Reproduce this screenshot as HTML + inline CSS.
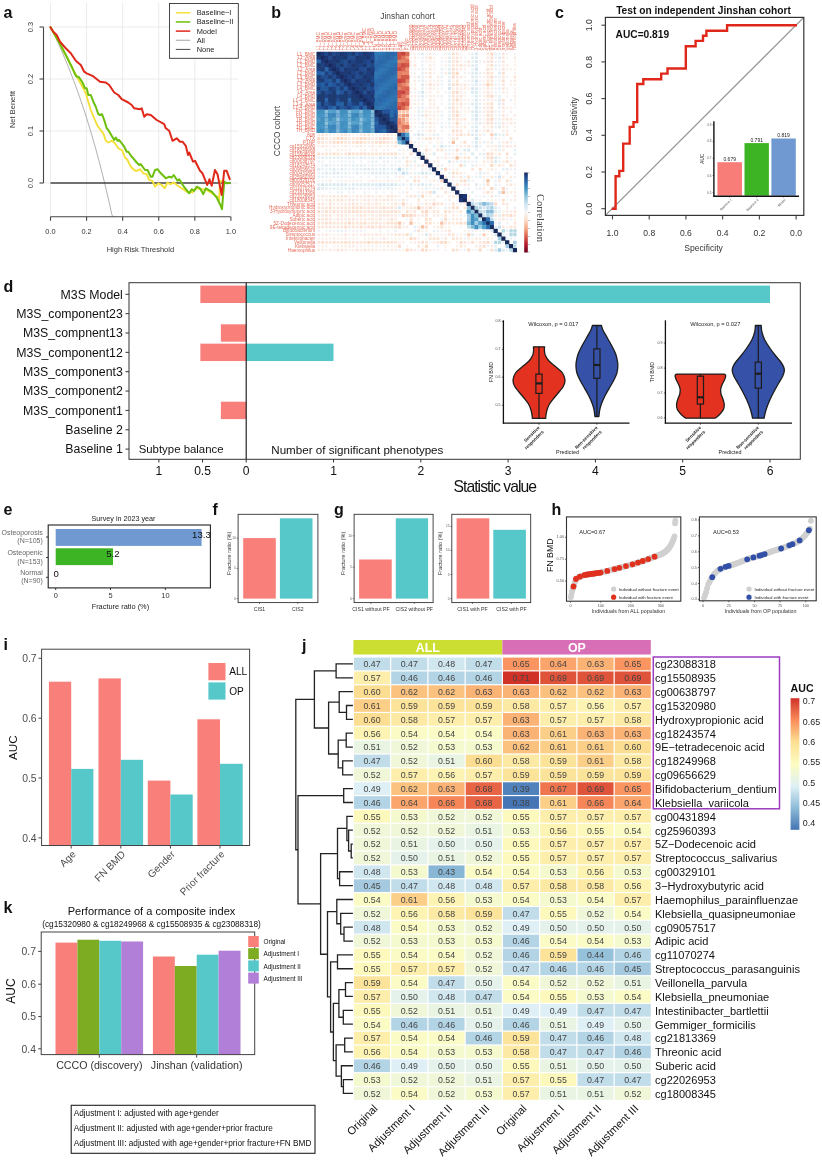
<!DOCTYPE html>
<html lang="en"><head><meta charset="utf-8"><title>Figure</title>
<style>
html,body{margin:0;padding:0;background:#fff;}
body{width:822px;height:1162px;overflow:hidden;}
svg{display:block;font-family:"Liberation Sans",sans-serif;}
</style></head><body>
<svg width="822" height="1162" viewBox="0 0 822 1162">
<rect x="0" y="0" width="822" height="1162" fill="#ffffff"/>
<g id="pa">
<text x="3.5" y="17.5" font-size="16" font-weight="bold" fill="#111" >a</text>
<line x1="50.5" y1="3" x2="50.5" y2="216.5" stroke="#e6e6e6" stroke-width="0.8" />
<line x1="86.58" y1="3" x2="86.58" y2="216.5" stroke="#e6e6e6" stroke-width="0.8" />
<line x1="122.66" y1="3" x2="122.66" y2="216.5" stroke="#e6e6e6" stroke-width="0.8" />
<line x1="158.74" y1="3" x2="158.74" y2="216.5" stroke="#e6e6e6" stroke-width="0.8" />
<line x1="194.82" y1="3" x2="194.82" y2="216.5" stroke="#e6e6e6" stroke-width="0.8" />
<line x1="230.9" y1="3" x2="230.9" y2="216.5" stroke="#e6e6e6" stroke-width="0.8" />
<line x1="43.5" y1="183" x2="238.5" y2="183" stroke="#e6e6e6" stroke-width="0.8" />
<line x1="43.5" y1="131" x2="238.5" y2="131" stroke="#e6e6e6" stroke-width="0.8" />
<line x1="43.5" y1="79" x2="238.5" y2="79" stroke="#e6e6e6" stroke-width="0.8" />
<line x1="43.5" y1="27" x2="238.5" y2="27" stroke="#e6e6e6" stroke-width="0.8" />
<polyline points="50.5,27 52.3,30.68 54.11,34.43 55.91,38.26 57.72,42.17 59.52,46.16 61.32,50.23 63.13,54.4 64.93,58.65 66.74,63 68.54,67.44 70.34,71.99 72.15,76.64 73.95,81.39 75.76,86.26 77.56,91.24 79.36,96.33 81.17,101.55 82.97,106.9 84.78,112.38 86.58,118 88.38,123.76 90.19,129.67 91.99,135.73 93.8,141.95 95.6,148.33 97.4,154.89 99.21,161.63 101.01,168.56 102.82,175.68 104.62,183 106.42,190.54 108.23,198.29 110.03,206.28 111.84,214.52 112.8,216.4" fill="none" stroke="#9a9a9a" stroke-width="0.8" stroke-linejoin="round" stroke-linecap="round" />
<line x1="50.5" y1="183" x2="230.8" y2="183" stroke="#444" stroke-width="1.3" />
<polyline points="50.5,27.2 60,44 66.7,56.7 73.3,70 78.3,79.2 83.3,88.3 85.8,93.3 88.3,101.7 90.8,110 94.2,118.3 97.5,125.8 100,129.2 103.3,133.3 105.8,140.8 108.3,142.5 111.7,140.8 115,143.3 118.3,148.3 122.5,150.8 125,157.5 127.5,160 130.8,166.7 135,170.8 137,170.8 140,169.2 143.3,173.3 146.7,174.2 149.2,180 152.5,180.8 155,186.7 158.3,183.3 161.7,185 164.7,188.3 167.5,182.5 170,184.2 174.2,182.5 176.7,185 181.7,188.3 186.7,191.7 192.5,192.5 195.8,188.3 201.7,189.2 206.7,190 213.3,194.2 217.5,196.7 219.2,200 220,181.7 221.7,180.8 224,183" fill="none" stroke="#f4e03a" stroke-width="1.9" stroke-linejoin="round" stroke-linecap="round" />
<polyline points="50.5,27.2 60,44 66.7,56.7 71.7,66.7 75.8,75.8 79.2,77.5 82.5,82.5 85,88.3 86.7,88.3 88.3,95 90.8,95 93.3,101.7 95.8,106.7 98.3,114.2 100,115 102,114.2 104.2,120 106.7,128.3 108.3,130 111.7,135.8 114.2,140 115.8,137.5 117.5,140.8 119.2,140 124.2,146.7 126.7,151.7 128.3,151.7 131.7,156.7 133.3,158.3 136.7,162.5 139.2,165 140.8,164.2 145,170 147.5,170 150.8,176.7 152.5,176.7 155,170 157.5,169.2 160.8,173.3 165.8,178.3 169.2,176.7 171.7,177.5 173.7,175 177.5,180.8 179.2,179.2 183.3,185.8 189.2,193.3 191.7,189.2 194.2,190.8 196.7,186.7 200,188.3 203.3,194.2 205.8,188.3 211.7,191.7 216.7,197.5 220,204.2 222,209.2 224.2,181.7 226.7,183.3 229.7,183" fill="none" stroke="#6cbf0a" stroke-width="2" stroke-linejoin="round" stroke-linecap="round" />
<polyline points="50.5,27.2 53.3,31.7 56.7,35 60,41.7 65,47.5 70.8,53.3 75.8,60.8 80.8,65 84.2,71.7 86.7,73.3 92.5,75.8 100,81.7 105.8,82.5 109.2,85 114.2,92.5 118.3,95 121.7,99.2 128.3,102.5 131.7,105 134.2,108.3 140,109.2 141.7,108.3 144.2,116.7 146.7,114.2 150.8,115 156.7,120 164.2,124.2 165.8,128.3 169.2,130.8 172.5,140.8 176.7,138.3 180,141.7 182.5,141.7 185.8,145.8 188,155 189.2,152.5 193,161.7 195,160.8 200,170.8 202.5,173.3 207.2,185 209.5,179.2 211.7,185.8 215,170 217.5,174.2 221.7,195 224.2,170.8 226.7,170.8 229.7,179.2" fill="none" stroke="#e0281a" stroke-width="2" stroke-linejoin="round" stroke-linecap="round" />
<line x1="43.5" y1="27.2" x2="43.5" y2="183" stroke="#444" stroke-width="1.1" />
<line x1="39.5" y1="183" x2="43.5" y2="183" stroke="#444" stroke-width="1.1" />
<text x="30.5" y="183" font-size="7.4" text-anchor="middle" dominant-baseline="central" fill="#333" transform="rotate(-90 30.5 183)" >0.0</text>
<line x1="39.5" y1="131" x2="43.5" y2="131" stroke="#444" stroke-width="1.1" />
<text x="30.5" y="131" font-size="7.4" text-anchor="middle" dominant-baseline="central" fill="#333" transform="rotate(-90 30.5 131)" >0.1</text>
<line x1="39.5" y1="79" x2="43.5" y2="79" stroke="#444" stroke-width="1.1" />
<text x="30.5" y="79" font-size="7.4" text-anchor="middle" dominant-baseline="central" fill="#333" transform="rotate(-90 30.5 79)" >0.2</text>
<line x1="39.5" y1="27" x2="43.5" y2="27" stroke="#444" stroke-width="1.1" />
<text x="30.5" y="27" font-size="7.4" text-anchor="middle" dominant-baseline="central" fill="#333" transform="rotate(-90 30.5 27)" >0.3</text>
<line x1="50.5" y1="216.7" x2="230.8" y2="216.7" stroke="#444" stroke-width="1.1" />
<line x1="50.5" y1="216.7" x2="50.5" y2="220.7" stroke="#444" stroke-width="1.1" />
<text x="50.5" y="231" font-size="7.4" text-anchor="middle" dominant-baseline="central" fill="#333" >0.0</text>
<line x1="86.58" y1="216.7" x2="86.58" y2="220.7" stroke="#444" stroke-width="1.1" />
<text x="86.58" y="231" font-size="7.4" text-anchor="middle" dominant-baseline="central" fill="#333" >0.2</text>
<line x1="122.66" y1="216.7" x2="122.66" y2="220.7" stroke="#444" stroke-width="1.1" />
<text x="122.66" y="231" font-size="7.4" text-anchor="middle" dominant-baseline="central" fill="#333" >0.4</text>
<line x1="158.74" y1="216.7" x2="158.74" y2="220.7" stroke="#444" stroke-width="1.1" />
<text x="158.74" y="231" font-size="7.4" text-anchor="middle" dominant-baseline="central" fill="#333" >0.6</text>
<line x1="194.82" y1="216.7" x2="194.82" y2="220.7" stroke="#444" stroke-width="1.1" />
<text x="194.82" y="231" font-size="7.4" text-anchor="middle" dominant-baseline="central" fill="#333" >0.8</text>
<line x1="230.9" y1="216.7" x2="230.9" y2="220.7" stroke="#444" stroke-width="1.1" />
<text x="230.9" y="231" font-size="7.4" text-anchor="middle" dominant-baseline="central" fill="#333" >1.0</text>
<text x="12.5" y="109.5" font-size="7.5" text-anchor="middle" dominant-baseline="central" fill="#333" transform="rotate(-90 12.5 109.5)" >Net Benefit</text>
<text x="140.4" y="249" font-size="7.5" text-anchor="middle" dominant-baseline="central" fill="#333" >High Risk Threshold</text>
<rect x="169.5" y="3.5" width="68.8" height="54.8" fill="#fff" stroke="#333" stroke-width="0.9" />
<line x1="175.8" y1="12.8" x2="190.3" y2="12.8" stroke="#f4e03a" stroke-width="1.5" />
<text x="196.7" y="12.8" font-size="7.4" dominant-baseline="central" fill="#222" >Baseline−I</text>
<line x1="175.8" y1="21.95" x2="190.3" y2="21.95" stroke="#6cbf0a" stroke-width="1.5" />
<text x="196.7" y="21.95" font-size="7.4" dominant-baseline="central" fill="#222" >Baseline−II</text>
<line x1="175.8" y1="31.1" x2="190.3" y2="31.1" stroke="#e0281a" stroke-width="1.5" />
<text x="196.7" y="31.1" font-size="7.4" dominant-baseline="central" fill="#222" >Model</text>
<line x1="175.8" y1="40.25" x2="190.3" y2="40.25" stroke="#9a9a9a" stroke-width="0.9" />
<text x="196.7" y="40.25" font-size="7.4" dominant-baseline="central" fill="#222" >All</text>
<line x1="175.8" y1="49.4" x2="190.3" y2="49.4" stroke="#333" stroke-width="0.9" />
<text x="196.7" y="49.4" font-size="7.4" dominant-baseline="central" fill="#222" >None</text>
</g>
<g id="pb">
<text x="271.3" y="18.2" font-size="16" font-weight="bold" fill="#111" >b</text>
<text x="407.5" y="16" font-size="8.4" text-anchor="middle" dominant-baseline="central" fill="#444" >Jinshan cohort</text>
<text x="277" y="131" font-size="8.4" text-anchor="middle" dominant-baseline="central" fill="#444" transform="rotate(-90 277 131)" >CCCO cohort</text>
<rect x="316.8" y="52" width="80.77" height="80.77" fill="#2a62a8" />
<rect x="397.57" y="52" width="11.54" height="57.69" fill="#d6604d" />
<path d="M316.57 51.77h4.3v4.3h-4.3zM320.42 55.62h4.3v4.3h-4.3zM324.27 59.47h4.3v4.3h-4.3zM328.11 63.31h4.3v4.3h-4.3zM331.96 67.16h4.3v4.3h-4.3zM335.81 71h4.3v4.3h-4.3zM339.65 74.85h4.3v4.3h-4.3zM343.5 78.7h4.3v4.3h-4.3zM347.34 82.54h4.3v4.3h-4.3zM351.19 86.39h4.3v4.3h-4.3zM355.03 90.24h4.3v4.3h-4.3zM358.88 94.08h4.3v4.3h-4.3zM362.73 97.93h4.3v4.3h-4.3zM366.57 101.77h4.3v4.3h-4.3zM370.42 105.62h4.3v4.3h-4.3zM374.26 109.47h4.3v4.3h-4.3zM378.11 113.31h4.3v4.3h-4.3zM381.96 117.16h4.3v4.3h-4.3zM385.8 121h4.3v4.3h-4.3zM389.65 124.85h4.3v4.3h-4.3zM393.5 128.7h4.3v4.3h-4.3zM397.34 132.54h4.3v4.3h-4.3zM401.19 136.39h4.3v4.3h-4.3zM405.03 140.23h4.3v4.3h-4.3zM408.88 144.08h4.3v4.3h-4.3zM412.73 147.93h4.3v4.3h-4.3zM416.57 151.77h4.3v4.3h-4.3zM420.42 155.62h4.3v4.3h-4.3zM424.26 159.46h4.3v4.3h-4.3zM428.11 163.31h4.3v4.3h-4.3zM431.95 167.16h4.3v4.3h-4.3zM435.8 171h4.3v4.3h-4.3zM439.65 174.85h4.3v4.3h-4.3zM443.49 178.69h4.3v4.3h-4.3zM447.34 182.54h4.3v4.3h-4.3zM451.19 186.39h4.3v4.3h-4.3zM455.03 190.23h4.3v4.3h-4.3zM458.88 194.08h4.3v4.3h-4.3zM462.72 197.92h4.3v4.3h-4.3zM466.57 201.77h4.3v4.3h-4.3zM470.41 205.62h4.3v4.3h-4.3zM474.26 209.46h4.3v4.3h-4.3zM478.11 213.31h4.3v4.3h-4.3zM481.95 217.15h4.3v4.3h-4.3zM485.8 221h4.3v4.3h-4.3zM489.64 224.84h4.3v4.3h-4.3zM493.49 228.69h4.3v4.3h-4.3zM497.34 232.54h4.3v4.3h-4.3zM501.18 236.38h4.3v4.3h-4.3zM505.03 240.23h4.3v4.3h-4.3zM508.88 244.08h4.3v4.3h-4.3zM512.72 247.92h4.3v4.3h-4.3z" fill="#182a5a"/>
<path d="M320.42 51.77h4.3v4.3h-4.3zM316.57 55.62h4.3v4.3h-4.3zM324.27 55.62h4.3v4.3h-4.3zM320.42 59.47h4.3v4.3h-4.3zM328.11 59.47h4.3v4.3h-4.3zM324.27 63.31h4.3v4.3h-4.3zM331.96 63.31h4.3v4.3h-4.3zM328.11 67.16h4.3v4.3h-4.3zM335.81 67.16h4.3v4.3h-4.3zM331.96 71h4.3v4.3h-4.3zM339.65 71h4.3v4.3h-4.3zM335.81 74.85h4.3v4.3h-4.3zM343.5 74.85h4.3v4.3h-4.3zM339.65 78.7h4.3v4.3h-4.3zM347.34 78.7h4.3v4.3h-4.3zM343.5 82.54h4.3v4.3h-4.3zM351.19 82.54h4.3v4.3h-4.3zM347.34 86.39h4.3v4.3h-4.3zM355.03 86.39h4.3v4.3h-4.3zM351.19 90.24h4.3v4.3h-4.3zM358.88 90.24h4.3v4.3h-4.3zM355.03 94.08h4.3v4.3h-4.3zM362.73 94.08h4.3v4.3h-4.3zM358.88 97.93h4.3v4.3h-4.3zM366.57 97.93h4.3v4.3h-4.3zM362.73 101.77h4.3v4.3h-4.3zM370.42 101.77h4.3v4.3h-4.3zM366.57 105.62h4.3v4.3h-4.3zM462.72 194.08h4.3v4.3h-4.3zM458.88 197.92h4.3v4.3h-4.3z" fill="#1e3672"/>
<path d="M324.27 51.77h4.3v4.3h-4.3zM370.42 78.7h4.3v4.3h-4.3zM366.57 82.54h4.3v4.3h-4.3zM370.42 86.39h4.3v4.3h-4.3zM328.11 90.24h4.3v4.3h-4.3zM393.5 121h4.3v4.3h-4.3zM385.8 128.7h4.3v4.3h-4.3z" fill="#1e488a"/>
<path d="M328.11 51.77h4.3v4.3h-4.3zM339.65 51.77h4.3v4.3h-4.3zM351.19 51.77h4.3v4.3h-4.3zM362.73 51.77h4.3v4.3h-4.3zM331.96 55.62h4.3v4.3h-4.3zM343.5 55.62h4.3v4.3h-4.3zM355.03 55.62h4.3v4.3h-4.3zM366.57 55.62h4.3v4.3h-4.3zM335.81 59.47h4.3v4.3h-4.3zM347.34 59.47h4.3v4.3h-4.3zM358.88 59.47h4.3v4.3h-4.3zM370.42 59.47h4.3v4.3h-4.3zM339.65 63.31h4.3v4.3h-4.3zM351.19 63.31h4.3v4.3h-4.3zM362.73 63.31h4.3v4.3h-4.3zM343.5 67.16h4.3v4.3h-4.3zM355.03 67.16h4.3v4.3h-4.3zM366.57 67.16h4.3v4.3h-4.3zM347.34 71h4.3v4.3h-4.3zM358.88 71h4.3v4.3h-4.3zM370.42 71h4.3v4.3h-4.3zM351.19 74.85h4.3v4.3h-4.3zM362.73 74.85h4.3v4.3h-4.3zM355.03 78.7h4.3v4.3h-4.3zM366.57 78.7h4.3v4.3h-4.3zM358.88 82.54h4.3v4.3h-4.3zM370.42 82.54h4.3v4.3h-4.3zM362.73 86.39h4.3v4.3h-4.3zM366.57 90.24h4.3v4.3h-4.3zM370.42 94.08h4.3v4.3h-4.3zM378.11 109.47h4.3v4.3h-4.3zM374.26 113.31h4.3v4.3h-4.3zM381.96 113.31h4.3v4.3h-4.3zM378.11 117.16h4.3v4.3h-4.3zM385.8 117.16h4.3v4.3h-4.3zM381.96 121h4.3v4.3h-4.3zM389.65 121h4.3v4.3h-4.3zM385.8 124.85h4.3v4.3h-4.3zM393.5 124.85h4.3v4.3h-4.3zM389.65 128.7h4.3v4.3h-4.3z" fill="#1e366c"/>
<path d="M331.96 51.77h4.3v4.3h-4.3zM328.11 55.62h4.3v4.3h-4.3z" fill="#24488a"/>
<path d="M335.81 51.77h4.3v4.3h-4.3zM370.42 74.85h4.3v4.3h-4.3zM362.73 82.54h4.3v4.3h-4.3zM358.88 86.39h4.3v4.3h-4.3zM328.11 101.77h4.3v4.3h-4.3z" fill="#1e427e"/>
<path d="M343.5 51.77h4.3v4.3h-4.3zM366.57 51.77h4.3v4.3h-4.3zM335.81 55.62h4.3v4.3h-4.3zM339.65 55.62h4.3v4.3h-4.3zM358.88 55.62h4.3v4.3h-4.3zM362.73 55.62h4.3v4.3h-4.3zM331.96 59.47h4.3v4.3h-4.3zM355.03 59.47h4.3v4.3h-4.3zM355.03 63.31h4.3v4.3h-4.3zM347.34 67.16h4.3v4.3h-4.3zM351.19 67.16h4.3v4.3h-4.3zM343.5 71h4.3v4.3h-4.3zM366.57 74.85h4.3v4.3h-4.3zM362.73 78.7h4.3v4.3h-4.3zM385.8 113.31h4.3v4.3h-4.3zM378.11 121h4.3v4.3h-4.3z" fill="#1e3c78"/>
<path d="M347.34 51.77h4.3v4.3h-4.3zM339.65 59.47h4.3v4.3h-4.3zM335.81 63.31h4.3v4.3h-4.3zM370.42 63.31h4.3v4.3h-4.3zM362.73 71h4.3v4.3h-4.3zM358.88 74.85h4.3v4.3h-4.3z" fill="#1e4884"/>
<path d="M355.03 51.77h4.3v4.3h-4.3zM347.34 55.62h4.3v4.3h-4.3zM351.19 55.62h4.3v4.3h-4.3zM343.5 59.47h4.3v4.3h-4.3zM343.5 63.31h4.3v4.3h-4.3zM366.57 63.31h4.3v4.3h-4.3zM339.65 67.16h4.3v4.3h-4.3zM362.73 67.16h4.3v4.3h-4.3zM320.42 74.85h4.3v4.3h-4.3zM324.27 74.85h4.3v4.3h-4.3zM331.96 74.85h4.3v4.3h-4.3zM355.03 74.85h4.3v4.3h-4.3zM351.19 78.7h4.3v4.3h-4.3zM339.65 82.54h4.3v4.3h-4.3zM366.57 86.39h4.3v4.3h-4.3zM324.27 90.24h4.3v4.3h-4.3zM347.34 90.24h4.3v4.3h-4.3zM362.73 90.24h4.3v4.3h-4.3zM335.81 97.93h4.3v4.3h-4.3zM320.42 105.62h4.3v4.3h-4.3zM343.5 105.62h4.3v4.3h-4.3z" fill="#244e90"/>
<path d="M358.88 51.77h4.3v4.3h-4.3zM370.42 51.77h4.3v4.3h-4.3zM351.19 59.47h4.3v4.3h-4.3zM362.73 59.47h4.3v4.3h-4.3zM320.42 63.31h4.3v4.3h-4.3zM347.34 63.31h4.3v4.3h-4.3zM358.88 63.31h4.3v4.3h-4.3zM316.57 67.16h4.3v4.3h-4.3zM324.27 71h4.3v4.3h-4.3zM351.19 71h4.3v4.3h-4.3zM347.34 74.85h4.3v4.3h-4.3zM316.57 78.7h4.3v4.3h-4.3zM324.27 82.54h4.3v4.3h-4.3zM335.81 82.54h4.3v4.3h-4.3zM331.96 86.39h4.3v4.3h-4.3zM324.27 94.08h4.3v4.3h-4.3zM335.81 94.08h4.3v4.3h-4.3zM347.34 94.08h4.3v4.3h-4.3zM351.19 101.77h4.3v4.3h-4.3zM324.27 105.62h4.3v4.3h-4.3zM335.81 105.62h4.3v4.3h-4.3zM347.34 105.62h4.3v4.3h-4.3zM358.88 105.62h4.3v4.3h-4.3z" fill="#1e4284"/>
<path d="M374.26 51.77h4.3v4.3h-4.3zM378.11 51.77h4.3v4.3h-4.3zM374.26 55.62h4.3v4.3h-4.3zM393.5 55.62h4.3v4.3h-4.3zM389.65 59.47h4.3v4.3h-4.3zM393.5 59.47h4.3v4.3h-4.3zM385.8 63.31h4.3v4.3h-4.3zM378.11 67.16h4.3v4.3h-4.3zM381.96 67.16h4.3v4.3h-4.3zM374.26 71h4.3v4.3h-4.3zM378.11 71h4.3v4.3h-4.3zM374.26 74.85h4.3v4.3h-4.3zM393.5 74.85h4.3v4.3h-4.3zM389.65 78.7h4.3v4.3h-4.3zM385.8 82.54h4.3v4.3h-4.3zM378.11 86.39h4.3v4.3h-4.3zM381.96 86.39h4.3v4.3h-4.3zM374.26 90.24h4.3v4.3h-4.3zM378.11 90.24h4.3v4.3h-4.3zM393.5 94.08h4.3v4.3h-4.3zM389.65 97.93h4.3v4.3h-4.3zM381.96 101.77h4.3v4.3h-4.3zM385.8 101.77h4.3v4.3h-4.3zM378.11 105.62h4.3v4.3h-4.3zM381.96 105.62h4.3v4.3h-4.3z" fill="#3078b4"/>
<path d="M381.96 51.77h4.3v4.3h-4.3zM385.8 59.47h4.3v4.3h-4.3zM381.96 63.31h4.3v4.3h-4.3zM385.8 67.16h4.3v4.3h-4.3zM381.96 71h4.3v4.3h-4.3zM389.65 74.85h4.3v4.3h-4.3zM385.8 78.7h4.3v4.3h-4.3zM389.65 82.54h4.3v4.3h-4.3zM385.8 86.39h4.3v4.3h-4.3zM374.26 94.08h4.3v4.3h-4.3zM389.65 94.08h4.3v4.3h-4.3zM393.5 97.93h4.3v4.3h-4.3zM389.65 101.77h4.3v4.3h-4.3zM374.26 105.62h4.3v4.3h-4.3z" fill="#3072ae"/>
<path d="M385.8 51.77h4.3v4.3h-4.3zM381.96 55.62h4.3v4.3h-4.3zM381.96 59.47h4.3v4.3h-4.3zM389.65 67.16h4.3v4.3h-4.3zM385.8 71h4.3v4.3h-4.3zM385.8 74.85h4.3v4.3h-4.3zM381.96 78.7h4.3v4.3h-4.3zM389.65 86.39h4.3v4.3h-4.3zM389.65 90.24h4.3v4.3h-4.3zM385.8 94.08h4.3v4.3h-4.3zM374.26 97.93h4.3v4.3h-4.3zM374.26 101.77h4.3v4.3h-4.3zM393.5 101.77h4.3v4.3h-4.3zM389.65 105.62h4.3v4.3h-4.3zM393.5 105.62h4.3v4.3h-4.3zM389.65 113.31h4.3v4.3h-4.3zM381.96 128.7h4.3v4.3h-4.3z" fill="#2a6ca8"/>
<path d="M389.65 51.77h4.3v4.3h-4.3zM385.8 55.62h4.3v4.3h-4.3zM316.57 59.47h4.3v4.3h-4.3zM378.11 59.47h4.3v4.3h-4.3zM374.26 63.31h4.3v4.3h-4.3zM324.27 67.16h4.3v4.3h-4.3zM393.5 67.16h4.3v4.3h-4.3zM320.42 71h4.3v4.3h-4.3zM389.65 71h4.3v4.3h-4.3zM381.96 74.85h4.3v4.3h-4.3zM378.11 78.7h4.3v4.3h-4.3zM374.26 82.54h4.3v4.3h-4.3zM393.5 86.39h4.3v4.3h-4.3zM335.81 90.24h4.3v4.3h-4.3zM385.8 90.24h4.3v4.3h-4.3zM381.96 94.08h4.3v4.3h-4.3zM324.27 97.93h4.3v4.3h-4.3zM347.34 97.93h4.3v4.3h-4.3zM378.11 97.93h4.3v4.3h-4.3zM331.96 105.62h4.3v4.3h-4.3zM374.26 121h4.3v4.3h-4.3z" fill="#2a66a8"/>
<path d="M393.5 51.77h4.3v4.3h-4.3zM378.11 63.31h4.3v4.3h-4.3zM374.26 78.7h4.3v4.3h-4.3zM393.5 82.54h4.3v4.3h-4.3zM378.11 94.08h4.3v4.3h-4.3zM381.96 97.93h4.3v4.3h-4.3zM389.65 109.47h4.3v4.3h-4.3zM401.19 132.54h4.3v4.3h-4.3zM405.03 136.39h4.3v4.3h-4.3zM485.8 217.15h4.3v4.3h-4.3zM481.95 221h4.3v4.3h-4.3zM489.64 221h4.3v4.3h-4.3zM485.8 224.84h4.3v4.3h-4.3z" fill="#2a6cae"/>
<path d="M397.34 51.77h4.3v4.3h-4.3zM397.34 94.08h4.3v4.3h-4.3z" fill="#d25448"/>
<path d="M401.19 51.77h4.3v4.3h-4.3z" fill="#c6423c"/>
<path d="M405.03 51.77h4.3v4.3h-4.3zM397.34 82.54h4.3v4.3h-4.3z" fill="#d86c54"/>
<path d="M409.93 52.83h2.19v2.19h-2.19zM413.78 52.83h2.18v2.18h-2.18zM425.32 52.83h2.18v2.18h-2.18zM467.61 52.82h2.21v2.21h-2.21zM409.92 56.66h2.22v2.22h-2.22zM433.01 56.68h2.19v2.19h-2.19zM444.53 56.66h2.21v2.21h-2.21zM413.78 60.53h2.18v2.18h-2.18zM433 60.51h2.21v2.21h-2.21zM433 64.36h2.21v2.21h-2.21zM463.75 68.18h2.25v2.25h-2.25zM506.06 68.19h2.24v2.24h-2.24zM509.91 68.2h2.22v2.22h-2.22zM513.74 68.17h2.27v2.27h-2.27zM409.92 72.04h2.22v2.22h-2.22zM413.74 75.86h2.27v2.27h-2.27zM425.31 75.9h2.2v2.2h-2.2zM483 75.9h2.21v2.21h-2.21zM452.21 79.72h2.25v2.25h-2.25zM409.93 83.6h2.19v2.19h-2.19zM425.29 83.57h2.25v2.25h-2.25zM509.9 83.57h2.24v2.24h-2.24zM513.74 83.56h2.25v2.25h-2.25zM409.91 87.42h2.24v2.24h-2.24zM425.3 87.43h2.22v2.22h-2.22zM483.01 87.45h2.18v2.18h-2.18zM506.07 87.43h2.22v2.22h-2.22zM513.75 87.42h2.24v2.24h-2.24zM432.98 95.11h2.25v2.25h-2.25zM463.75 95.11h2.24v2.24h-2.24zM506.05 95.1h2.26v2.26h-2.26zM409.9 98.95h2.25v2.25h-2.25zM467.63 98.98h2.18v2.18h-2.18zM513.78 98.98h2.18v2.18h-2.18zM409.92 102.81h2.22v2.22h-2.22zM513.75 102.81h2.23v2.23h-2.23zM463.78 106.68h2.18v2.18h-2.18zM506.08 106.67h2.2v2.2h-2.2zM509.92 106.67h2.2v2.2h-2.2zM413.77 110.51h2.21v2.21h-2.21zM467.6 110.5h2.23v2.23h-2.23zM409.92 114.36h2.21v2.21h-2.21zM506.04 114.33h2.27v2.27h-2.27zM436.84 118.2h2.21v2.21h-2.21zM482.98 118.18h2.24v2.24h-2.24zM413.78 122.06h2.18v2.18h-2.18zM467.61 122.05h2.21v2.21h-2.21zM506.04 122.02h2.27v2.27h-2.27zM432.98 125.88h2.24v2.24h-2.24zM513.74 125.87h2.25v2.25h-2.25zM425.3 129.73h2.22v2.22h-2.22zM394.55 133.59h2.19v2.19h-2.19zM498.38 137.43h2.21v2.21h-2.21zM459.91 141.27h2.22v2.22h-2.22zM329.16 145.12h2.21v2.21h-2.21zM340.71 145.14h2.18v2.18h-2.18zM363.78 145.13h2.19v2.19h-2.19zM383.02 145.14h2.18v2.18h-2.18zM390.71 145.14h2.18v2.18h-2.18zM406.08 145.13h2.2v2.2h-2.2zM344.52 148.95h2.24v2.24h-2.24zM348.4 148.98h2.18v2.18h-2.18zM383 148.97h2.2v2.2h-2.2zM452.22 152.81h2.22v2.22h-2.22zM448.37 164.34h2.24v2.24h-2.24zM494.52 164.34h2.24v2.24h-2.24zM425.3 168.19h2.23v2.23h-2.23zM452.21 168.18h2.25v2.25h-2.25zM486.83 168.19h2.23v2.23h-2.23zM494.54 168.2h2.21v2.21h-2.21zM432.98 172.03h2.24v2.24h-2.24zM440.68 172.03h2.23v2.23h-2.23zM402.21 175.87h2.26v2.26h-2.26zM456.07 175.89h2.22v2.22h-2.22zM317.61 179.72h2.23v2.23h-2.23zM348.36 179.71h2.26v2.26h-2.26zM352.21 179.72h2.25v2.25h-2.25zM356.05 179.71h2.26v2.26h-2.26zM367.61 179.73h2.23v2.23h-2.23zM375.3 179.73h2.22v2.22h-2.22zM390.69 179.73h2.22v2.22h-2.22zM394.53 179.72h2.23v2.23h-2.23zM398.38 179.73h2.23v2.23h-2.23zM429.17 179.75h2.18v2.18h-2.18zM436.86 183.59h2.19v2.19h-2.19zM406.06 187.41h2.24v2.24h-2.24zM421.46 187.43h2.2v2.2h-2.2zM444.51 187.41h2.25v2.25h-2.25zM456.07 187.43h2.21v2.21h-2.21zM452.24 191.29h2.18v2.18h-2.18zM383.01 195.13h2.18v2.18h-2.18zM425.31 195.12h2.21v2.21h-2.21zM325.28 202.79h2.26v2.26h-2.26zM436.84 206.66h2.21v2.21h-2.21zM429.16 210.51h2.2v2.2h-2.2zM456.05 210.48h2.25v2.25h-2.25zM332.99 214.34h2.24v2.24h-2.24zM440.66 214.32h2.27v2.27h-2.27zM456.07 214.35h2.21v2.21h-2.21zM382.99 218.18h2.24v2.24h-2.24zM417.6 218.19h2.23v2.23h-2.23zM413.75 222.02h2.25v2.25h-2.25zM433 225.89h2.21v2.21h-2.21zM444.54 225.89h2.2v2.2h-2.2zM506.06 225.88h2.23v2.23h-2.23zM463.76 229.73h2.22v2.22h-2.22zM475.3 229.73h2.22v2.22h-2.22zM486.82 229.71h2.26v2.26h-2.26zM348.39 233.59h2.19v2.19h-2.19zM356.07 233.57h2.23v2.23h-2.23zM382.97 233.55h2.26v2.26h-2.26zM486.83 233.57h2.24v2.24h-2.24zM317.61 237.42h2.22v2.22h-2.22zM321.44 237.41h2.25v2.25h-2.25zM329.15 237.42h2.22v2.22h-2.22zM352.2 237.4h2.27v2.27h-2.27zM363.76 237.41h2.23v2.23h-2.23zM402.24 237.44h2.18v2.18h-2.18zM406.08 237.43h2.2v2.2h-2.2zM417.61 237.42h2.22v2.22h-2.22zM425.32 237.44h2.19v2.19h-2.19zM402.21 241.25h2.25v2.25h-2.25zM456.05 241.24h2.27v2.27h-2.27zM325.28 245.09h2.27v2.27h-2.27zM356.06 245.1h2.24v2.24h-2.24zM367.6 245.11h2.23v2.23h-2.23zM382.99 245.11h2.22v2.22h-2.22zM390.69 245.11h2.22v2.22h-2.22zM421.47 245.13h2.19v2.19h-2.19zM456.07 245.12h2.22v2.22h-2.22zM348.38 248.96h2.21v2.21h-2.21zM386.83 248.95h2.24v2.24h-2.24zM432.99 248.95h2.23v2.23h-2.23zM444.55 248.98h2.18v2.18h-2.18z" fill="#fcf0ea"/>
<path d="M417.66 52.86h2.12v2.12h-2.12zM494.56 60.53h2.16v2.16h-2.16zM440.74 64.41h2.1v2.1h-2.1zM417.66 68.25h2.11v2.11h-2.11zM479.17 75.91h2.18v2.18h-2.18zM479.16 79.75h2.18v2.18h-2.18zM498.4 79.76h2.17v2.17h-2.17zM498.39 83.6h2.19v2.19h-2.19zM479.16 87.45h2.18v2.18h-2.18zM494.55 87.45h2.18v2.18h-2.18zM494.55 91.29h2.18v2.18h-2.18zM471.49 99h2.14v2.14h-2.14zM479.19 99.01h2.14v2.14h-2.14zM494.55 98.99h2.18v2.18h-2.18zM440.7 102.83h2.19v2.19h-2.19zM413.82 114.4h2.11v2.11h-2.11zM494.55 118.22h2.17v2.17h-2.17zM440.72 137.46h2.15v2.15h-2.15zM448.42 137.47h2.12v2.12h-2.12zM413.8 145.15h2.15v2.15h-2.15zM406.08 148.97h2.21v2.21h-2.21zM452.28 149.02h2.11v2.11h-2.11zM483.03 149h2.14v2.14h-2.14zM398.4 152.83h2.17v2.17h-2.17zM375.33 156.69h2.16v2.16h-2.16zM413.78 156.67h2.19v2.19h-2.19zM509.96 156.7h2.13v2.13h-2.13zM321.5 160.54h2.13v2.13h-2.13zM329.2 160.55h2.12v2.12h-2.12zM340.73 160.54h2.14v2.14h-2.14zM348.41 160.53h2.17v2.17h-2.17zM359.98 160.56h2.11v2.11h-2.11zM367.62 160.51h2.19v2.19h-2.19zM394.57 160.53h2.15v2.15h-2.15zM471.47 160.52h2.18v2.18h-2.18zM317.66 164.4h2.12v2.12h-2.12zM367.63 164.37h2.18v2.18h-2.18zM375.31 164.35h2.21v2.21h-2.21zM421.49 168.23h2.15v2.15h-2.15zM448.44 168.25h2.1v2.1h-2.1zM494.54 172.05h2.19v2.19h-2.19zM513.8 172.08h2.15v2.15h-2.15zM333.04 175.93h2.13v2.13h-2.13zM344.59 175.94h2.1v2.1h-2.1zM348.4 175.9h2.19v2.19h-2.19zM359.98 175.94h2.1v2.1h-2.1zM367.66 175.94h2.11v2.11h-2.11zM394.57 175.92h2.14v2.14h-2.14zM421.5 175.93h2.12v2.12h-2.12zM463.77 175.9h2.19v2.19h-2.19zM513.81 175.93h2.13v2.13h-2.13zM436.89 179.78h2.12v2.12h-2.12zM471.47 179.74h2.2v2.2h-2.2zM413.8 183.62h2.14v2.14h-2.14zM452.27 183.62h2.12v2.12h-2.12zM498.41 183.61h2.15v2.15h-2.15zM394.55 187.44h2.18v2.18h-2.18zM506.08 187.43h2.2v2.2h-2.2zM348.42 191.31h2.14v2.14h-2.14zM352.25 191.3h2.17v2.17h-2.17zM363.81 191.32h2.13v2.13h-2.13zM375.33 191.29h2.17v2.17h-2.17zM402.24 191.28h2.2v2.2h-2.2zM417.65 191.31h2.14v2.14h-2.14zM475.32 195.14h2.17v2.17h-2.17zM406.12 199.01h2.13v2.13h-2.13zM456.08 198.97h2.2v2.2h-2.2zM486.89 199.01h2.11v2.11h-2.11zM421.48 202.84h2.16v2.16h-2.16zM444.54 202.82h2.2v2.2h-2.2zM398.44 214.41h2.1v2.1h-2.1zM506.08 218.2h2.2v2.2h-2.2zM509.96 218.24h2.13v2.13h-2.13zM317.63 229.75h2.18v2.18h-2.18zM329.2 229.78h2.12v2.12h-2.12zM333.03 229.76h2.15v2.15h-2.15zM344.56 229.76h2.16v2.16h-2.16zM352.28 229.78h2.12v2.12h-2.12zM356.13 229.78h2.11v2.11h-2.11zM359.96 229.77h2.14v2.14h-2.14zM379.19 229.77h2.15v2.15h-2.15zM444.59 233.63h2.1v2.1h-2.1zM456.13 233.63h2.1v2.1h-2.1zM463.79 233.6h2.17v2.17h-2.17zM475.35 233.63h2.11v2.11h-2.11zM506.09 233.6h2.18v2.18h-2.18zM440.73 237.47h2.12v2.12h-2.12zM513.78 237.44h2.18v2.18h-2.18z" fill="#f0f0f6"/>
<path d="M421.27 52.63h2.59v2.59h-2.59zM448.17 56.45h2.63v2.63h-2.63zM471.29 56.49h2.56v2.56h-2.56zM498.16 56.44h2.66v2.66h-2.66zM448.21 60.33h2.56v2.56h-2.56zM471.27 64.17h2.59v2.59h-2.59zM475.09 64.14h2.64v2.64h-2.64zM448.18 68h2.61v2.61h-2.61zM471.25 71.84h2.62v2.62h-2.62zM498.16 71.83h2.65v2.65h-2.65zM471.26 75.7h2.6v2.6h-2.6zM475.08 75.67h2.66v2.66h-2.66zM448.18 79.54h2.62v2.62h-2.62zM421.23 83.36h2.67v2.67h-2.67zM448.16 83.36h2.66v2.66h-2.66zM475.07 83.36h2.67v2.67h-2.67zM421.26 94.92h2.62v2.62h-2.62zM498.17 98.76h2.64v2.64h-2.64zM471.26 102.61h2.61v2.61h-2.61zM498.2 102.63h2.58v2.58h-2.58zM448.18 106.46h2.61v2.61h-2.61zM471.25 110.3h2.62v2.62h-2.62zM421.24 114.14h2.65v2.65h-2.65zM448.2 118.02h2.58v2.58h-2.58zM421.28 121.86h2.58v2.58h-2.58zM475.09 121.83h2.63v2.63h-2.63zM498.2 125.71h2.57v2.57h-2.57zM421.25 133.38h2.62v2.62h-2.62zM471.23 133.35h2.67v2.67h-2.67zM475.13 133.41h2.57v2.57h-2.57zM498.18 144.92h2.61v2.61h-2.61zM463.55 148.75h2.64v2.64h-2.64zM321.29 156.48h2.56v2.56h-2.56zM359.75 156.49h2.56v2.56h-2.56zM394.31 156.43h2.66v2.66h-2.66zM475.08 156.44h2.65v2.65h-2.65zM325.1 164.14h2.63v2.63h-2.63zM317.4 167.98h2.65v2.65h-2.65zM332.78 167.97h2.66v2.66h-2.66zM340.51 168.01h2.58v2.58h-2.58zM363.56 167.99h2.63v2.63h-2.63zM367.43 168.01h2.58v2.58h-2.58zM382.82 168.02h2.57v2.57h-2.57zM325.12 171.86h2.58v2.58h-2.58zM332.81 171.85h2.6v2.6h-2.6zM336.62 171.81h2.67v2.67h-2.67zM355.89 171.86h2.59v2.59h-2.59zM371.25 171.84h2.63v2.63h-2.63zM375.1 171.84h2.62v2.62h-2.62zM378.97 171.86h2.57v2.57h-2.57zM382.79 171.84h2.63v2.63h-2.63zM394.33 171.84h2.62v2.62h-2.62zM478.97 171.87h2.57v2.57h-2.57zM317.39 183.35h2.68v2.68h-2.68zM325.08 183.35h2.67v2.67h-2.67zM355.85 183.35h2.68v2.68h-2.68zM359.7 183.36h2.66v2.66h-2.66zM409.69 183.35h2.67v2.67h-2.67zM417.43 183.4h2.57v2.57h-2.57zM428.97 183.4h2.57v2.57h-2.57zM475.1 183.37h2.63v2.63h-2.63zM321.24 187.2h2.66v2.66h-2.66zM348.21 187.25h2.56v2.56h-2.56zM352.03 187.23h2.61v2.61h-2.61zM498.2 214.17h2.56v2.56h-2.56zM498.16 221.82h2.66v2.66h-2.66zM471.25 233.37h2.63v2.63h-2.63z" fill="#deeaf0"/>
<path d="M429.04 52.71h2.43v2.43h-2.43zM413.68 56.57h2.39v2.39h-2.39zM425.24 56.59h2.35v2.35h-2.35zM459.85 56.59h2.35v2.35h-2.35zM486.73 56.55h2.43v2.43h-2.43zM513.7 56.6h2.33v2.33h-2.33zM482.93 60.44h2.35v2.35h-2.35zM429.04 64.25h2.43v2.43h-2.43zM463.65 64.24h2.43v2.43h-2.43zM467.53 64.28h2.37v2.37h-2.37zM502.14 64.27h2.39v2.39h-2.39zM506.01 64.29h2.33v2.33h-2.33zM425.2 71.95h2.42v2.42h-2.42zM436.78 75.83h2.34v2.34h-2.34zM413.67 79.64h2.4v2.4h-2.4zM429.08 79.67h2.35v2.35h-2.35zM436.77 83.51h2.35v2.35h-2.35zM482.91 83.5h2.38v2.38h-2.38zM413.67 87.34h2.4v2.4h-2.4zM459.82 91.18h2.41v2.41h-2.41zM490.6 91.19h2.39v2.39h-2.39zM413.7 95.06h2.34v2.34h-2.34zM432.91 98.88h2.39v2.39h-2.39zM459.82 98.87h2.42v2.42h-2.42zM482.91 98.89h2.37v2.37h-2.37zM486.74 98.86h2.42v2.42h-2.42zM490.62 98.9h2.34v2.34h-2.34zM413.68 102.73h2.38v2.38h-2.38zM432.9 102.72h2.41v2.41h-2.41zM429.07 106.58h2.37v2.37h-2.37zM436.76 106.58h2.38v2.38h-2.38zM459.83 106.57h2.4v2.4h-2.4zM482.92 110.44h2.35v2.35h-2.35zM502.11 110.4h2.43v2.43h-2.43zM429.07 114.27h2.37v2.37h-2.37zM432.91 114.27h2.38v2.38h-2.38zM513.69 114.28h2.36v2.36h-2.36zM425.23 121.97h2.36v2.36h-2.36zM432.93 121.98h2.35v2.35h-2.35zM452.15 121.97h2.36v2.36h-2.36zM482.91 121.96h2.39v2.39h-2.39zM513.67 121.95h2.39v2.39h-2.39zM452.13 125.79h2.4v2.4h-2.4zM482.92 125.81h2.37v2.37h-2.37zM409.82 129.64h2.41v2.41h-2.41zM482.89 129.63h2.42v2.42h-2.42zM490.6 129.65h2.38v2.38h-2.38zM502.13 129.64h2.4v2.4h-2.4zM348.31 133.5h2.37v2.37h-2.37zM359.83 133.49h2.39v2.39h-2.39zM452.15 133.51h2.36v2.36h-2.36zM463.68 133.5h2.39v2.39h-2.39zM479.06 133.49h2.4v2.4h-2.4zM421.38 137.35h2.37v2.37h-2.37zM432.9 137.34h2.4v2.4h-2.4zM436.78 137.37h2.34v2.34h-2.34zM429.06 141.18h2.4v2.4h-2.4zM479.08 141.21h2.34v2.34h-2.34zM502.12 141.17h2.42v2.42h-2.42zM325.22 145.03h2.4v2.4h-2.4zM332.94 145.06h2.34v2.34h-2.34zM344.45 145.03h2.4v2.4h-2.4zM356.01 145.05h2.35v2.35h-2.35zM386.77 145.04h2.37v2.37h-2.37zM459.86 145.06h2.33v2.33h-2.33zM490.63 145.06h2.33v2.33h-2.33zM509.82 145.02h2.41v2.41h-2.41zM336.77 148.89h2.36v2.36h-2.36zM375.23 148.89h2.37v2.37h-2.37zM490.61 148.89h2.37v2.37h-2.37zM444.47 152.74h2.35v2.35h-2.35zM436.75 156.56h2.4v2.4h-2.4zM452.14 156.57h2.39v2.39h-2.39zM432.93 160.44h2.34v2.34h-2.34zM452.15 160.43h2.36v2.36h-2.36zM486.74 160.4h2.42v2.42h-2.42zM513.7 160.44h2.33v2.33h-2.33zM413.7 164.29h2.34v2.34h-2.34zM425.2 164.24h2.43v2.43h-2.43zM436.74 164.25h2.41v2.41h-2.41zM475.22 164.27h2.38v2.38h-2.38zM502.15 164.28h2.36v2.36h-2.36zM513.66 164.25h2.41v2.41h-2.41zM409.81 171.94h2.42v2.42h-2.42zM398.32 175.82h2.34v2.34h-2.34zM417.52 175.8h2.39v2.39h-2.39zM482.89 175.78h2.42v2.42h-2.42zM371.4 179.67h2.33v2.33h-2.33zM386.75 179.64h2.41v2.41h-2.41zM405.98 179.64h2.4v2.4h-2.4zM467.52 183.49h2.4v2.4h-2.4zM506 183.51h2.35v2.35h-2.35zM482.93 187.36h2.34v2.34h-2.34zM421.37 191.19h2.38v2.38h-2.38zM425.21 191.17h2.41v2.41h-2.41zM482.9 191.18h2.41v2.41h-2.41zM490.59 191.18h2.4v2.4h-2.4zM505.98 191.18h2.4v2.4h-2.4zM513.69 191.2h2.36v2.36h-2.36zM317.52 195.02h2.41v2.41h-2.41zM325.21 195.02h2.42v2.42h-2.42zM348.3 195.04h2.37v2.37h-2.37zM359.82 195.01h2.43v2.43h-2.43zM363.69 195.04h2.37v2.37h-2.37zM371.37 195.03h2.4v2.4h-2.4zM375.2 195.01h2.43v2.43h-2.43zM406 195.04h2.37v2.37h-2.37zM448.3 195.04h2.37v2.37h-2.37zM455.98 195.03h2.39v2.39h-2.39zM513.69 195.05h2.36v2.36h-2.36zM317.55 198.9h2.35v2.35h-2.35zM321.38 198.88h2.38v2.38h-2.38zM325.2 198.86h2.43v2.43h-2.43zM344.45 198.88h2.38v2.38h-2.38zM371.36 198.86h2.42v2.42h-2.42zM394.47 198.9h2.35v2.35h-2.35zM425.23 198.89h2.35v2.35h-2.35zM432.89 198.86h2.43v2.43h-2.43zM448.29 198.87h2.4v2.4h-2.4zM336.76 202.72h2.39v2.39h-2.39zM340.63 202.75h2.34v2.34h-2.34zM359.84 202.72h2.39v2.39h-2.39zM371.35 202.7h2.43v2.43h-2.43zM406.01 202.75h2.34v2.34h-2.34zM429.07 202.73h2.37v2.37h-2.37zM463.67 202.71h2.41v2.41h-2.41zM402.16 206.59h2.34v2.34h-2.34zM432.9 206.56h2.41v2.41h-2.41zM448.29 206.57h2.39v2.39h-2.39zM505.97 206.56h2.41v2.41h-2.41zM452.15 210.42h2.37v2.37h-2.37zM509.83 210.42h2.38v2.38h-2.38zM317.52 214.25h2.41v2.41h-2.41zM352.15 214.27h2.37v2.37h-2.37zM375.2 214.24h2.42v2.42h-2.42zM417.54 214.28h2.35v2.35h-2.35zM432.92 214.27h2.36v2.36h-2.36zM452.12 214.24h2.42v2.42h-2.42zM340.59 218.09h2.42v2.42h-2.42zM344.46 218.12h2.37v2.37h-2.37zM355.99 218.11h2.38v2.38h-2.38zM359.84 218.11h2.38v2.38h-2.38zM455.97 218.09h2.42v2.42h-2.42zM498.29 218.11h2.38v2.38h-2.38zM402.13 225.78h2.42v2.42h-2.42zM417.54 225.82h2.35v2.35h-2.35zM444.44 229.64h2.4v2.4h-2.4zM317.52 233.48h2.4v2.4h-2.4zM321.4 233.51h2.34v2.34h-2.34zM359.86 233.52h2.33v2.33h-2.33zM367.52 233.48h2.41v2.41h-2.41zM386.77 233.51h2.36v2.36h-2.36zM390.63 233.52h2.34v2.34h-2.34zM332.91 237.34h2.39v2.39h-2.39zM344.45 237.34h2.38v2.38h-2.38zM371.4 237.36h2.33v2.33h-2.33zM479.04 237.32h2.43v2.43h-2.43zM398.3 241.19h2.38v2.38h-2.38zM413.7 241.21h2.34v2.34h-2.34zM432.93 241.21h2.34v2.34h-2.34zM467.55 241.21h2.34v2.34h-2.34zM348.3 245.04h2.37v2.37h-2.37zM352.14 245.03h2.39v2.39h-2.39zM386.75 245.03h2.39v2.39h-2.39zM475.21 245.03h2.4v2.4h-2.4zM490.61 245.04h2.36v2.36h-2.36zM321.36 248.86h2.41v2.41h-2.41zM332.93 248.89h2.35v2.35h-2.35zM344.44 248.86h2.42v2.42h-2.42zM352.15 248.88h2.37v2.37h-2.37zM359.84 248.88h2.37v2.37h-2.37zM375.2 248.86h2.42v2.42h-2.42zM382.9 248.87h2.4v2.4h-2.4zM394.43 248.86h2.43v2.43h-2.43zM413.69 248.89h2.36v2.36h-2.36zM429.08 248.89h2.36v2.36h-2.36z" fill="#fceae4"/>
<path d="M433.09 52.91h2.03v2.03h-2.03zM459.97 52.87h2.1v2.1h-2.1zM506.12 52.86h2.12v2.12h-2.12zM513.87 52.92h2v2h-2zM440.75 56.72h2.09v2.09h-2.09zM463.82 56.71h2.11v2.11h-2.11zM506.13 56.72h2.1v2.1h-2.1zM425.37 60.57h2.09v2.09h-2.09zM444.63 60.6h2.03v2.03h-2.03zM410 68.28h2.06v2.06h-2.06zM413.84 68.27h2.07v2.07h-2.07zM425.39 68.29h2.04v2.04h-2.04zM433.09 68.29h2.03v2.03h-2.03zM413.87 72.15h2.02v2.02h-2.02zM433.07 72.12h2.06v2.06h-2.06zM463.83 72.12h2.07v2.07h-2.07zM467.69 72.12h2.06v2.06h-2.06zM513.81 72.09h2.12v2.12h-2.12zM410 75.97h2.06v2.06h-2.06zM506.13 75.95h2.09v2.09h-2.09zM425.38 79.81h2.07v2.07h-2.07zM433.11 79.85h1.99v1.99h-1.99zM463.86 79.83h2.02v2.02h-2.02zM467.7 79.83h2.03v2.03h-2.03zM483.04 79.79h2.11v2.11h-2.11zM510 79.82h2.04v2.04h-2.04zM467.7 83.67h2.03v2.03h-2.03zM436.95 87.54h1.99v1.99h-1.99zM440.77 87.51h2.05v2.05h-2.05zM409.97 91.32h2.12v2.12h-2.12zM413.86 91.37h2.02v2.02h-2.02zM425.39 91.36h2.05v2.05h-2.05zM506.18 91.39h1.99v1.99h-1.99zM513.84 91.36h2.05v2.05h-2.05zM463.86 99.07h2.02v2.02h-2.02zM413.81 106.7h2.13v2.13h-2.13zM425.35 106.7h2.12v2.12h-2.12zM513.84 106.74h2.06v2.06h-2.06zM459.97 110.56h2.1v2.1h-2.1zM509.96 110.55h2.12v2.12h-2.12zM436.95 114.46h2v2h-2zM463.86 114.45h2.03v2.03h-2.03zM479.22 114.42h2.08v2.08h-2.08zM483.04 114.4h2.13v2.13h-2.13zM409.99 118.27h2.07v2.07h-2.07zM417.71 122.14h2.02v2.02h-2.02zM436.93 122.13h2.04v2.04h-2.04zM444.62 122.13h2.04v2.04h-2.04zM463.85 122.13h2.04v2.04h-2.04zM413.84 125.96h2.07v2.07h-2.07zM425.35 125.94h2.12v2.12h-2.12zM444.58 125.93h2.12v2.12h-2.12zM467.68 129.81h2.07v2.07h-2.07zM479.22 129.81h2.06v2.06h-2.06zM333.09 133.67h2.04v2.04h-2.04zM352.3 133.65h2.08v2.08h-2.08zM356.14 133.64h2.09v2.09h-2.09zM375.4 133.67h2.04v2.04h-2.04zM425.41 133.68h2.01v2.01h-2.01zM410.02 137.53h2.01v2.01h-2.01zM479.22 137.5h2.07v2.07h-2.07zM417.66 141.32h2.13v2.13h-2.13zM348.46 145.2h2.06v2.06h-2.06zM352.28 145.17h2.12v2.12h-2.12zM367.71 145.21h2.03v2.03h-2.03zM398.49 145.23h2v2h-2zM417.69 145.19h2.07v2.07h-2.07zM452.3 145.19h2.07v2.07h-2.07zM386.96 149.08h1.99v1.99h-1.99zM398.46 156.73h2.06v2.06h-2.06zM448.48 156.76h2.01v2.01h-2.01zM429.21 160.56h2.1v2.1h-2.1zM510.01 160.6h2.02v2.02h-2.02zM402.33 164.45h2.01v2.01h-2.01zM452.31 164.43h2.05v2.05h-2.05zM409.96 168.24h2.13v2.13h-2.13zM413.86 168.29h2.03v2.03h-2.03zM510.01 168.29h2.03v2.03h-2.03zM463.84 172.12h2.07v2.07h-2.07zM475.39 172.13h2.03v2.03h-2.03zM486.9 175.95h2.1v2.1h-2.1zM325.39 179.82h2.05v2.05h-2.05zM336.93 179.82h2.04v2.04h-2.04zM340.74 179.78h2.11v2.11h-2.11zM448.48 179.84h2.01v2.01h-2.01zM452.33 179.84h2.01v2.01h-2.01zM456.17 179.83h2.02v2.02h-2.02zM433.06 183.64h2.09v2.09h-2.09zM460 183.66h2.06v2.06h-2.06zM398.46 187.5h2.07v2.07h-2.07zM417.67 187.48h2.1v2.1h-2.1zM429.26 187.54h1.99v1.99h-1.99zM513.82 187.49h2.09v2.09h-2.09zM390.75 191.33h2.1v2.1h-2.1zM440.79 195.22h2.01v2.01h-2.01zM506.17 195.22h2.01v2.01h-2.01zM429.2 199.02h2.11v2.11h-2.11zM475.36 199.02h2.09v2.09h-2.09zM494.64 199.07h1.99v1.99h-1.99zM498.48 199.07h2.01v2.01h-2.01zM410 202.89h2.06v2.06h-2.06zM448.49 202.92h1.99v1.99h-1.99zM456.18 202.92h1.99v1.99h-1.99zM460.01 202.9h2.03v2.03h-2.03zM463.83 214.42h2.07v2.07h-2.07zM506.14 222.11h2.08v2.08h-2.08zM421.55 229.82h2.04v2.04h-2.04zM440.74 229.78h2.11v2.11h-2.11zM467.66 229.78h2.11v2.11h-2.11zM417.72 233.68h2v2h-2zM490.77 233.66h2.05v2.05h-2.05zM348.45 237.49h2.08v2.08h-2.08zM356.12 237.47h2.13v2.13h-2.13zM375.35 237.47h2.13v2.13h-2.13zM379.25 237.53h2.01v2.01h-2.01zM390.79 237.53h2.01v2.01h-2.01zM429.21 241.33h2.09v2.09h-2.09zM490.79 241.37h2.01v2.01h-2.01zM317.69 245.19h2.07v2.07h-2.07zM363.87 245.21h2.02v2.02h-2.02zM371.55 245.21h2.03v2.03h-2.03zM379.21 245.18h2.09v2.09h-2.09zM406.18 245.23h2v2h-2zM436.92 249.04h2.06v2.06h-2.06zM459.98 249.02h2.09v2.09h-2.09zM471.52 249.03h2.08v2.08h-2.08zM475.38 249.04h2.05v2.05h-2.05z" fill="#f6f0f0"/>
<path d="M444.57 52.85h2.15v2.15h-2.15zM463.8 60.54h2.15v2.15h-2.15zM409.95 64.38h2.16v2.16h-2.16zM463.79 75.92h2.15v2.15h-2.15zM444.57 91.31h2.15v2.15h-2.15zM425.33 95.14h2.17v2.17h-2.17zM436.87 95.15h2.17v2.17h-2.17zM413.8 99h2.16v2.16h-2.16zM463.79 102.84h2.16v2.16h-2.16zM444.55 106.68h2.17v2.17h-2.17zM433.02 110.53h2.17v2.17h-2.17zM413.81 118.24h2.13v2.13h-2.13zM425.33 118.22h2.17v2.17h-2.17zM459.95 122.08h2.15v2.15h-2.15zM506.1 125.92h2.16v2.16h-2.16zM329.19 133.61h2.15v2.15h-2.15zM379.17 133.6h2.17v2.17h-2.17zM429.19 133.62h2.14v2.14h-2.14zM317.64 145.14h2.17v2.17h-2.17zM375.34 145.15h2.15v2.15h-2.15zM436.87 145.15h2.15v2.15h-2.15zM463.78 145.14h2.17v2.17h-2.17zM325.35 149h2.14v2.14h-2.14zM329.18 148.99h2.17v2.17h-2.17zM363.81 149.01h2.13v2.13h-2.13zM371.49 148.99h2.16v2.16h-2.16zM402.27 152.85h2.13v2.13h-2.13zM425.32 152.83h2.17v2.17h-2.17zM398.42 164.39h2.13v2.13h-2.13zM479.18 164.38h2.15v2.15h-2.15zM321.48 179.75h2.18v2.18h-2.18zM359.94 179.76h2.17v2.17h-2.17zM509.95 199h2.14v2.14h-2.14zM386.88 202.84h2.15v2.15h-2.15zM417.64 222.07h2.16v2.16h-2.16zM433.03 222.07h2.16v2.16h-2.16zM333.02 233.6h2.17v2.17h-2.17zM340.72 233.6h2.17v2.17h-2.17zM421.48 233.6h2.17v2.17h-2.17zM440.71 233.6h2.16v2.16h-2.16zM386.87 237.45h2.16v2.16h-2.16zM398.41 237.46h2.15v2.15h-2.15zM409.96 241.31h2.14v2.14h-2.14zM333.03 245.15h2.15v2.15h-2.15zM336.89 245.16h2.13v2.13h-2.13zM359.94 245.14h2.18v2.18h-2.18zM417.64 248.99h2.15v2.15h-2.15z" fill="#f6f0ea"/>
<path d="M448.26 52.69h2.46v2.46h-2.46zM471.34 52.7h2.45v2.45h-2.45zM494.42 52.7h2.44v2.44h-2.44zM498.28 52.72h2.41v2.41h-2.41zM498.3 60.43h2.37v2.37h-2.37zM448.28 64.25h2.42v2.42h-2.42zM494.41 64.23h2.46v2.46h-2.46zM421.34 68.08h2.45v2.45h-2.45zM440.6 68.11h2.39v2.39h-2.39zM421.37 75.8h2.39v2.39h-2.39zM440.6 75.81h2.38v2.38h-2.38zM494.44 75.8h2.4v2.4h-2.4zM498.27 75.78h2.43v2.43h-2.43zM471.36 83.49h2.41v2.41h-2.41zM498.29 87.34h2.39v2.39h-2.39zM417.51 91.18h2.41v2.41h-2.41zM448.28 91.18h2.41v2.41h-2.41zM421.34 102.7h2.45v2.45h-2.45zM448.27 102.7h2.44v2.44h-2.44zM479.06 102.73h2.38v2.38h-2.38zM417.51 106.56h2.41v2.41h-2.41zM421.37 106.57h2.39v2.39h-2.39zM498.29 106.57h2.38v2.38h-2.38zM448.27 110.4h2.42v2.42h-2.42zM479.03 110.39h2.45v2.45h-2.45zM417.51 114.25h2.42v2.42h-2.42zM471.36 114.25h2.41v2.41h-2.41zM498.25 118.07h2.46v2.46h-2.46zM494.42 121.93h2.44v2.44h-2.44zM440.57 125.78h2.44v2.44h-2.44zM471.34 129.62h2.44v2.44h-2.44zM413.68 133.5h2.39v2.39h-2.39zM436.73 133.47h2.45v2.45h-2.45zM494.45 137.34h2.39v2.39h-2.39zM482.89 141.17h2.42v2.42h-2.42zM498.26 141.15h2.45v2.45h-2.45zM432.88 145.01h2.44v2.44h-2.44zM444.45 148.88h2.39v2.39h-2.39zM475.18 148.85h2.45v2.45h-2.45zM513.64 148.85h2.45v2.45h-2.45zM459.83 152.72h2.39v2.39h-2.39zM513.68 152.73h2.38v2.38h-2.38zM317.51 156.55h2.42v2.42h-2.42zM325.2 156.55h2.43v2.43h-2.43zM344.44 156.56h2.4v2.4h-2.4zM363.65 156.54h2.45v2.45h-2.45zM382.88 156.54h2.45v2.45h-2.45zM386.73 156.54h2.44v2.44h-2.44zM371.37 160.42h2.38v2.38h-2.38zM375.22 160.42h2.38v2.38h-2.38zM398.27 160.39h2.43v2.43h-2.43zM459.81 160.4h2.43v2.43h-2.43zM475.21 160.41h2.39v2.39h-2.39zM498.29 160.42h2.39v2.39h-2.39zM321.38 164.27h2.38v2.38h-2.38zM352.12 164.24h2.43v2.43h-2.43zM355.99 164.27h2.38v2.38h-2.38zM363.65 164.23h2.45v2.45h-2.45zM371.34 164.23h2.46v2.46h-2.46zM382.89 164.24h2.44v2.44h-2.44zM390.57 164.23h2.46v2.46h-2.46zM409.81 164.24h2.42v2.42h-2.42zM321.36 168.09h2.43v2.43h-2.43zM344.46 168.12h2.37v2.37h-2.37zM379.03 168.07h2.46v2.46h-2.46zM386.76 168.11h2.39v2.39h-2.39zM390.6 168.11h2.4v2.4h-2.4zM394.41 168.07h2.46v2.46h-2.46zM402.14 168.11h2.38v2.38h-2.38zM405.96 168.08h2.44v2.44h-2.44zM502.11 168.08h2.45v2.45h-2.45zM321.34 171.92h2.46v2.46h-2.46zM340.6 171.95h2.41v2.41h-2.41zM348.31 171.97h2.37v2.37h-2.37zM367.5 171.92h2.45v2.45h-2.45zM413.64 171.92h2.46v2.46h-2.46zM448.3 171.96h2.37v2.37h-2.37zM482.88 171.93h2.44v2.44h-2.44zM498.26 171.93h2.44v2.44h-2.44zM317.52 175.79h2.41v2.41h-2.41zM321.37 175.8h2.39v2.39h-2.39zM340.57 175.77h2.45v2.45h-2.45zM479.03 175.77h2.45v2.45h-2.45zM467.49 179.61h2.46v2.46h-2.46zM398.28 183.48h2.42v2.42h-2.42zM402.12 183.48h2.42v2.42h-2.42zM494.42 183.47h2.43v2.43h-2.43zM344.44 187.33h2.41v2.41h-2.41zM375.2 187.32h2.43v2.43h-2.43zM379.03 187.31h2.46v2.46h-2.46zM390.59 187.33h2.41v2.41h-2.41zM425.18 187.3h2.46v2.46h-2.46zM417.51 195.01h2.42v2.42h-2.42zM444.42 206.54h2.44v2.44h-2.44zM413.65 225.77h2.45v2.45h-2.45zM336.77 229.65h2.37v2.37h-2.37zM432.91 229.64h2.4v2.4h-2.4zM505.94 229.61h2.46v2.46h-2.46zM502.1 233.45h2.46v2.46h-2.46zM505.94 237.3h2.46v2.46h-2.46zM509.79 237.3h2.46v2.46h-2.46zM502.1 241.14h2.46v2.46h-2.46zM494.41 244.99h2.46v2.46h-2.46zM505.94 248.84h2.46v2.46h-2.46z" fill="#e4f0f6"/>
<path d="M451.94 52.53h2.79v2.79h-2.79zM428.86 56.38h2.79v2.79h-2.79zM490.41 56.39h2.76v2.76h-2.76zM490.41 64.08h2.77v2.77h-2.77zM451.91 67.88h2.86v2.86h-2.86zM486.55 67.91h2.79v2.79h-2.79zM451.95 71.77h2.77v2.77h-2.77zM501.9 71.72h2.87v2.87h-2.87zM451.93 75.59h2.81v2.81h-2.81zM501.94 79.45h2.78v2.78h-2.78zM451.95 83.3h2.77v2.77h-2.77zM455.75 83.26h2.85v2.85h-2.85zM451.9 90.95h2.86v2.86h-2.86zM486.56 94.84h2.78v2.78h-2.78zM501.93 98.68h2.8v2.8h-2.8zM490.4 102.52h2.8v2.8h-2.8zM455.77 110.2h2.82v2.82h-2.82zM490.38 110.2h2.82v2.82h-2.82zM486.53 114.04h2.84v2.84h-2.84zM486.54 121.75h2.81v2.81h-2.81zM451.93 129.44h2.81v2.81h-2.81zM486.55 129.45h2.79v2.79h-2.79zM459.63 133.29h2.79v2.79h-2.79zM321.15 137.12h2.83v2.83h-2.83zM344.26 137.15h2.77v2.77h-2.77zM378.85 137.13h2.81v2.81h-2.81zM386.52 137.11h2.86v2.86h-2.86zM428.85 137.13h2.82v2.82h-2.82zM317.3 140.96h2.85v2.85h-2.85zM332.67 140.95h2.87v2.87h-2.87zM340.4 140.99h2.79v2.79h-2.79zM375.02 140.99h2.79v2.79h-2.79zM382.67 140.94h2.87v2.87h-2.87zM463.44 140.95h2.87v2.87h-2.87zM317.33 152.52h2.79v2.79h-2.79zM332.67 152.48h2.88v2.88h-2.88zM359.62 152.51h2.82v2.82h-2.82zM363.47 152.52h2.81v2.81h-2.81zM390.39 152.51h2.82v2.82h-2.82zM394.23 152.5h2.83v2.83h-2.83zM409.61 152.5h2.84v2.84h-2.84zM490.37 152.5h2.84v2.84h-2.84zM505.75 152.49h2.85v2.85h-2.85zM486.53 156.35h2.84v2.84h-2.84zM505.74 160.17h2.87v2.87h-2.87zM509.63 164.07h2.78v2.78h-2.78zM478.83 167.88h2.84v2.84h-2.84zM451.94 171.75h2.79v2.79h-2.79zM467.33 175.61h2.77v2.77h-2.77zM413.44 179.41h2.87v2.87h-2.87zM505.76 179.43h2.83v2.83h-2.83zM455.75 183.26h2.86v2.86h-2.86zM486.56 183.3h2.78v2.78h-2.78zM428.87 190.99h2.78v2.78h-2.78zM486.51 190.94h2.87v2.87h-2.87zM501.95 198.69h2.77v2.77h-2.77zM328.88 206.38h2.77v2.77h-2.77zM351.93 206.35h2.82v2.82h-2.82zM355.8 206.38h2.76v2.76h-2.76zM359.62 206.35h2.82v2.82h-2.82zM382.7 206.36h2.81v2.81h-2.81zM428.83 206.34h2.85v2.85h-2.85zM451.94 206.37h2.78v2.78h-2.78zM455.75 206.33h2.86v2.86h-2.86zM324.99 210.19h2.85v2.85h-2.85zM332.72 210.22h2.78v2.78h-2.78zM351.91 210.19h2.85v2.85h-2.85zM355.76 210.19h2.84v2.84h-2.84zM390.36 210.17h2.87v2.87h-2.87zM394.24 210.21h2.81v2.81h-2.81zM405.76 210.19h2.84v2.84h-2.84zM421.16 210.21h2.8v2.8h-2.8zM444.25 210.22h2.77v2.77h-2.77zM425.02 214.07h2.77v2.77h-2.77zM501.91 214.03h2.84v2.84h-2.84zM409.62 217.89h2.82v2.82h-2.82zM424.99 217.88h2.85v2.85h-2.85zM325.02 221.75h2.8v2.8h-2.8zM328.85 221.74h2.82v2.82h-2.82zM363.44 221.71h2.87v2.87h-2.87zM386.56 221.75h2.79v2.79h-2.79zM390.37 221.72h2.85v2.85h-2.85zM394.23 221.74h2.82v2.82h-2.82zM425.01 221.74h2.81v2.81h-2.81zM428.87 221.76h2.76v2.76h-2.76zM344.24 225.59h2.81v2.81h-2.81zM359.65 225.61h2.77v2.77h-2.77zM371.13 225.55h2.88v2.88h-2.88zM378.83 225.57h2.85v2.85h-2.85zM394.26 225.61h2.77v2.77h-2.77zM424.97 225.55h2.88v2.88h-2.88zM440.4 225.6h2.78v2.78h-2.78zM417.32 229.44h2.79v2.79h-2.79zM321.16 240.96h2.82v2.82h-2.82zM332.69 240.96h2.84v2.84h-2.84zM344.22 240.96h2.84v2.84h-2.84zM386.56 240.99h2.78v2.78h-2.78zM390.41 240.99h2.77v2.77h-2.77zM471.17 240.98h2.79v2.79h-2.79zM482.67 244.79h2.86v2.86h-2.86zM425.03 248.69h2.76v2.76h-2.76zM451.91 248.65h2.84v2.84h-2.84zM490.39 248.66h2.81v2.81h-2.81z" fill="#fcdecc"/>
<path d="M455.86 52.6h2.64v2.64h-2.64zM486.62 52.59h2.66v2.66h-2.66zM502.03 52.62h2.6v2.6h-2.6zM455.86 56.45h2.63v2.63h-2.63zM452.01 60.29h2.65v2.65h-2.65zM467.44 60.33h2.56v2.56h-2.56zM486.63 60.29h2.64v2.64h-2.64zM502 60.29h2.66v2.66h-2.66zM413.56 64.15h2.63v2.63h-2.63zM452.04 64.17h2.59v2.59h-2.59zM455.88 64.16h2.6v2.6h-2.6zM428.97 68.02h2.57v2.57h-2.57zM490.48 68h2.62v2.62h-2.62zM502.04 68.02h2.57v2.57h-2.57zM428.99 71.88h2.54v2.54h-2.54zM428.94 75.68h2.63v2.63h-2.63zM455.87 75.69h2.62v2.62h-2.62zM502.02 75.69h2.63v2.63h-2.63zM490.47 79.53h2.64v2.64h-2.64zM463.6 83.42h2.54v2.54h-2.54zM455.91 87.26h2.55v2.55h-2.55zM486.65 87.24h2.59v2.59h-2.59zM502.04 87.24h2.58v2.58h-2.58zM486.64 91.07h2.62v2.62h-2.62zM455.85 94.9h2.65v2.65h-2.65zM459.73 94.94h2.58v2.58h-2.58zM452.01 98.75h2.64v2.64h-2.64zM459.71 102.61h2.63v2.63h-2.63zM502.04 106.47h2.58v2.58h-2.58zM502.05 114.18h2.56v2.56h-2.56zM452.01 117.98h2.64v2.64h-2.64zM455.85 117.97h2.67v2.67h-2.67zM463.59 118.02h2.57v2.57h-2.57zM505.87 118h2.62v2.62h-2.62zM428.98 121.88h2.55v2.55h-2.55zM455.87 125.69h2.61v2.61h-2.61zM428.93 129.52h2.65v2.65h-2.65zM459.69 129.51h2.66v2.66h-2.66zM321.26 133.38h2.61v2.61h-2.61zM340.52 133.41h2.56v2.56h-2.56zM344.35 133.39h2.59v2.59h-2.59zM363.58 133.39h2.59v2.59h-2.59zM367.45 133.42h2.55v2.55h-2.55zM386.65 133.38h2.61v2.61h-2.61zM455.88 133.39h2.6v2.6h-2.6zM505.86 133.37h2.63v2.63h-2.63zM325.11 137.23h2.61v2.61h-2.61zM348.21 137.26h2.56v2.56h-2.56zM352.07 137.26h2.54v2.54h-2.54zM375.12 137.24h2.59v2.59h-2.59zM390.48 137.22h2.64v2.64h-2.64zM452 137.2h2.67v2.67h-2.67zM455.89 137.25h2.57v2.57h-2.57zM321.25 141.07h2.63v2.63h-2.63zM328.93 141.05h2.66v2.66h-2.66zM344.36 141.09h2.57v2.57h-2.57zM371.28 141.1h2.57v2.57h-2.57zM386.62 141.05h2.66v2.66h-2.66zM394.33 141.07h2.63v2.63h-2.63zM409.74 141.1h2.57v2.57h-2.57zM505.88 141.09h2.59v2.59h-2.59zM394.37 144.95h2.54v2.54h-2.54zM467.45 144.96h2.54v2.54h-2.54zM505.89 144.94h2.58v2.58h-2.58zM417.45 148.8h2.54v2.54h-2.54zM436.68 148.8h2.54v2.54h-2.54zM321.3 152.65h2.54v2.54h-2.54zM328.96 152.62h2.6v2.6h-2.6zM344.34 152.61h2.62v2.62h-2.62zM378.93 152.59h2.66v2.66h-2.66zM382.79 152.61h2.62v2.62h-2.62zM498.21 152.64h2.55v2.55h-2.55zM425.09 156.45h2.63v2.63h-2.63zM463.58 156.47h2.59v2.59h-2.59zM421.26 164.15h2.61v2.61h-2.61zM498.17 164.15h2.62v2.62h-2.62zM471.28 168.02h2.57v2.57h-2.57zM455.9 171.87h2.55v2.55h-2.55zM459.72 175.69h2.62v2.62h-2.62zM490.47 175.67h2.65v2.65h-2.65zM417.39 179.51h2.66v2.66h-2.66zM498.16 179.52h2.64v2.64h-2.64zM509.75 183.41h2.55v2.55h-2.55zM440.49 187.23h2.61v2.61h-2.61zM444.33 191.07h2.62v2.62h-2.62zM332.8 194.92h2.61v2.61h-2.61zM340.51 194.94h2.57v2.57h-2.57zM344.36 194.94h2.58v2.58h-2.58zM367.41 194.92h2.62v2.62h-2.62zM378.98 194.94h2.57v2.57h-2.57zM386.67 194.94h2.56v2.56h-2.56zM390.47 194.9h2.65v2.65h-2.65zM409.72 194.92h2.6v2.6h-2.6zM413.56 194.91h2.62v2.62h-2.62zM490.49 194.93h2.6v2.6h-2.6zM336.66 198.78h2.58v2.58h-2.58zM348.21 198.79h2.55v2.55h-2.55zM375.11 198.76h2.61v2.61h-2.61zM382.81 198.77h2.6v2.6h-2.6zM386.67 198.79h2.56v2.56h-2.56zM402.04 198.78h2.58v2.58h-2.58zM417.4 198.76h2.63v2.63h-2.63zM317.44 202.64h2.56v2.56h-2.56zM328.94 202.59h2.65v2.65h-2.65zM352.04 202.62h2.6v2.6h-2.6zM355.9 202.64h2.56v2.56h-2.56zM367.4 202.6h2.64v2.64h-2.64zM375.11 202.62h2.6v2.6h-2.6zM394.35 202.63h2.58v2.58h-2.58zM425.12 202.62h2.59v2.59h-2.59zM436.63 202.6h2.63v2.63h-2.63zM440.47 202.6h2.64v2.64h-2.64zM502.03 202.61h2.61v2.61h-2.61zM317.42 206.46h2.61v2.61h-2.61zM321.27 206.46h2.61v2.61h-2.61zM325.13 206.48h2.56v2.56h-2.56zM332.83 206.48h2.56v2.56h-2.56zM336.65 206.46h2.61v2.61h-2.61zM340.49 206.45h2.62v2.62h-2.62zM363.55 206.44h2.65v2.65h-2.65zM371.27 206.47h2.6v2.6h-2.6zM375.08 206.43h2.66v2.66h-2.66zM378.95 206.45h2.63v2.63h-2.63zM386.63 206.45h2.63v2.63h-2.63zM394.31 206.43h2.66v2.66h-2.66zM409.72 206.46h2.61v2.61h-2.61zM421.25 206.45h2.62v2.62h-2.62zM328.94 210.29h2.64v2.64h-2.64zM336.66 210.31h2.59v2.59h-2.59zM340.53 210.34h2.54v2.54h-2.54zM344.31 210.28h2.67v2.67h-2.67zM363.56 210.3h2.62v2.62h-2.62zM375.12 210.31h2.6v2.6h-2.6zM398.21 210.33h2.57v2.57h-2.57zM413.54 210.27h2.67v2.67h-2.67zM432.81 210.32h2.58v2.58h-2.58zM436.67 210.33h2.57v2.57h-2.57zM448.19 210.31h2.59v2.59h-2.59zM459.7 210.29h2.64v2.64h-2.64zM513.56 210.3h2.62v2.62h-2.62zM325.13 214.17h2.58v2.58h-2.58zM328.94 214.14h2.64v2.64h-2.64zM340.53 214.19h2.54v2.54h-2.54zM359.75 214.18h2.55v2.55h-2.55zM363.57 214.15h2.61v2.61h-2.61zM371.29 214.18h2.55v2.55h-2.55zM378.94 214.13h2.65v2.65h-2.65zM382.83 214.18h2.55v2.55h-2.55zM386.65 214.15h2.61v2.61h-2.61zM321.28 218.01h2.58v2.58h-2.58zM325.09 217.98h2.64v2.64h-2.64zM352.06 218.03h2.55v2.55h-2.55zM371.3 218.03h2.54v2.54h-2.54zM378.97 218.01h2.58v2.58h-2.58zM317.43 221.85h2.59v2.59h-2.59zM321.26 221.84h2.62v2.62h-2.62zM332.8 221.84h2.61v2.61h-2.61zM336.67 221.87h2.56v2.56h-2.56zM340.51 221.86h2.58v2.58h-2.58zM355.89 221.85h2.59v2.59h-2.59zM371.23 221.81h2.67v2.67h-2.67zM444.32 221.83h2.63v2.63h-2.63zM448.21 221.87h2.56v2.56h-2.56zM513.57 221.85h2.6v2.6h-2.6zM325.11 225.69h2.61v2.61h-2.61zM336.66 225.7h2.59v2.59h-2.59zM340.52 225.72h2.55v2.55h-2.55zM355.88 225.69h2.6v2.6h-2.6zM363.55 225.67h2.64v2.64h-2.64zM375.11 225.69h2.6v2.6h-2.6zM382.8 225.69h2.6v2.6h-2.6zM386.62 225.66h2.67v2.67h-2.67zM502.06 225.72h2.54v2.54h-2.54zM509.7 225.67h2.65v2.65h-2.65zM448.17 229.52h2.64v2.64h-2.64zM344.38 233.42h2.54v2.54h-2.54zM394.37 233.41h2.55v2.55h-2.55zM398.19 233.39h2.6v2.6h-2.6zM428.96 233.39h2.59v2.59h-2.59zM448.17 233.37h2.64v2.64h-2.64zM444.33 237.22h2.62v2.62h-2.62zM455.87 237.22h2.62v2.62h-2.62zM317.44 241.09h2.57v2.57h-2.57zM325.08 241.04h2.67v2.67h-2.67zM328.96 241.08h2.6v2.6h-2.6zM336.66 241.08h2.59v2.59h-2.59zM352.01 241.05h2.65v2.65h-2.65zM355.88 241.07h2.62v2.62h-2.62zM359.7 241.05h2.65v2.65h-2.65zM425.12 241.09h2.58v2.58h-2.58zM436.65 241.08h2.6v2.6h-2.6zM417.41 244.91h2.62v2.62h-2.62zM336.63 248.75h2.64v2.64h-2.64zM340.52 248.79h2.57v2.57h-2.57zM355.91 248.8h2.54v2.54h-2.54zM363.59 248.79h2.56v2.56h-2.56zM409.75 248.79h2.56v2.56h-2.56z" fill="#fce4d8"/>
<path d="M475 52.51h2.82v2.82h-2.82zM475 60.21h2.82v2.82h-2.82zM471.16 87.14h2.8v2.8h-2.8zM417.31 133.28h2.82v2.82h-2.82zM317.33 187.14h2.79v2.79h-2.79z" fill="#d8e4f0"/>
<path d="M490.32 52.45h2.95v2.95h-2.95zM455.71 71.68h2.95v2.95h-2.95zM455.69 98.59h2.98v2.98h-2.98zM490.3 117.82h2.98v2.98h-2.98zM455.69 121.67h2.97v2.97h-2.97zM459.53 163.96h2.99v2.99h-2.99zM490.31 163.98h2.96v2.96h-2.96zM444.15 167.81h2.99v2.99h-2.99zM421.08 194.74h2.98v2.98h-2.98zM405.69 213.96h2.98v2.98h-2.98zM409.54 237.05h2.97v2.97h-2.97zM367.24 240.89h2.97v2.97h-2.97zM444.15 240.88h2.99v2.99h-2.99zM424.93 244.75h2.95v2.95h-2.95zM405.69 248.57h2.99v2.99h-2.99zM467.24 248.59h2.95v2.95h-2.95z" fill="#fcd8c0"/>
<path d="M370.42 55.62h4.3v4.3h-4.3zM366.57 59.47h4.3v4.3h-4.3zM358.88 67.16h4.3v4.3h-4.3zM355.03 71h4.3v4.3h-4.3z" fill="#244890"/>
<path d="M378.11 55.62h4.3v4.3h-4.3zM389.65 55.62h4.3v4.3h-4.3zM374.26 59.47h4.3v4.3h-4.3zM393.5 63.31h4.3v4.3h-4.3zM374.26 67.16h4.3v4.3h-4.3zM393.5 71h4.3v4.3h-4.3zM378.11 74.85h4.3v4.3h-4.3zM378.11 82.54h4.3v4.3h-4.3zM374.26 86.39h4.3v4.3h-4.3zM381.96 90.24h4.3v4.3h-4.3zM393.5 90.24h4.3v4.3h-4.3zM378.11 101.77h4.3v4.3h-4.3zM385.8 105.62h4.3v4.3h-4.3z" fill="#306cae"/>
<path d="M397.34 55.62h4.3v4.3h-4.3z" fill="#cc5448"/>
<path d="M401.19 55.62h4.3v4.3h-4.3zM405.03 97.93h4.3v4.3h-4.3zM405.03 124.85h4.3v4.3h-4.3z" fill="#de725a"/>
<path d="M405.36 55.95h3.63v3.63h-3.63zM405.37 94.42h3.63v3.63h-3.63zM405.37 113.65h3.62v3.62h-3.62z" fill="#f09c7e"/>
<path d="M417.71 56.76h2.02v2.02h-2.02zM444.64 68.31h2v2h-2zM494.63 79.84h2.01v2.01h-2.01zM479.26 91.39h1.99v1.99h-1.99zM498.45 91.35h2.06v2.06h-2.06zM471.51 95.18h2.1v2.1h-2.1zM440.75 99.03h2.08v2.08h-2.08zM467.72 102.92h2v2h-2zM471.55 106.75h2.03v2.03h-2.03zM494.61 114.43h2.06v2.06h-2.06zM421.53 118.27h2.08v2.08h-2.08zM440.79 118.3h2.02v2.02h-2.02zM513.84 118.28h2.05v2.05h-2.05zM417.73 126h1.99v1.99h-1.99zM448.45 129.8h2.08v2.08h-2.08zM502.33 137.54h1.99v1.99h-1.99zM421.55 141.36h2.04v2.04h-2.04zM513.83 141.34h2.08v2.08h-2.08zM421.52 145.18h2.09v2.09h-2.09zM410.01 149.06h2.04v2.04h-2.04zM460.01 149.06h2.03v2.03h-2.03zM333.07 160.57h2.08v2.08h-2.08zM336.95 160.6h2.01v2.01h-2.01zM344.61 160.57h2.08v2.08h-2.08zM390.78 160.6h2.02v2.02h-2.02zM386.96 164.46h1.99v1.99h-1.99zM329.27 176h1.99v1.99h-1.99zM352.3 175.96h2.07v2.07h-2.07zM379.24 175.98h2.03v2.03h-2.03zM383.07 175.96h2.06v2.06h-2.06zM433.09 175.98h2.03v2.03h-2.03zM448.45 175.96h2.07v2.07h-2.07zM471.57 176h1.99v1.99h-1.99zM425.36 179.79h2.09v2.09h-2.09zM483.06 179.8h2.08v2.08h-2.08zM406.14 183.65h2.08v2.08h-2.08zM479.23 183.66h2.05v2.05h-2.05zM448.47 187.52h2.03v2.03h-2.03zM463.86 187.53h2.01v2.01h-2.01zM498.49 187.54h1.99v1.99h-1.99zM329.26 191.38h2v2h-2zM367.71 191.37h2.02v2.02h-2.02zM383.1 191.37h2.02v2.02h-2.02zM398.46 191.35h2.06v2.06h-2.06zM463.85 191.36h2.05v2.05h-2.05zM479.23 195.2h2.05v2.05h-2.05zM486.95 195.23h2v2h-2zM444.64 199.07h1.99v1.99h-1.99zM506.14 199.04h2.07v2.07h-2.07zM402.33 210.61h2.01v2.01h-2.01zM406.14 218.26h2.08v2.08h-2.08zM448.44 218.26h2.08v2.08h-2.08zM459.98 225.95h2.08v2.08h-2.08zM325.37 229.79h2.09v2.09h-2.09zM348.47 229.82h2.04v2.04h-2.04zM363.86 229.82h2.04v2.04h-2.04zM386.91 229.8h2.08v2.08h-2.08zM479.22 229.8h2.08v2.08h-2.08zM483.08 237.51h2.03v2.03h-2.03zM486.9 249.03h2.08v2.08h-2.08z" fill="#f0f6f6"/>
<path d="M421.43 56.63h2.28v2.28h-2.28zM494.48 56.61h2.32v2.32h-2.32zM421.43 60.48h2.27v2.27h-2.27zM440.68 60.5h2.24v2.24h-2.24zM479.1 60.46h2.32v2.32h-2.32zM421.45 64.35h2.23v2.23h-2.23zM498.31 64.28h2.35v2.35h-2.35zM494.46 68.13h2.35v2.35h-2.35zM498.37 68.19h2.23v2.23h-2.23zM440.64 71.99h2.32v2.32h-2.32zM479.08 71.98h2.35v2.35h-2.35zM417.57 79.7h2.29v2.29h-2.29zM440.63 79.68h2.33v2.33h-2.33zM440.68 83.57h2.23v2.23h-2.23zM479.13 83.56h2.26v2.26h-2.26zM494.53 83.58h2.22v2.22h-2.22zM417.56 95.07h2.31v2.31h-2.31zM440.63 95.06h2.34v2.34h-2.34zM448.31 95.05h2.36v2.36h-2.36zM479.13 95.1h2.26v2.26h-2.26zM494.51 95.1h2.25v2.25h-2.25zM417.58 98.94h2.28v2.28h-2.28zM509.9 98.95h2.25v2.25h-2.25zM467.61 106.66h2.22v2.22h-2.22zM479.09 106.61h2.32v2.32h-2.32zM440.68 110.5h2.22v2.22h-2.22zM494.48 110.46h2.31v2.31h-2.31zM498.37 110.5h2.23v2.23h-2.23zM440.62 114.28h2.36v2.36h-2.36zM498.33 114.3h2.32v2.32h-2.32zM417.57 118.16h2.29v2.29h-2.29zM479.1 118.15h2.3v2.3h-2.3zM440.63 121.98h2.34v2.34h-2.34zM471.42 122.01h2.29v2.29h-2.29zM448.33 125.84h2.31v2.31h-2.31zM494.51 125.86h2.27v2.27h-2.27zM417.56 129.69h2.31v2.31h-2.31zM421.46 129.74h2.21v2.21h-2.21zM440.68 129.72h2.24v2.24h-2.24zM448.35 133.56h2.27v2.27h-2.27zM482.93 133.51h2.35v2.35h-2.35zM413.7 141.2h2.35v2.35h-2.35zM440.64 141.22h2.31v2.31h-2.31zM448.37 141.27h2.23v2.23h-2.23zM471.38 141.2h2.36v2.36h-2.36zM509.88 141.24h2.29v2.29h-2.29zM456.04 145.09h2.27v2.27h-2.27zM471.38 145.05h2.36v2.36h-2.36zM479.13 145.11h2.24v2.24h-2.24zM398.37 148.95h2.25v2.25h-2.25zM448.33 148.92h2.31v2.31h-2.31zM448.31 152.75h2.35v2.35h-2.35zM356.07 156.65h2.23v2.23h-2.23zM367.56 156.61h2.32v2.32h-2.32zM390.66 156.63h2.28v2.28h-2.28zM440.69 156.66h2.21v2.21h-2.21zM482.96 156.62h2.29v2.29h-2.29zM498.32 156.6h2.32v2.32h-2.32zM317.6 160.49h2.24v2.24h-2.24zM352.2 160.47h2.28v2.28h-2.28zM382.95 160.46h2.31v2.31h-2.31zM386.82 160.48h2.26v2.26h-2.26zM456.01 160.45h2.33v2.33h-2.33zM467.58 160.47h2.27v2.27h-2.27zM329.12 164.32h2.28v2.28h-2.28zM332.95 164.3h2.32v2.32h-2.32zM336.83 164.33h2.24v2.24h-2.24zM348.34 164.3h2.31v2.31h-2.31zM379.13 164.33h2.25v2.25h-2.25zM394.51 164.33h2.26v2.26h-2.26zM440.61 164.27h2.37v2.37h-2.37zM325.25 168.13h2.34v2.34h-2.34zM336.79 168.14h2.32v2.32h-2.32zM348.33 168.14h2.33v2.33h-2.33zM352.16 168.12h2.36v2.36h-2.36zM513.72 168.15h2.3v2.3h-2.3zM317.57 171.99h2.31v2.31h-2.31zM352.21 172.02h2.25v2.25h-2.25zM359.91 172.03h2.25v2.25h-2.25zM398.32 171.98h2.34v2.34h-2.34zM325.3 175.88h2.23v2.23h-2.23zM336.84 175.89h2.22v2.22h-2.22zM375.28 175.86h2.27v2.27h-2.27zM386.78 175.82h2.35v2.35h-2.35zM409.92 175.88h2.22v2.22h-2.22zM475.24 175.83h2.33v2.33h-2.33zM494.47 175.82h2.35v2.35h-2.35zM494.47 179.67h2.35v2.35h-2.35zM509.87 179.69h2.31v2.31h-2.31zM482.98 183.57h2.24v2.24h-2.24zM329.08 187.35h2.36v2.36h-2.36zM356.04 187.39h2.29v2.29h-2.29zM359.87 187.37h2.32v2.32h-2.32zM363.76 187.42h2.23v2.23h-2.23zM367.57 187.38h2.31v2.31h-2.31zM371.44 187.41h2.25v2.25h-2.25zM382.96 187.39h2.28v2.28h-2.28zM409.91 187.42h2.23v2.23h-2.23zM432.92 187.35h2.36v2.36h-2.36zM436.8 187.39h2.29v2.29h-2.29zM467.59 187.4h2.26v2.26h-2.26zM475.3 187.42h2.22v2.22h-2.22zM479.07 187.35h2.36v2.36h-2.36zM494.49 187.38h2.3v2.3h-2.3zM336.84 191.27h2.22v2.22h-2.22zM340.62 191.2h2.35v2.35h-2.35zM448.32 191.22h2.32v2.32h-2.32zM459.9 191.25h2.25v2.25h-2.25zM482.94 195.06h2.32v2.32h-2.32zM494.5 195.09h2.28v2.28h-2.28zM498.35 195.09h2.27v2.27h-2.27zM398.31 198.9h2.35v2.35h-2.35zM479.13 198.95h2.25v2.25h-2.25zM498.35 206.63h2.27v2.27h-2.27zM513.71 206.61h2.31v2.31h-2.31zM459.91 214.34h2.23v2.23h-2.23zM440.65 218.16h2.29v2.29h-2.29zM494.48 218.14h2.32v2.32h-2.32zM494.51 222.02h2.26v2.26h-2.26zM340.63 229.67h2.34v2.34h-2.34zM394.52 229.72h2.25v2.25h-2.25zM413.72 229.69h2.3v2.3h-2.3zM436.79 229.68h2.32v2.32h-2.32zM471.43 229.7h2.27v2.27h-2.27zM482.93 229.67h2.34v2.34h-2.34zM479.1 233.53h2.31v2.31h-2.31zM463.76 237.42h2.23v2.23h-2.23zM436.82 245.09h2.26v2.26h-2.26zM486.83 245.11h2.23v2.23h-2.23zM398.36 248.94h2.26v2.26h-2.26zM463.75 248.95h2.24v2.24h-2.24z" fill="#eaf0f6"/>
<path d="M452 56.43h2.67v2.67h-2.67zM459.67 64.11h2.71v2.71h-2.71zM490.43 71.79h2.73v2.73h-2.73zM486.61 75.66h2.67v2.67h-2.67zM513.52 75.65h2.71v2.71h-2.71zM455.81 79.48h2.73v2.73h-2.73zM486.6 79.5h2.69v2.69h-2.69zM490.43 83.32h2.74v2.74h-2.74zM451.97 94.87h2.72v2.72h-2.72zM451.97 102.56h2.72v2.72h-2.72zM486.6 102.58h2.69v2.69h-2.69zM486.6 110.27h2.69v2.69h-2.69zM425.06 114.11h2.69v2.69h-2.69zM451.99 114.12h2.68v2.68h-2.68zM490.43 114.09h2.74v2.74h-2.74zM490.45 125.65h2.69v2.69h-2.69zM467.35 133.33h2.73v2.73h-2.73zM332.77 137.2h2.68v2.68h-2.68zM355.81 137.16h2.74v2.74h-2.74zM367.37 137.18h2.7v2.7h-2.7zM425.07 137.2h2.68v2.68h-2.68zM509.65 137.16h2.74v2.74h-2.74zM351.98 141.02h2.72v2.72h-2.72zM363.51 141.02h2.73v2.73h-2.73zM440.42 148.7h2.74v2.74h-2.74zM325.07 152.57h2.69v2.69h-2.69zM336.6 152.56h2.71v2.71h-2.71zM351.98 152.56h2.72v2.72h-2.72zM367.38 152.58h2.68v2.68h-2.68zM371.21 152.56h2.71v2.71h-2.71zM375.04 152.55h2.74v2.74h-2.74zM386.61 152.58h2.67v2.67h-2.67zM467.37 156.42h2.7v2.7h-2.7zM405.82 160.25h2.73v2.73h-2.73zM490.46 160.27h2.67v2.67h-2.67zM405.84 164.12h2.68v2.68h-2.68zM459.68 179.5h2.69v2.69h-2.69zM328.92 198.73h2.67v2.67h-2.67zM340.46 198.73h2.68v2.68h-2.68zM344.28 206.39h2.74v2.74h-2.74zM348.12 206.4h2.74v2.74h-2.74zM390.46 206.42h2.68v2.68h-2.68zM413.54 206.43h2.67v2.67h-2.67zM463.54 206.43h2.67v2.67h-2.67zM359.68 210.26h2.69v2.69h-2.69zM367.36 210.25h2.72v2.72h-2.72zM378.92 210.27h2.68v2.68h-2.68zM382.77 210.27h2.67v2.67h-2.67zM386.6 210.26h2.71v2.71h-2.71zM444.29 214.1h2.71v2.71h-2.71zM494.3 214.12h2.67v2.67h-2.67zM505.83 214.11h2.69v2.69h-2.69zM390.43 217.94h2.73v2.73h-2.73zM428.92 217.96h2.68v2.68h-2.68zM344.28 221.78h2.73v2.73h-2.73zM351.97 221.78h2.73v2.73h-2.73zM359.67 221.79h2.72v2.72h-2.72zM375.05 221.79h2.72v2.72h-2.72zM455.81 221.78h2.74v2.74h-2.74zM463.52 221.8h2.7v2.7h-2.7zM317.36 225.63h2.73v2.73h-2.73zM321.23 225.66h2.68v2.68h-2.68zM328.92 225.65h2.69v2.69h-2.69zM351.97 225.63h2.73v2.73h-2.73zM390.46 225.65h2.68v2.68h-2.68zM513.53 225.65h2.68v2.68h-2.68zM452 233.35h2.67v2.67h-2.67zM428.92 237.19h2.68v2.68h-2.68zM432.75 237.18h2.71v2.71h-2.71zM436.61 237.19h2.69v2.69h-2.69zM451.99 237.19h2.69v2.69h-2.69zM340.46 241.04h2.68v2.68h-2.68zM348.15 241.04h2.68v2.68h-2.68zM363.5 241.01h2.74v2.74h-2.74zM371.2 241.01h2.74v2.74h-2.74zM378.91 241.03h2.7v2.7h-2.7zM382.73 241.01h2.74v2.74h-2.74zM394.29 241.02h2.71v2.71h-2.71zM459.68 244.87h2.7v2.7h-2.7zM455.82 248.71h2.71v2.71h-2.71z" fill="#fce4d2"/>
<path d="M475.06 56.42h2.69v2.69h-2.69zM448.15 71.81h2.68v2.68h-2.68zM475.02 71.77h2.77v2.77h-2.77zM475.02 87.14h2.79v2.79h-2.79zM471.2 91.02h2.72v2.72h-2.72zM475.03 91h2.77v2.77h-2.77zM475.03 94.85h2.76v2.76h-2.76zM475.02 98.68h2.78v2.78h-2.78zM475.03 102.54h2.76v2.76h-2.76zM475.04 125.63h2.73v2.73h-2.73zM494.24 133.29h2.79v2.79h-2.79zM475.03 141h2.77v2.77h-2.77zM467.38 148.73h2.68v2.68h-2.68zM421.18 152.53h2.78v2.78h-2.78zM432.71 152.53h2.78v2.78h-2.78zM471.18 152.54h2.76v2.76h-2.76zM378.88 156.39h2.75v2.75h-2.75zM494.3 156.42h2.68v2.68h-2.68zM448.1 160.22h2.78v2.78h-2.78zM494.28 160.25h2.72v2.72h-2.72zM428.87 167.92h2.77v2.77h-2.77zM405.81 171.78h2.74v2.74h-2.74zM425.06 171.8h2.71v2.71h-2.71zM328.89 183.32h2.73v2.73h-2.73zM332.71 183.29h2.79v2.79h-2.79zM336.58 183.31h2.75v2.75h-2.75zM340.45 183.33h2.71v2.71h-2.71zM344.3 183.35h2.68v2.68h-2.68zM351.98 183.33h2.72v2.72h-2.72zM363.54 183.35h2.68v2.68h-2.68zM367.38 183.34h2.69v2.69h-2.69zM371.2 183.32h2.73v2.73h-2.73zM375.06 183.33h2.71v2.71h-2.71zM386.6 183.33h2.71v2.71h-2.71zM394.28 183.32h2.73v2.73h-2.73zM421.21 183.34h2.7v2.7h-2.7zM498.11 191h2.75v2.75h-2.75zM471.18 198.69h2.76v2.76h-2.76zM398.1 206.37h2.78v2.78h-2.78zM494.27 206.39h2.74v2.74h-2.74zM494.29 210.26h2.7v2.7h-2.7zM494.29 225.64h2.71v2.71h-2.71zM490.43 229.48h2.72v2.72h-2.72zM425.06 233.33h2.71v2.71h-2.71zM494.29 233.34h2.7v2.7h-2.7zM494.29 248.72h2.7v2.7h-2.7zM501.98 248.72h2.7v2.7h-2.7z" fill="#d8eaf0"/>
<path d="M502.06 56.5h2.54v2.54h-2.54zM455.92 68.04h2.53v2.53h-2.53zM502.07 83.43h2.52v2.52h-2.52zM428.99 87.27h2.54v2.54h-2.54zM428.99 98.81h2.53v2.53h-2.53zM502.07 102.66h2.53v2.53h-2.53zM486.68 106.5h2.53v2.53h-2.53zM502.07 121.89h2.52v2.52h-2.52zM371.3 137.27h2.53v2.53h-2.53zM490.53 137.27h2.53v2.53h-2.53zM348.22 141.11h2.53v2.53h-2.53zM367.45 141.11h2.53v2.53h-2.53zM321.31 144.97h2.52v2.52h-2.52zM405.91 156.5h2.53v2.53h-2.53zM444.38 175.73h2.52v2.52h-2.52zM452.07 175.73h2.53v2.53h-2.53zM463.61 183.42h2.53v2.53h-2.53zM321.31 194.96h2.52v2.52h-2.52zM355.92 194.96h2.52v2.52h-2.52zM352.07 198.81h2.53v2.53h-2.53zM363.61 198.81h2.53v2.53h-2.53zM367.46 198.81h2.53v2.53h-2.53zM321.31 202.66h2.52v2.52h-2.52zM348.23 202.65h2.52v2.52h-2.52zM505.92 202.66h2.52v2.52h-2.52zM425.15 206.5h2.52v2.52h-2.52zM321.31 210.35h2.52v2.52h-2.52zM321.31 214.19h2.52v2.52h-2.52zM336.69 214.19h2.53v2.53h-2.53zM390.53 214.19h2.53v2.53h-2.53zM421.3 214.19h2.52v2.52h-2.52zM513.6 214.19h2.53v2.53h-2.53zM317.46 218.04h2.52v2.52h-2.52zM329 218.04h2.52v2.52h-2.52zM336.69 218.04h2.53v2.53h-2.53zM348.23 218.04h2.52v2.52h-2.52zM378.99 221.88h2.53v2.53h-2.53zM332.85 225.73h2.52v2.52h-2.52zM348.23 225.73h2.52v2.52h-2.52zM363.61 233.42h2.53v2.53h-2.53zM375.15 233.42h2.53v2.53h-2.53zM382.84 237.27h2.53v2.53h-2.53zM463.61 241.11h2.53v2.53h-2.53zM478.99 241.12h2.52v2.52h-2.52zM478.99 244.96h2.52v2.52h-2.52z" fill="#fce4de"/>
<path d="M397.59 59.71h3.81v3.81h-3.81z" fill="#e48a6c"/>
<path d="M401.19 59.47h4.3v4.3h-4.3zM405.03 78.7h4.3v4.3h-4.3z" fill="#e48466"/>
<path d="M405.03 59.47h4.3v4.3h-4.3zM397.34 74.85h4.3v4.3h-4.3zM401.19 124.85h4.3v4.3h-4.3z" fill="#e47860"/>
<path d="M409.86 60.45h2.33v2.33h-2.33zM429.11 60.46h2.3v2.3h-2.3zM459.88 60.47h2.29v2.29h-2.29zM513.71 60.46h2.31v2.31h-2.31zM444.49 64.31h2.3v2.3h-2.3zM513.73 64.32h2.28v2.28h-2.28zM482.96 72.01h2.28v2.28h-2.28zM436.8 79.7h2.29v2.29h-2.29zM413.72 83.54h2.31v2.31h-2.31zM432.95 87.38h2.31v2.31h-2.31zM467.58 87.4h2.27v2.27h-2.27zM436.79 91.23h2.32v2.32h-2.32zM463.73 91.24h2.29v2.29h-2.29zM482.94 91.23h2.31v2.31h-2.31zM482.96 95.09h2.29v2.29h-2.29zM417.57 102.77h2.3v2.3h-2.3zM482.95 102.77h2.3v2.3h-2.3zM432.95 106.62h2.3v2.3h-2.3zM463.73 110.48h2.27v2.27h-2.27zM459.86 114.3h2.32v2.32h-2.32zM432.94 118.14h2.33v2.33h-2.33zM409.89 122.01h2.27v2.27h-2.27zM409.88 125.85h2.29v2.29h-2.29zM459.87 125.84h2.31v2.31h-2.31zM486.78 125.83h2.33v2.33h-2.33zM513.71 129.68h2.32v2.32h-2.32zM336.8 133.54h2.3v2.3h-2.3zM371.43 133.55h2.28v2.28h-2.28zM436.79 141.22h2.31v2.31h-2.31zM336.79 145.07h2.32v2.32h-2.32zM425.27 145.09h2.28v2.28h-2.28zM340.65 148.93h2.29v2.29h-2.29zM359.88 148.93h2.29v2.29h-2.29zM402.18 148.92h2.32v2.32h-2.32zM429.11 148.92h2.3v2.3h-2.3zM429.1 152.77h2.31v2.31h-2.31zM456.03 152.77h2.3v2.3h-2.3zM463.73 152.77h2.29v2.29h-2.29zM494.48 152.76h2.32v2.32h-2.32zM459.88 156.62h2.3v2.3h-2.3zM436.79 160.46h2.31v2.31h-2.31zM482.95 164.31h2.3v2.3h-2.3zM436.79 168.14h2.32v2.32h-2.32zM456.03 168.16h2.29v2.29h-2.29zM344.5 179.7h2.29v2.29h-2.29zM379.1 179.68h2.32v2.32h-2.32zM382.95 179.69h2.31v2.31h-2.31zM513.71 183.52h2.33v2.33h-2.33zM352.19 195.08h2.29v2.29h-2.29zM398.35 195.09h2.28v2.28h-2.28zM429.11 195.08h2.29v2.29h-2.29zM359.87 198.91h2.32v2.32h-2.32zM490.65 198.93h2.28v2.28h-2.28zM382.95 202.76h2.31v2.31h-2.31zM398.33 202.76h2.32v2.32h-2.32zM502.17 210.45h2.32v2.32h-2.32zM348.33 214.3h2.32v2.32h-2.32zM367.58 214.32h2.27v2.27h-2.27zM332.95 218.15h2.31v2.31h-2.31zM513.72 218.16h2.29v2.29h-2.29zM436.81 222h2.29v2.29h-2.29zM448.34 225.85h2.29v2.29h-2.29zM425.27 229.7h2.27v2.27h-2.27zM329.1 233.52h2.32v2.32h-2.32zM336.82 233.55h2.28v2.28h-2.28zM432.95 233.53h2.31v2.31h-2.31zM436.81 233.55h2.28v2.28h-2.28zM459.88 233.54h2.3v2.3h-2.3zM325.27 237.39h2.29v2.29h-2.29zM336.8 237.38h2.31v2.31h-2.31zM340.66 237.39h2.27v2.27h-2.27zM367.57 237.38h2.29v2.29h-2.29zM394.5 237.39h2.28v2.28h-2.28zM471.42 237.39h2.28v2.28h-2.28zM490.65 237.39h2.29v2.29h-2.29zM448.34 241.23h2.29v2.29h-2.29zM475.27 241.24h2.28v2.28h-2.28zM321.43 245.08h2.28v2.28h-2.28zM340.64 245.06h2.32v2.32h-2.32zM344.49 245.07h2.31v2.31h-2.31zM375.26 245.07h2.3v2.3h-2.3zM394.48 245.06h2.33v2.33h-2.33zM444.48 245.06h2.32v2.32h-2.32zM463.71 245.06h2.33v2.33h-2.33zM325.27 248.93h2.28v2.28h-2.28zM379.12 248.93h2.28v2.28h-2.28zM402.18 248.91h2.31v2.31h-2.31z" fill="#fcf0e4"/>
<path d="M455.8 60.24h2.75v2.75h-2.75zM490.42 60.24h2.76v2.76h-2.76zM486.57 71.78h2.75v2.75h-2.75zM428.88 83.32h2.75v2.75h-2.75zM451.95 106.39h2.76v2.76h-2.76zM451.95 110.23h2.76v2.76h-2.76zM486.57 117.93h2.75v2.75h-2.75zM490.42 121.77h2.75v2.75h-2.75zM455.8 129.47h2.75v2.75h-2.75zM425.04 148.7h2.75v2.75h-2.75zM355.8 152.54h2.76v2.76h-2.76zM451.96 202.54h2.75v2.75h-2.75zM367.35 206.39h2.74v2.74h-2.74zM348.11 210.23h2.76v2.76h-2.76zM371.19 210.23h2.76v2.76h-2.76zM413.49 214.08h2.76v2.76h-2.76zM367.35 225.62h2.75v2.75h-2.75zM413.49 237.15h2.76v2.76h-2.76zM421.19 241h2.75v2.75h-2.75zM482.72 241h2.76v2.76h-2.76z" fill="#fcded2"/>
<path d="M471.31 60.36h2.51v2.51h-2.51zM471.33 68.07h2.47v2.47h-2.47zM421.33 71.92h2.47v2.47h-2.47zM417.45 75.73h2.53v2.53h-2.53zM448.23 75.74h2.51v2.51h-2.51zM421.29 79.57h2.54v2.54h-2.54zM471.31 79.6h2.5v2.5h-2.5zM421.32 87.29h2.49v2.49h-2.49zM498.22 94.96h2.54v2.54h-2.54zM421.32 98.83h2.5v2.5h-2.5zM448.25 98.84h2.47v2.47h-2.47zM417.45 110.34h2.55v2.55h-2.55zM421.31 110.36h2.51v2.51h-2.51zM448.24 114.21h2.49v2.49h-2.49zM471.32 118.07h2.48v2.48h-2.48zM448.24 121.91h2.49v2.49h-2.49zM498.23 121.9h2.5v2.5h-2.5zM421.32 125.75h2.49v2.49h-2.49zM471.32 125.76h2.48v2.48h-2.48zM432.84 133.42h2.53v2.53h-2.53zM498.23 133.43h2.51v2.51h-2.51zM502.06 133.42h2.54v2.54h-2.54zM417.48 137.29h2.49v2.49h-2.49zM490.53 141.12h2.53v2.53h-2.53zM444.4 144.98h2.49v2.49h-2.49zM448.24 144.98h2.5v2.5h-2.5zM498.25 148.83h2.48v2.48h-2.48zM479.01 152.68h2.48v2.48h-2.48zM482.83 152.65h2.54v2.54h-2.54zM328.99 156.5h2.53v2.53h-2.53zM332.87 156.53h2.47v2.47h-2.47zM336.71 156.53h2.48v2.48h-2.48zM340.56 156.53h2.47v2.47h-2.47zM348.25 156.53h2.47v2.47h-2.47zM352.09 156.52h2.5v2.5h-2.5zM371.32 156.52h2.5v2.5h-2.5zM402.1 156.53h2.47v2.47h-2.47zM413.63 160.36h2.49v2.49h-2.49zM463.62 160.36h2.49v2.49h-2.49zM340.55 164.21h2.5v2.5h-2.5zM344.38 164.19h2.53v2.53h-2.53zM359.78 164.21h2.49v2.49h-2.49zM417.47 164.21h2.49v2.49h-2.49zM463.6 164.19h2.54v2.54h-2.54zM471.32 164.21h2.49v2.49h-2.49zM329.02 168.06h2.48v2.48h-2.48zM355.94 168.06h2.49v2.49h-2.49zM359.76 168.03h2.54v2.54h-2.54zM375.17 168.06h2.5v2.5h-2.5zM440.55 168.05h2.5v2.5h-2.5zM329.02 171.91h2.48v2.48h-2.48zM344.38 171.88h2.53v2.53h-2.53zM363.64 171.91h2.47v2.47h-2.47zM386.68 171.88h2.55v2.55h-2.55zM390.55 171.91h2.48v2.48h-2.48zM417.46 171.89h2.52v2.52h-2.52zM429.01 171.9h2.49v2.49h-2.49zM348.23 183.43h2.52v2.52h-2.52zM425.14 183.42h2.54v2.54h-2.54zM444.41 183.45h2.47v2.47h-2.47zM325.16 187.28h2.5v2.5h-2.5zM332.85 187.28h2.51v2.51h-2.51zM336.68 187.26h2.54v2.54h-2.54zM340.54 187.27h2.52v2.52h-2.52zM386.72 187.3h2.47v2.47h-2.47zM471.33 191.14h2.47v2.47h-2.47zM498.21 210.34h2.54v2.54h-2.54zM409.78 233.44h2.5v2.5h-2.5z" fill="#e4f0f0"/>
<path d="M316.57 63.31h4.3v4.3h-4.3zM320.42 67.16h4.3v4.3h-4.3zM316.57 74.85h4.3v4.3h-4.3zM328.11 74.85h4.3v4.3h-4.3zM320.42 78.7h4.3v4.3h-4.3zM331.96 78.7h4.3v4.3h-4.3zM316.57 86.39h4.3v4.3h-4.3zM328.11 86.39h4.3v4.3h-4.3zM339.65 86.39h4.3v4.3h-4.3zM320.42 90.24h4.3v4.3h-4.3zM331.96 90.24h4.3v4.3h-4.3zM343.5 90.24h4.3v4.3h-4.3zM316.57 94.08h4.3v4.3h-4.3zM320.42 94.08h4.3v4.3h-4.3zM328.11 94.08h4.3v4.3h-4.3zM331.96 94.08h4.3v4.3h-4.3zM339.65 94.08h4.3v4.3h-4.3zM343.5 94.08h4.3v4.3h-4.3zM351.19 94.08h4.3v4.3h-4.3zM316.57 97.93h4.3v4.3h-4.3zM320.42 97.93h4.3v4.3h-4.3zM328.11 97.93h4.3v4.3h-4.3zM331.96 97.93h4.3v4.3h-4.3zM339.65 97.93h4.3v4.3h-4.3zM343.5 97.93h4.3v4.3h-4.3zM351.19 97.93h4.3v4.3h-4.3zM355.03 97.93h4.3v4.3h-4.3zM320.42 101.77h4.3v4.3h-4.3zM331.96 101.77h4.3v4.3h-4.3zM343.5 101.77h4.3v4.3h-4.3zM355.03 101.77h4.3v4.3h-4.3z" fill="#1e3c72"/>
<path d="M389.65 63.31h4.3v4.3h-4.3zM393.5 78.7h4.3v4.3h-4.3zM381.96 82.54h4.3v4.3h-4.3zM385.8 97.93h4.3v4.3h-4.3z" fill="#3072b4"/>
<path d="M397.34 63.31h4.3v4.3h-4.3z" fill="#d86654"/>
<path d="M401.19 63.31h4.3v4.3h-4.3zM397.34 67.16h4.3v4.3h-4.3zM401.19 101.77h4.3v4.3h-4.3zM397.34 105.62h4.3v4.3h-4.3z" fill="#cc4842"/>
<path d="M405.03 63.31h4.3v4.3h-4.3zM401.19 74.85h4.3v4.3h-4.3zM405.03 74.85h4.3v4.3h-4.3z" fill="#d25a48"/>
<path d="M486.73 64.24h2.44v2.44h-2.44zM459.79 68.07h2.47v2.47h-2.47zM444.4 71.91h2.48v2.48h-2.48zM459.78 75.76h2.49v2.49h-2.49zM513.61 79.59h2.51v2.51h-2.51zM432.88 83.47h2.45v2.45h-2.45zM459.79 83.46h2.46v2.46h-2.46zM452.09 87.29h2.49v2.49h-2.49zM459.78 87.29h2.49v2.49h-2.49zM463.64 87.31h2.45v2.45h-2.45zM490.56 87.31h2.46v2.46h-2.46zM429.02 91.15h2.47v2.47h-2.47zM502.11 91.17h2.43v2.43h-2.43zM409.79 94.99h2.47v2.47h-2.47zM429.02 94.99h2.48v2.48h-2.48zM513.63 94.99h2.47v2.47h-2.47zM429 102.67h2.51v2.51h-2.51zM455.95 102.69h2.46v2.46h-2.46zM409.81 106.55h2.44v2.44h-2.44zM455.96 106.55h2.44v2.44h-2.44zM482.88 106.54h2.45v2.45h-2.45zM425.16 110.36h2.5v2.5h-2.5zM429.02 110.38h2.47v2.47h-2.47zM436.73 110.39h2.44v2.44h-2.44zM429 118.05h2.51v2.51h-2.51zM459.8 118.08h2.46v2.46h-2.46zM502.08 118.06h2.49v2.49h-2.49zM509.81 118.09h2.43v2.43h-2.43zM509.77 121.9h2.5v2.5h-2.5zM429.01 125.75h2.5v2.5h-2.5zM463.63 125.75h2.49v2.49h-2.49zM502.11 125.77h2.45v2.45h-2.45zM432.87 129.61h2.46v2.46h-2.46zM505.93 129.6h2.49v2.49h-2.49zM317.47 133.44h2.5v2.5h-2.5zM325.19 133.46h2.45v2.45h-2.45zM382.87 133.45h2.47v2.47h-2.47zM390.55 133.45h2.49v2.49h-2.49zM329 137.28h2.52v2.52h-2.52zM394.39 137.28h2.51v2.51h-2.51zM325.16 141.12h2.52v2.52h-2.52zM390.54 141.12h2.52v2.52h-2.52zM486.72 141.15h2.46v2.46h-2.46zM359.78 144.98h2.5v2.5h-2.5zM371.32 144.98h2.49v2.49h-2.49zM379.02 144.99h2.48v2.48h-2.48zM486.71 144.99h2.48v2.48h-2.48zM494.39 144.98h2.5v2.5h-2.5zM502.11 145.01h2.44v2.44h-2.44zM513.61 144.97h2.52v2.52h-2.52zM494.41 148.84h2.47v2.47h-2.47zM502.1 148.84h2.46v2.46h-2.46zM340.58 152.7h2.45v2.45h-2.45zM444.41 156.53h2.47v2.47h-2.47zM505.94 156.53h2.47v2.47h-2.47zM409.8 160.38h2.46v2.46h-2.46zM482.86 160.37h2.48v2.48h-2.48zM502.1 160.38h2.45v2.45h-2.45zM490.54 168.05h2.5v2.5h-2.5zM459.81 171.93h2.43v2.43h-2.43zM486.73 171.93h2.43v2.43h-2.43zM505.96 171.93h2.44v2.44h-2.44zM413.64 175.76h2.47v2.47h-2.47zM425.17 175.75h2.49v2.49h-2.49zM502.11 175.78h2.43v2.43h-2.43zM509.78 175.75h2.48v2.48h-2.48zM329.01 179.59h2.49v2.49h-2.49zM432.87 179.61h2.47v2.47h-2.47zM405.93 191.13h2.49v2.49h-2.49zM509.78 191.14h2.48v2.48h-2.48zM329.01 194.98h2.5v2.5h-2.5zM336.72 195h2.46v2.46h-2.46zM394.42 195h2.46v2.46h-2.46zM436.71 194.98h2.49v2.49h-2.49zM452.08 194.97h2.51v2.51h-2.51zM467.47 194.98h2.5v2.5h-2.5zM332.89 198.85h2.44v2.44h-2.44zM355.94 198.83h2.49v2.49h-2.49zM379.01 198.82h2.49v2.49h-2.49zM390.54 198.82h2.51v2.51h-2.51zM467.47 198.83h2.49v2.49h-2.49zM513.63 198.84h2.47v2.47h-2.47zM332.88 202.69h2.46v2.46h-2.46zM344.43 202.7h2.44v2.44h-2.44zM363.64 202.69h2.46v2.46h-2.46zM379.04 202.7h2.44v2.44h-2.44zM390.54 202.66h2.52v2.52h-2.52zM417.49 202.69h2.46v2.46h-2.46zM405.96 206.54h2.44v2.44h-2.44zM409.79 210.37h2.48v2.48h-2.48zM505.93 210.36h2.49v2.49h-2.49zM344.39 214.2h2.51v2.51h-2.51zM355.94 214.21h2.48v2.48h-2.48zM394.41 214.22h2.47v2.47h-2.47zM436.7 214.2h2.5v2.5h-2.5zM363.63 218.05h2.49v2.49h-2.49zM367.49 218.07h2.46v2.46h-2.46zM375.16 218.05h2.5v2.5h-2.5zM386.7 218.05h2.51v2.51h-2.51zM394.42 218.07h2.45v2.45h-2.45zM452.11 218.08h2.44v2.44h-2.44zM459.8 218.07h2.46v2.46h-2.46zM502.08 218.05h2.5v2.5h-2.5zM367.47 221.9h2.49v2.49h-2.49zM382.87 221.92h2.46v2.46h-2.46zM402.1 221.92h2.46v2.46h-2.46zM452.08 221.9h2.5v2.5h-2.5zM405.95 225.76h2.46v2.46h-2.46zM436.7 225.74h2.5v2.5h-2.5zM325.17 233.44h2.49v2.49h-2.49zM352.08 233.43h2.5v2.5h-2.5zM371.31 233.43h2.52v2.52h-2.52zM379.01 233.43h2.5v2.5h-2.5zM402.08 233.43h2.51v2.51h-2.51zM459.79 237.29h2.48v2.48h-2.48zM467.46 237.28h2.51v2.51h-2.51zM475.17 237.3h2.47v2.47h-2.47zM486.71 237.29h2.48v2.48h-2.48zM417.47 241.12h2.51v2.51h-2.51zM317.48 248.83h2.49v2.49h-2.49zM329.02 248.83h2.48v2.48h-2.48zM367.48 248.83h2.48v2.48h-2.48zM371.35 248.85h2.44v2.44h-2.44zM390.56 248.83h2.47v2.47h-2.47z" fill="#fceade"/>
<path d="M370.42 67.16h4.3v4.3h-4.3zM366.57 71h4.3v4.3h-4.3zM358.88 78.7h4.3v4.3h-4.3zM355.03 82.54h4.3v4.3h-4.3zM370.42 90.24h4.3v4.3h-4.3zM366.57 94.08h4.3v4.3h-4.3zM370.42 97.93h4.3v4.3h-4.3z" fill="#1e3c7e"/>
<path d="M401.19 67.16h4.3v4.3h-4.3zM405.03 86.39h4.3v4.3h-4.3zM397.34 101.77h4.3v4.3h-4.3zM405.03 101.77h4.3v4.3h-4.3z" fill="#d8604e"/>
<path d="M405.32 67.45h3.71v3.71h-3.71zM397.62 128.98h3.73v3.73h-3.73z" fill="#ea9072"/>
<path d="M474.95 67.85h2.92v2.92h-2.92zM474.94 79.38h2.94v2.94h-2.94zM474.94 137.07h2.93v2.93h-2.93zM432.63 190.91h2.94v2.94h-2.94z" fill="#cce4f0"/>
<path d="M316.57 71h4.3v4.3h-4.3zM320.42 82.54h4.3v4.3h-4.3zM328.11 82.54h4.3v4.3h-4.3zM335.81 101.77h4.3v4.3h-4.3zM393.5 109.47h4.3v4.3h-4.3zM378.11 128.7h4.3v4.3h-4.3z" fill="#2460a8"/>
<path d="M328.11 71h4.3v4.3h-4.3zM316.57 82.54h4.3v4.3h-4.3zM316.57 90.24h4.3v4.3h-4.3zM324.27 101.77h4.3v4.3h-4.3zM381.96 109.47h4.3v4.3h-4.3zM393.5 113.31h4.3v4.3h-4.3zM374.26 117.16h4.3v4.3h-4.3zM389.65 117.16h4.3v4.3h-4.3zM393.5 117.16h4.3v4.3h-4.3zM381.96 124.85h4.3v4.3h-4.3zM374.26 128.7h4.3v4.3h-4.3z" fill="#245496"/>
<path d="M397.34 71h4.3v4.3h-4.3z" fill="#e47e60"/>
<path d="M401.44 71.26h3.79v3.79h-3.79zM405.29 71.27h3.77v3.77h-3.77zM397.59 98.18h3.8v3.8h-3.8zM397.59 117.41h3.79v3.79h-3.79zM401.45 128.95h3.78v3.78h-3.78z" fill="#ea8a6c"/>
<path d="M490.33 75.54h2.92v2.92h-2.92zM455.73 90.93h2.9v2.9h-2.9zM490.33 94.76h2.93v2.93h-2.93zM455.71 113.99h2.94v2.94h-2.94zM317.25 137.06h2.94v2.94h-2.94zM340.33 137.07h2.93v2.93h-2.93zM359.57 137.07h2.92v2.92h-2.92zM363.42 137.08h2.9v2.9h-2.9zM382.64 137.07h2.94v2.94h-2.94zM336.48 140.91h2.94v2.94h-2.94zM355.73 140.93h2.91v2.91h-2.91zM359.57 140.92h2.91v2.91h-2.91zM378.79 140.91h2.94v2.94h-2.94zM455.73 148.63h2.89v2.89h-2.89zM348.04 152.46h2.91v2.91h-2.91zM486.5 152.47h2.9v2.9h-2.9zM490.34 156.31h2.91v2.91h-2.91zM463.42 179.39h2.9v2.9h-2.9zM494.19 202.47h2.9v2.9h-2.9zM317.28 210.16h2.89v2.89h-2.89zM509.57 214h2.9v2.9h-2.9zM444.18 217.84h2.92v2.92h-2.92zM348.03 221.69h2.91v2.91h-2.91zM459.56 221.68h2.93v2.93h-2.93zM398.02 225.52h2.94v2.94h-2.94zM440.33 240.92h2.92v2.92h-2.92zM459.56 240.91h2.94v2.94h-2.94zM486.5 240.93h2.89v2.89h-2.89zM398.03 244.77h2.91v2.91h-2.91zM421.11 248.61h2.91v2.91h-2.91zM478.79 248.61h2.92v2.92h-2.92z" fill="#fcd8c6"/>
<path d="M324.27 78.7h4.3v4.3h-4.3zM331.96 82.54h4.3v4.3h-4.3zM339.65 90.24h4.3v4.3h-4.3zM347.34 101.77h4.3v4.3h-4.3zM316.57 105.62h4.3v4.3h-4.3zM385.8 109.47h4.3v4.3h-4.3zM378.11 124.85h4.3v4.3h-4.3z" fill="#24549c"/>
<path d="M328.11 78.7h4.3v4.3h-4.3zM320.42 86.39h4.3v4.3h-4.3zM324.27 86.39h4.3v4.3h-4.3zM335.81 86.39h4.3v4.3h-4.3zM339.65 105.62h4.3v4.3h-4.3zM351.19 105.62h4.3v4.3h-4.3z" fill="#245a9c"/>
<path d="M335.81 78.7h4.3v4.3h-4.3zM316.57 101.77h4.3v4.3h-4.3zM339.65 101.77h4.3v4.3h-4.3zM362.73 105.62h4.3v4.3h-4.3z" fill="#2460a2"/>
<path d="M397.34 78.7h4.3v4.3h-4.3zM401.19 90.24h4.3v4.3h-4.3z" fill="#c64242"/>
<path d="M401.19 78.7h4.3v4.3h-4.3z" fill="#cc4e42"/>
<path d="M401.42 82.78h3.83v3.83h-3.83zM397.58 86.63h3.81v3.81h-3.81z" fill="#e4846c"/>
<path d="M405.35 82.86h3.66v3.66h-3.66zM401.5 113.63h3.66v3.66h-3.66zM401.5 121.32h3.67v3.67h-3.67z" fill="#f09c78"/>
<path d="M486.41 83.16h3.07v3.07h-3.07zM490.25 133.14h3.09v3.09h-3.09zM401.8 213.92h3.07v3.07h-3.07zM467.18 233.15h3.07v3.07h-3.07zM482.56 233.15h3.07v3.07h-3.07z" fill="#fcccb4"/>
<path d="M343.5 86.39h4.3v4.3h-4.3zM358.88 101.77h4.3v4.3h-4.3zM328.11 105.62h4.3v4.3h-4.3zM374.26 124.85h4.3v4.3h-4.3z" fill="#245aa2"/>
<path d="M401.19 86.39h4.3v4.3h-4.3z" fill="#de6c54"/>
<path d="M448.07 87.12h2.83v2.83h-2.83zM421.13 90.95h2.86v2.86h-2.86zM474.99 106.35h2.84v2.84h-2.84zM474.98 110.18h2.86v2.86h-2.86zM474.97 114.02h2.89v2.89h-2.89zM474.96 117.86h2.89v2.89h-2.89zM474.97 129.4h2.89v2.89h-2.89zM440.36 144.8h2.86v2.86h-2.86zM474.98 144.8h2.86v2.86h-2.86zM421.11 171.7h2.9v2.9h-2.9zM498.06 175.57h2.85v2.85h-2.85zM321.14 183.26h2.85v2.85h-2.85zM378.82 183.25h2.88v2.88h-2.88zM382.69 183.27h2.84v2.84h-2.84zM390.37 183.26h2.86v2.86h-2.86zM474.96 202.47h2.9v2.9h-2.9zM482.65 206.31h2.9v2.9h-2.9zM482.65 214h2.9v2.9h-2.9z" fill="#d2e4f0"/>
<path d="M397.34 90.24h4.3v4.3h-4.3z" fill="#cc4e48"/>
<path d="M405.03 90.24h4.3v4.3h-4.3z" fill="#de6c5a"/>
<path d="M401.19 94.08h4.3v4.3h-4.3z" fill="#de7860"/>
<path d="M401.19 97.93h4.3v4.3h-4.3zM397.34 121h4.3v4.3h-4.3z" fill="#e47e66"/>
<path d="M355.03 105.62h4.3v4.3h-4.3z" fill="#2466a8"/>
<path d="M401.19 105.62h4.3v4.3h-4.3z" fill="#d8664e"/>
<path d="M405.34 105.92h3.69v3.69h-3.69zM401.49 117.46h3.69v3.69h-3.69zM397.64 125.15h3.69v3.69h-3.69z" fill="#f09678"/>
<path d="M490.35 106.32h2.89v2.89h-2.89zM336.51 137.09h2.89v2.89h-2.89zM405.74 233.24h2.88v2.88h-2.88zM374.97 240.94h2.88v2.88h-2.88z" fill="#fcdec6"/>
<path d="M316.57 109.47h4.3v4.3h-4.3zM320.42 109.47h4.3v4.3h-4.3zM339.65 109.47h4.3v4.3h-4.3zM343.5 109.47h4.3v4.3h-4.3zM362.73 109.47h4.3v4.3h-4.3zM366.57 109.47h4.3v4.3h-4.3zM339.65 113.31h4.3v4.3h-4.3zM362.73 113.31h4.3v4.3h-4.3zM320.42 117.16h4.3v4.3h-4.3zM328.11 117.16h4.3v4.3h-4.3zM351.19 117.16h4.3v4.3h-4.3zM316.57 121h4.3v4.3h-4.3zM320.42 121h4.3v4.3h-4.3zM339.65 121h4.3v4.3h-4.3zM343.5 121h4.3v4.3h-4.3zM362.73 121h4.3v4.3h-4.3zM366.57 121h4.3v4.3h-4.3zM339.65 124.85h4.3v4.3h-4.3zM362.73 124.85h4.3v4.3h-4.3zM316.57 128.7h4.3v4.3h-4.3zM331.96 128.7h4.3v4.3h-4.3zM355.03 128.7h4.3v4.3h-4.3zM366.57 128.7h4.3v4.3h-4.3zM466.57 209.46h4.3v4.3h-4.3zM470.41 213.31h4.3v4.3h-4.3zM470.41 217.15h4.3v4.3h-4.3zM470.41 221h4.3v4.3h-4.3zM474.26 224.84h4.3v4.3h-4.3z" fill="#4290c0"/>
<path d="M324.6 109.8h3.63v3.63h-3.63zM324.6 121.34h3.62v3.62h-3.62z" fill="#8ac0d8"/>
<path d="M328.11 109.47h4.3v4.3h-4.3zM351.19 109.47h4.3v4.3h-4.3zM362.73 117.16h4.3v4.3h-4.3zM328.11 121h4.3v4.3h-4.3zM351.19 121h4.3v4.3h-4.3z" fill="#5aa2cc"/>
<path d="M331.96 109.47h4.3v4.3h-4.3zM339.65 117.16h4.3v4.3h-4.3zM331.96 121h4.3v4.3h-4.3z" fill="#549ccc"/>
<path d="M336.09 109.75h3.72v3.72h-3.72zM336.09 121.29h3.72v3.72h-3.72z" fill="#7eb4d8"/>
<path d="M347.66 109.79h3.66v3.66h-3.66zM347.66 121.32h3.65v3.65h-3.65z" fill="#84c0d8"/>
<path d="M355.03 109.47h4.3v4.3h-4.3zM355.03 121h4.3v4.3h-4.3zM405.03 132.54h4.3v4.3h-4.3zM474.26 217.15h4.3v4.3h-4.3zM478.11 221h4.3v4.3h-4.3zM481.95 224.84h4.3v4.3h-4.3z" fill="#54a2cc"/>
<path d="M359.18 109.77h3.69v3.69h-3.69zM370.72 109.77h3.69v3.69h-3.69zM359.18 121.3h3.69v3.69h-3.69zM370.72 121.31h3.69v3.69h-3.69zM336.11 129h3.68v3.68h-3.68zM359.18 129h3.69v3.69h-3.69zM482.26 202.08h3.68v3.68h-3.68zM486.11 209.77h3.68v3.68h-3.68zM489.95 209.77h3.68v3.68h-3.68z" fill="#84bad8"/>
<path d="M397.85 109.97h3.28v3.28h-3.28zM451.7 140.75h3.26v3.26h-3.26zM455.55 156.14h3.26v3.26h-3.26zM486.32 179.21h3.26v3.26h-3.26zM501.7 190.75h3.26v3.26h-3.26zM417.09 206.13h3.26v3.26h-3.26zM409.4 221.52h3.26v3.26h-3.26zM420.94 225.36h3.26v3.26h-3.26z" fill="#f6c0a2"/>
<path d="M401.74 110.01h3.2v3.2h-3.2zM405.57 110.01h3.21v3.21h-3.21z" fill="#fcc6a8"/>
<path d="M316.57 113.31h4.3v4.3h-4.3zM316.57 124.85h4.3v4.3h-4.3z" fill="#4296c0"/>
<path d="M320.42 113.31h4.3v4.3h-4.3zM343.5 113.31h4.3v4.3h-4.3zM366.57 113.31h4.3v4.3h-4.3zM343.5 117.16h4.3v4.3h-4.3zM366.57 117.16h4.3v4.3h-4.3zM320.42 124.85h4.3v4.3h-4.3zM343.5 124.85h4.3v4.3h-4.3zM366.57 124.85h4.3v4.3h-4.3zM339.65 128.7h4.3v4.3h-4.3zM362.73 128.7h4.3v4.3h-4.3z" fill="#4896c6"/>
<path d="M324.55 113.59h3.74v3.74h-3.74zM324.55 125.13h3.74v3.74h-3.74z" fill="#78b4d8"/>
<path d="M328.11 113.31h4.3v4.3h-4.3zM351.19 113.31h4.3v4.3h-4.3zM328.11 124.85h4.3v4.3h-4.3zM351.19 124.85h4.3v4.3h-4.3zM320.42 128.7h4.3v4.3h-4.3zM328.11 128.7h4.3v4.3h-4.3zM343.5 128.7h4.3v4.3h-4.3z" fill="#3c8ac0"/>
<path d="M331.96 113.31h4.3v4.3h-4.3zM355.03 113.31h4.3v4.3h-4.3zM331.96 124.85h4.3v4.3h-4.3zM355.03 124.85h4.3v4.3h-4.3zM351.19 128.7h4.3v4.3h-4.3zM397.34 136.39h4.3v4.3h-4.3zM401.19 140.23h4.3v4.3h-4.3z" fill="#3c84ba"/>
<path d="M335.81 113.31h4.3v4.3h-4.3zM335.81 124.85h4.3v4.3h-4.3z" fill="#6ca8d2"/>
<path d="M347.63 113.6h3.71v3.71h-3.71zM370.72 113.61h3.69v3.69h-3.69zM347.63 125.14h3.71v3.71h-3.71zM370.72 125.15h3.69v3.69h-3.69zM397.63 140.53h3.71v3.71h-3.71zM466.86 205.91h3.71v3.71h-3.71zM474.55 213.6h3.71v3.71h-3.71zM466.86 221.29h3.71v3.71h-3.71zM470.71 225.14h3.71v3.71h-3.71z" fill="#7ebad8"/>
<path d="M358.88 113.31h4.3v4.3h-4.3zM358.88 124.85h4.3v4.3h-4.3zM370.42 128.7h4.3v4.3h-4.3z" fill="#66a8cc"/>
<path d="M397.8 113.77h3.38v3.38h-3.38zM405.48 129.14h3.4v3.4h-3.4z" fill="#f6b496"/>
<path d="M316.57 117.16h4.3v4.3h-4.3zM331.96 117.16h4.3v4.3h-4.3z" fill="#549cc6"/>
<path d="M324.52 117.41h3.79v3.79h-3.79zM347.6 117.41h3.79v3.79h-3.79z" fill="#72b4d2"/>
<path d="M336.17 117.52h3.57v3.57h-3.57zM359.24 117.52h3.58v3.58h-3.58zM470.78 209.83h3.57v3.57h-3.57zM478.47 225.21h3.57v3.57h-3.57z" fill="#90c6de"/>
<path d="M355.03 117.16h4.3v4.3h-4.3z" fill="#4e9cc6"/>
<path d="M370.68 117.42h3.78v3.78h-3.78z" fill="#78b4d2"/>
<path d="M405.57 117.7h3.22v3.22h-3.22zM440.18 221.54h3.22v3.22h-3.22z" fill="#fcc0a8"/>
<path d="M405.41 121.38h3.54v3.54h-3.54z" fill="#f6a884"/>
<path d="M478.98 121.88h2.55v2.55h-2.55zM417.44 156.49h2.55v2.55h-2.55zM371.29 168.03h2.55v2.55h-2.55zM505.9 168.03h2.55v2.55h-2.55z" fill="#e4eaf0"/>
<path d="M324.27 128.7h4.3v4.3h-4.3zM347.34 128.7h4.3v4.3h-4.3z" fill="#60a8cc"/>
<path d="M397.89 167.7h3.2v3.2h-3.2z" fill="#b4d8ea"/>
<path d="M401.82 171.63h3.03v3.03h-3.03zM497.96 225.47h3.04v3.04h-3.04z" fill="#c6def0"/>
<path d="M440.29 179.34h3.01v3.01h-3.01zM490.29 187.03h3v3h-3zM501.83 187.03h3v3h-3zM401.83 202.41h3.01v3.01h-3.01zM432.6 202.41h3.01v3.01h-3.01zM409.53 213.96h2.99v2.99h-2.99z" fill="#fcd2c0"/>
<path d="M470.97 202.32h3.19v3.19h-3.19zM490.2 202.32h3.19v3.19h-3.19zM478.66 206.17h3.19v3.19h-3.19zM486.35 206.17h3.19v3.19h-3.19zM478.66 210.01h3.19v3.19h-3.19zM490.2 213.86h3.19v3.19h-3.19zM490.2 217.71h3.19v3.19h-3.19z" fill="#bad8ea"/>
<path d="M478.59 202.26h3.32v3.32h-3.32zM474.75 206.1h3.32v3.32h-3.32zM490.13 206.1h3.32v3.32h-3.32zM486.29 213.79h3.32v3.32h-3.32z" fill="#a8d2e4"/>
<path d="M486.22 202.19h3.45v3.45h-3.45z" fill="#9ccce4"/>
<path d="M424.9 210.1h3.02v3.02h-3.02z" fill="#fcd2ba"/>
<path d="M482.58 210.08h3.05v3.05h-3.05z" fill="#c6deea"/>
<path d="M467.01 213.75h3.42v3.42h-3.42zM467.01 217.59h3.42v3.42h-3.42zM474.7 221.44h3.42v3.42h-3.42zM497.78 236.82h3.42v3.42h-3.42zM513.16 240.67h3.42v3.42h-3.42zM505.47 244.51h3.42v3.42h-3.42zM497.78 248.36h3.42v3.42h-3.42z" fill="#a2cce4"/>
<path d="M478.71 217.76h3.09v3.09h-3.09z" fill="#c0deea"/>
<path d="M397.9 221.56h3.17v3.17h-3.17z" fill="#fcc6ae"/>
<path d="M467.09 225.36h3.26v3.26h-3.26zM501.7 229.21h3.26v3.26h-3.26zM509.39 229.21h3.26v3.26h-3.26zM513.24 229.21h3.26v3.26h-3.26zM509.39 233.06h3.26v3.26h-3.26zM513.24 233.06h3.26v3.26h-3.26zM494.01 240.75h3.26v3.26h-3.26zM497.86 240.75h3.26v3.26h-3.26zM513.24 244.59h3.26v3.26h-3.26zM509.39 248.44h3.26v3.26h-3.26z" fill="#b4d8e4"/>
<g font-size="4.7" fill="#e2503c" fill-opacity="0.85">
<text x="315.2" y="55.52" text-anchor="end">L1_BMC</text>
<text x="315.2" y="59.37" text-anchor="end">L1_Area</text>
<text x="315.2" y="63.22" text-anchor="end">L1_BMD</text>
<text x="315.2" y="67.06" text-anchor="end">L2_BMC</text>
<text x="315.2" y="70.91" text-anchor="end">L2_Area</text>
<text x="315.2" y="74.75" text-anchor="end">L2_BMD</text>
<text x="315.2" y="78.6" text-anchor="end">L3_BMC</text>
<text x="315.2" y="82.44" text-anchor="end">L3_Area</text>
<text x="315.2" y="86.29" text-anchor="end">L3_BMD</text>
<text x="315.2" y="90.14" text-anchor="end">L4_BMC</text>
<text x="315.2" y="93.98" text-anchor="end">L4_Area</text>
<text x="315.2" y="97.83" text-anchor="end">L4_BMD</text>
<text x="315.2" y="101.67" text-anchor="end">L1-4_BMC</text>
<text x="315.2" y="105.52" text-anchor="end">L1-4_Area</text>
<text x="315.2" y="109.37" text-anchor="end">L1-4_BMD</text>
<text x="315.2" y="113.21" text-anchor="end">FN_BMC</text>
<text x="315.2" y="117.06" text-anchor="end">FN_BMD</text>
<text x="315.2" y="120.91" text-anchor="end">TR_BMC</text>
<text x="315.2" y="124.75" text-anchor="end">TR_BMD</text>
<text x="315.2" y="128.6" text-anchor="end">TH_BMC</text>
<text x="315.2" y="132.44" text-anchor="end">TH_BMD</text>
<text x="315.2" y="136.29" text-anchor="end">Age</text>
<text x="315.2" y="140.13" text-anchor="end">CTX</text>
<text x="315.2" y="143.98" text-anchor="end">P1NP</text>
<text x="315.2" y="147.83" text-anchor="end">cg15320980</text>
<text x="315.2" y="151.67" text-anchor="end">cg18249968</text>
<text x="315.2" y="155.52" text-anchor="end">cg15508935</text>
<text x="315.2" y="159.36" text-anchor="end">cg23088318</text>
<text x="315.2" y="163.21" text-anchor="end">cg00638797</text>
<text x="315.2" y="167.06" text-anchor="end">cg18243574</text>
<text x="315.2" y="170.9" text-anchor="end">cg09656629</text>
<text x="315.2" y="174.75" text-anchor="end">cg00431894</text>
<text x="315.2" y="178.59" text-anchor="end">cg25960393</text>
<text x="315.2" y="182.44" text-anchor="end">cg00329101</text>
<text x="315.2" y="186.29" text-anchor="end">cg09057517</text>
<text x="315.2" y="190.13" text-anchor="end">cg11070274</text>
<text x="315.2" y="193.98" text-anchor="end">cg21813369</text>
<text x="315.2" y="197.82" text-anchor="end">cg22026953</text>
<text x="315.2" y="201.67" text-anchor="end">cg18008345</text>
<text x="315.2" y="205.52" text-anchor="end">Threonic acid</text>
<text x="315.2" y="209.36" text-anchor="end">Hydroxypropionic acid</text>
<text x="315.2" y="213.21" text-anchor="end">3-Hydroxybutyric acid</text>
<text x="315.2" y="217.06" text-anchor="end">Adipic acid</text>
<text x="315.2" y="220.9" text-anchor="end">Suberic acid</text>
<text x="315.2" y="224.75" text-anchor="end">5Z-Dodecenoic acid</text>
<text x="315.2" y="228.59" text-anchor="end">9E-tetradecenoic acid</text>
<text x="315.2" y="232.44" text-anchor="end">Bifidobacterium</text>
<text x="315.2" y="236.28" text-anchor="end">Streptococcus</text>
<text x="315.2" y="240.13" text-anchor="end">Intestinibacter</text>
<text x="315.2" y="243.98" text-anchor="end">Veillonella</text>
<text x="315.2" y="247.82" text-anchor="end">Klebsiella</text>
<text x="315.2" y="251.67" text-anchor="end">Haemophilus</text>
<text transform="translate(320.32 50.4) rotate(-90)">L1_BMC</text>
<text transform="translate(324.17 50.4) rotate(-90)">L1_Area</text>
<text transform="translate(328.02 50.4) rotate(-90)">L1_BMD</text>
<text transform="translate(331.86 50.4) rotate(-90)">L2_BMC</text>
<text transform="translate(335.71 50.4) rotate(-90)">L2_Area</text>
<text transform="translate(339.55 50.4) rotate(-90)">L2_BMD</text>
<text transform="translate(343.4 50.4) rotate(-90)">L3_BMC</text>
<text transform="translate(347.25 50.4) rotate(-90)">L3_Area</text>
<text transform="translate(351.09 50.4) rotate(-90)">L3_BMD</text>
<text transform="translate(354.94 50.4) rotate(-90)">L4_BMC</text>
<text transform="translate(358.78 50.4) rotate(-90)">L4_Area</text>
<text transform="translate(362.63 50.4) rotate(-90)">L4_BMD</text>
<text transform="translate(366.48 50.4) rotate(-90)">L1-4_BMC</text>
<text transform="translate(370.32 50.4) rotate(-90)">L1-4_Area</text>
<text transform="translate(374.17 50.4) rotate(-90)">L1-4_BMD</text>
<text transform="translate(378.01 50.4) rotate(-90)">FN_BMC</text>
<text transform="translate(381.86 50.4) rotate(-90)">FN_BMD</text>
<text transform="translate(385.71 50.4) rotate(-90)">TR_BMC</text>
<text transform="translate(389.55 50.4) rotate(-90)">TR_BMD</text>
<text transform="translate(393.4 50.4) rotate(-90)">TH_BMC</text>
<text transform="translate(397.24 50.4) rotate(-90)">TH_BMD</text>
<text transform="translate(401.09 50.4) rotate(-90)">Age</text>
<text transform="translate(404.94 50.4) rotate(-90)">CTX</text>
<text transform="translate(408.78 50.4) rotate(-90)">P1NP</text>
<text transform="translate(412.63 50.4) rotate(-90)">cg15320980</text>
<text transform="translate(416.47 50.4) rotate(-90)">cg18249968</text>
<text transform="translate(420.32 50.4) rotate(-90)">cg15508935</text>
<text transform="translate(424.17 50.4) rotate(-90)">cg23088318</text>
<text transform="translate(428.01 50.4) rotate(-90)">cg00638797</text>
<text transform="translate(431.86 50.4) rotate(-90)">cg18243574</text>
<text transform="translate(435.7 50.4) rotate(-90)">cg09656629</text>
<text transform="translate(439.55 50.4) rotate(-90)">cg00431894</text>
<text transform="translate(443.4 50.4) rotate(-90)">cg25960393</text>
<text transform="translate(447.24 50.4) rotate(-90)">cg00329101</text>
<text transform="translate(451.09 50.4) rotate(-90)">cg09057517</text>
<text transform="translate(454.93 50.4) rotate(-90)">cg11070274</text>
<text transform="translate(458.78 50.4) rotate(-90)">cg21813369</text>
<text transform="translate(462.62 50.4) rotate(-90)">cg22026953</text>
<text transform="translate(466.47 50.4) rotate(-90)">cg18008345</text>
<text transform="translate(470.32 50.4) rotate(-90)">Threonic acid</text>
<text transform="translate(474.16 50.4) rotate(-90)">Hydroxypropionic acid</text>
<text transform="translate(478.01 50.4) rotate(-90)">3-Hydroxybutyric acid</text>
<text transform="translate(481.86 50.4) rotate(-90)">Adipic acid</text>
<text transform="translate(485.7 50.4) rotate(-90)">Suberic acid</text>
<text transform="translate(489.55 50.4) rotate(-90)">5Z-Dodecenoic acid</text>
<text transform="translate(493.39 50.4) rotate(-90)">9E-tetradecenoic acid</text>
<text transform="translate(497.24 50.4) rotate(-90)">Bifidobacterium</text>
<text transform="translate(501.09 50.4) rotate(-90)">Streptococcus</text>
<text transform="translate(504.93 50.4) rotate(-90)">Intestinibacter</text>
<text transform="translate(508.78 50.4) rotate(-90)">Veillonella</text>
<text transform="translate(512.62 50.4) rotate(-90)">Klebsiella</text>
<text transform="translate(516.47 50.4) rotate(-90)">Haemophilus</text>
</g>
<defs><linearGradient id="cbb" x1="0" y1="0" x2="0" y2="1">
<stop offset="0" stop-color="#1a2a5a"/>
<stop offset="0.04" stop-color="#1e3e7d"/>
<stop offset="0.1" stop-color="#2560a5"/>
<stop offset="0.2" stop-color="#4393c3"/>
<stop offset="0.3" stop-color="#92c5de"/>
<stop offset="0.4" stop-color="#d1e5f0"/>
<stop offset="0.5" stop-color="#f7f7f7"/>
<stop offset="0.6" stop-color="#fddbc7"/>
<stop offset="0.7" stop-color="#f4a582"/>
<stop offset="0.8" stop-color="#d6604d"/>
<stop offset="0.9" stop-color="#b2182b"/>
<stop offset="1" stop-color="#67001f"/>
</linearGradient></defs>
<rect x="524.2" y="172.5" width="3.6" height="80" fill="url(#cbb)" />
<line x1="528.6" y1="173" x2="529.4" y2="173" stroke="#333" stroke-width="0.7" />
<line x1="528.6" y1="180.5" x2="529.4" y2="180.5" stroke="#333" stroke-width="0.7" />
<line x1="528.6" y1="188.5" x2="529.4" y2="188.5" stroke="#333" stroke-width="0.7" />
<line x1="528.6" y1="196.5" x2="529.4" y2="196.5" stroke="#333" stroke-width="0.7" />
<line x1="528.6" y1="204.5" x2="529.4" y2="204.5" stroke="#333" stroke-width="0.7" />
<line x1="528.6" y1="212.5" x2="529.4" y2="212.5" stroke="#333" stroke-width="0.7" />
<line x1="528.6" y1="220.5" x2="529.4" y2="220.5" stroke="#333" stroke-width="0.7" />
<line x1="528.6" y1="228.5" x2="529.4" y2="228.5" stroke="#333" stroke-width="0.7" />
<line x1="528.6" y1="236.5" x2="529.4" y2="236.5" stroke="#333" stroke-width="0.7" />
<line x1="528.6" y1="244.5" x2="529.4" y2="244.5" stroke="#333" stroke-width="0.7" />
<line x1="528.6" y1="252" x2="529.4" y2="252" stroke="#333" stroke-width="0.7" />
<text x="540.5" y="218" font-size="10.5" text-anchor="middle" font-family="'Liberation Serif', serif" dominant-baseline="central" fill="#444" transform="rotate(90 540.5 218)" >Correlation</text>
</g>
<g id="pc">
<text x="555" y="18" font-size="16" font-weight="bold" fill="#111" >c</text>
<text x="703.5" y="10.5" font-size="10.2" text-anchor="middle" font-weight="bold" dominant-baseline="central" fill="#111" >Test on independent Jinshan cohort</text>
<line x1="605.4" y1="215.4" x2="803.8" y2="17.4" stroke="#8f8f8f" stroke-width="1.2" />
<line x1="601.4" y1="208.7" x2="605.4" y2="208.7" stroke="#444" stroke-width="1.1" />
<text x="589" y="208.7" font-size="8.6" text-anchor="middle" dominant-baseline="central" fill="#333" transform="rotate(-90 589 208.7)" >0.0</text>
<line x1="796.1" y1="215.4" x2="796.1" y2="219.4" stroke="#444" stroke-width="1.1" />
<text x="796.1" y="232.7" font-size="8.6" text-anchor="middle" dominant-baseline="central" fill="#333" >0.0</text>
<line x1="601.4" y1="172" x2="605.4" y2="172" stroke="#444" stroke-width="1.1" />
<text x="589" y="172" font-size="8.6" text-anchor="middle" dominant-baseline="central" fill="#333" transform="rotate(-90 589 172)" >0.2</text>
<line x1="759.38" y1="215.4" x2="759.38" y2="219.4" stroke="#444" stroke-width="1.1" />
<text x="759.38" y="232.7" font-size="8.6" text-anchor="middle" dominant-baseline="central" fill="#333" >0.2</text>
<line x1="601.4" y1="135.3" x2="605.4" y2="135.3" stroke="#444" stroke-width="1.1" />
<text x="589" y="135.3" font-size="8.6" text-anchor="middle" dominant-baseline="central" fill="#333" transform="rotate(-90 589 135.3)" >0.4</text>
<line x1="722.66" y1="215.4" x2="722.66" y2="219.4" stroke="#444" stroke-width="1.1" />
<text x="722.66" y="232.7" font-size="8.6" text-anchor="middle" dominant-baseline="central" fill="#333" >0.4</text>
<line x1="601.4" y1="98.6" x2="605.4" y2="98.6" stroke="#444" stroke-width="1.1" />
<text x="589" y="98.6" font-size="8.6" text-anchor="middle" dominant-baseline="central" fill="#333" transform="rotate(-90 589 98.6)" >0.6</text>
<line x1="685.94" y1="215.4" x2="685.94" y2="219.4" stroke="#444" stroke-width="1.1" />
<text x="685.94" y="232.7" font-size="8.6" text-anchor="middle" dominant-baseline="central" fill="#333" >0.6</text>
<line x1="601.4" y1="61.9" x2="605.4" y2="61.9" stroke="#444" stroke-width="1.1" />
<text x="589" y="61.9" font-size="8.6" text-anchor="middle" dominant-baseline="central" fill="#333" transform="rotate(-90 589 61.9)" >0.8</text>
<line x1="649.22" y1="215.4" x2="649.22" y2="219.4" stroke="#444" stroke-width="1.1" />
<text x="649.22" y="232.7" font-size="8.6" text-anchor="middle" dominant-baseline="central" fill="#333" >0.8</text>
<line x1="601.4" y1="25.2" x2="605.4" y2="25.2" stroke="#444" stroke-width="1.1" />
<text x="589" y="25.2" font-size="8.6" text-anchor="middle" dominant-baseline="central" fill="#333" transform="rotate(-90 589 25.2)" >1.0</text>
<line x1="612.5" y1="215.4" x2="612.5" y2="219.4" stroke="#444" stroke-width="1.1" />
<text x="612.5" y="232.7" font-size="8.6" text-anchor="middle" dominant-baseline="central" fill="#333" >1.0</text>
<rect x="605.4" y="17.4" width="198.4" height="198" fill="none" stroke="#333" stroke-width="1.2" />
<polyline points="611.7,208.7 615.6,208.7 615.6,176.3 619.3,176.3 619.3,170.9 623.2,170.9 623.2,143.6 629.7,143.6 629.7,126.9 633.5,126.9 633.5,122.1 637.2,122.1 637.2,84 643.3,84 643.3,79.2 661.2,79.2 661.2,73.6 667.5,73.6 667.5,68.5 685.8,68.5 685.8,46.3 695.6,46.3 695.6,40.9 703,40.9 703,35.8 706.4,35.8 706.4,30.7 727.1,30.7 727.1,25.2 797,25.2" fill="none" stroke="#e0281a" stroke-width="2.4" stroke-linejoin="miter"/>
<text x="615.6" y="34" font-size="10.2" font-weight="bold" dominant-baseline="central" fill="#111" >AUC=0.819</text>
<text x="573.5" y="116.5" font-size="8.6" text-anchor="middle" dominant-baseline="central" fill="#333" transform="rotate(-90 573.5 116.5)" >Sensitivity</text>
<text x="703.5" y="248.2" font-size="8.6" text-anchor="middle" dominant-baseline="central" fill="#333" >Specificity</text>
<rect x="717.4" y="162.2" width="24.6" height="33.4" fill="#f87c78" />
<text x="729.7" y="159" font-size="5" text-anchor="middle" dominant-baseline="central" fill="#222" >0.679</text>
<rect x="744.5" y="143.1" width="24.4" height="52.5" fill="#3db423" />
<text x="756.7" y="139.9" font-size="5" text-anchor="middle" dominant-baseline="central" fill="#222" >0.791</text>
<rect x="771.4" y="138.5" width="24.4" height="57.1" fill="#6f99d0" />
<text x="783.6" y="135.3" font-size="5" text-anchor="middle" dominant-baseline="central" fill="#222" >0.819</text>
<line x1="713.9" y1="121.3" x2="713.9" y2="196.6" stroke="#111" stroke-width="1.4" />
<line x1="713.2" y1="196.2" x2="799" y2="196.2" stroke="#111" stroke-width="1.4" />
<line x1="712.6" y1="124.7" x2="713.9" y2="124.7" stroke="#111" stroke-width="0.5" />
<text x="711.5" y="124.7" font-size="3" text-anchor="end" dominant-baseline="central" fill="#555" >0.9</text>
<line x1="712.6" y1="141.4" x2="713.9" y2="141.4" stroke="#111" stroke-width="0.5" />
<text x="711.5" y="141.4" font-size="3" text-anchor="end" dominant-baseline="central" fill="#555" >0.8</text>
<line x1="712.6" y1="158.4" x2="713.9" y2="158.4" stroke="#111" stroke-width="0.5" />
<text x="711.5" y="158.4" font-size="3" text-anchor="end" dominant-baseline="central" fill="#555" >0.7</text>
<line x1="712.6" y1="175.5" x2="713.9" y2="175.5" stroke="#111" stroke-width="0.5" />
<text x="711.5" y="175.5" font-size="3" text-anchor="end" dominant-baseline="central" fill="#555" >0.6</text>
<line x1="712.6" y1="192.5" x2="713.9" y2="192.5" stroke="#111" stroke-width="0.5" />
<text x="711.5" y="192.5" font-size="3" text-anchor="end" dominant-baseline="central" fill="#555" >0.5</text>
<text x="702.3" y="158.8" font-size="4.6" text-anchor="middle" dominant-baseline="central" fill="#222" transform="rotate(-90 702.3 158.8)" >AUC</text>
<line x1="729.7" y1="196.2" x2="729.7" y2="197.6" stroke="#111" stroke-width="0.5" />
<text x="731.2" y="199.5" font-size="3.4" text-anchor="end" dominant-baseline="central" fill="#555" transform="rotate(-45 731.2 199.5)" >Baseline I</text>
<line x1="756.7" y1="196.2" x2="756.7" y2="197.6" stroke="#111" stroke-width="0.5" />
<text x="758.2" y="199.5" font-size="3.4" text-anchor="end" dominant-baseline="central" fill="#555" transform="rotate(-45 758.2 199.5)" >Baseline II</text>
<line x1="783.6" y1="196.2" x2="783.6" y2="197.6" stroke="#111" stroke-width="0.5" />
<text x="785.1" y="199.5" font-size="3.4" text-anchor="end" dominant-baseline="central" fill="#555" transform="rotate(-45 785.1 199.5)" >Model</text>
</g>
<g id="pd">
<text x="3.5" y="292" font-size="16" font-weight="bold" fill="#111" >d</text>
<rect x="200.37" y="285.6" width="45.83" height="17.4" fill="#f97f7a" />
<rect x="246.2" y="285.6" width="523.8" height="17.4" fill="#57c8c9" />
<line x1="125.5" y1="294.3" x2="129" y2="294.3" stroke="#333" stroke-width="1" />
<text x="122.8" y="294.6" font-size="12.3" text-anchor="end" dominant-baseline="central" fill="#111" >M3S Model</text>
<line x1="125.5" y1="313.65" x2="129" y2="313.65" stroke="#333" stroke-width="1" />
<text x="122.8" y="313.95" font-size="12.3" text-anchor="end" dominant-baseline="central" fill="#111" >M3S_component23</text>
<rect x="220.88" y="324.3" width="25.32" height="17.4" fill="#f97f7a" />
<line x1="125.5" y1="333" x2="129" y2="333" stroke="#333" stroke-width="1" />
<text x="122.8" y="333.3" font-size="12.3" text-anchor="end" dominant-baseline="central" fill="#111" >M3S_compnent13</text>
<rect x="200.37" y="343.65" width="45.83" height="17.4" fill="#f97f7a" />
<rect x="246.2" y="343.65" width="87.3" height="17.4" fill="#57c8c9" />
<line x1="125.5" y1="352.35" x2="129" y2="352.35" stroke="#333" stroke-width="1" />
<text x="122.8" y="352.65" font-size="12.3" text-anchor="end" dominant-baseline="central" fill="#111" >M3S_component12</text>
<line x1="125.5" y1="371.7" x2="129" y2="371.7" stroke="#333" stroke-width="1" />
<text x="122.8" y="372" font-size="12.3" text-anchor="end" dominant-baseline="central" fill="#111" >M3S_component3</text>
<line x1="125.5" y1="391.05" x2="129" y2="391.05" stroke="#333" stroke-width="1" />
<text x="122.8" y="391.35" font-size="12.3" text-anchor="end" dominant-baseline="central" fill="#111" >M3S_component2</text>
<rect x="220.88" y="401.7" width="25.32" height="17.4" fill="#f97f7a" />
<line x1="125.5" y1="410.4" x2="129" y2="410.4" stroke="#333" stroke-width="1" />
<text x="122.8" y="410.7" font-size="12.3" text-anchor="end" dominant-baseline="central" fill="#111" >M3S_component1</text>
<line x1="125.5" y1="429.75" x2="129" y2="429.75" stroke="#333" stroke-width="1" />
<text x="122.8" y="430.05" font-size="12.3" text-anchor="end" dominant-baseline="central" fill="#111" >Baseline 2</text>
<line x1="125.5" y1="449.1" x2="129" y2="449.1" stroke="#333" stroke-width="1" />
<text x="122.8" y="449.4" font-size="12.3" text-anchor="end" dominant-baseline="central" fill="#111" >Baseline 1</text>
<rect x="129" y="282.7" width="671.3" height="176.6" fill="none" stroke="#333" stroke-width="1" />
<line x1="246.2" y1="282.7" x2="246.2" y2="459.3" stroke="#111" stroke-width="1.1" />
<line x1="158.9" y1="459.3" x2="158.9" y2="462.5" stroke="#333" stroke-width="1" />
<text x="158.9" y="471" font-size="12.1" text-anchor="middle" dominant-baseline="central" fill="#111" >1</text>
<line x1="202.55" y1="459.3" x2="202.55" y2="462.5" stroke="#333" stroke-width="1" />
<text x="202.55" y="471" font-size="12.1" text-anchor="middle" dominant-baseline="central" fill="#111" >0.5</text>
<line x1="246.2" y1="459.3" x2="246.2" y2="462.5" stroke="#333" stroke-width="1" />
<text x="246.2" y="471" font-size="12.1" text-anchor="middle" dominant-baseline="central" fill="#111" >0</text>
<line x1="333.5" y1="459.3" x2="333.5" y2="462.5" stroke="#333" stroke-width="1" />
<text x="333.5" y="471" font-size="12.1" text-anchor="middle" dominant-baseline="central" fill="#111" >1</text>
<line x1="420.8" y1="459.3" x2="420.8" y2="462.5" stroke="#333" stroke-width="1" />
<text x="420.8" y="471" font-size="12.1" text-anchor="middle" dominant-baseline="central" fill="#111" >2</text>
<line x1="508.1" y1="459.3" x2="508.1" y2="462.5" stroke="#333" stroke-width="1" />
<text x="508.1" y="471" font-size="12.1" text-anchor="middle" dominant-baseline="central" fill="#111" >3</text>
<line x1="595.4" y1="459.3" x2="595.4" y2="462.5" stroke="#333" stroke-width="1" />
<text x="595.4" y="471" font-size="12.1" text-anchor="middle" dominant-baseline="central" fill="#111" >4</text>
<line x1="682.7" y1="459.3" x2="682.7" y2="462.5" stroke="#333" stroke-width="1" />
<text x="682.7" y="471" font-size="12.1" text-anchor="middle" dominant-baseline="central" fill="#111" >5</text>
<line x1="770" y1="459.3" x2="770" y2="462.5" stroke="#333" stroke-width="1" />
<text x="770" y="471" font-size="12.1" text-anchor="middle" dominant-baseline="central" fill="#111" >6</text>
<text x="138.7" y="449.3" font-size="11.4" dominant-baseline="central" fill="#111" >Subtype balance</text>
<text x="271.3" y="449.3" font-size="11.6" dominant-baseline="central" fill="#111" >Number of significant phenotypes</text>
<text x="453.5" y="486.2" font-size="15.7" dominant-baseline="central" fill="#111" letter-spacing="-0.95">Statistic value</text>
<line x1="503.4" y1="320.3" x2="503.4" y2="423.6" stroke="#111" stroke-width="1.3" />
<line x1="502.8" y1="423.1" x2="629.5" y2="423.1" stroke="#111" stroke-width="1.3" />
<line x1="501.8" y1="321.4" x2="503.4" y2="321.4" stroke="#111" stroke-width="0.6" />
<text x="500.5" y="321.4" font-size="3.6" text-anchor="end" dominant-baseline="central" fill="#444" >0.8</text>
<line x1="501.8" y1="349.3" x2="503.4" y2="349.3" stroke="#111" stroke-width="0.6" />
<text x="500.5" y="349.3" font-size="3.6" text-anchor="end" dominant-baseline="central" fill="#444" >0.7</text>
<line x1="501.8" y1="377.2" x2="503.4" y2="377.2" stroke="#111" stroke-width="0.6" />
<text x="500.5" y="377.2" font-size="3.6" text-anchor="end" dominant-baseline="central" fill="#444" >0.6</text>
<line x1="501.8" y1="405.3" x2="503.4" y2="405.3" stroke="#111" stroke-width="0.6" />
<text x="500.5" y="405.3" font-size="3.6" text-anchor="end" dominant-baseline="central" fill="#444" >0.5</text>
<text x="553.4" y="324" font-size="5.7" text-anchor="middle" dominant-baseline="central" fill="#222" >Wilcoxon, p = 0.017</text>
<text x="490.8" y="372" font-size="5.3" text-anchor="middle" dominant-baseline="central" fill="#222" transform="rotate(-90 490.8 372)" >FN BMD</text>
<path d="M533.4 346.8C533.43 347.33 533.7 348.63 533.6 350C533.5 351.37 533.57 353.17 532.8 355C532.03 356.83 530.8 359 529 361C527.2 363 524.25 365 522 367C519.75 369 517 370.83 515.5 373C514 375.17 513.17 377.83 513 380C512.83 382.17 513.5 384 514.5 386C515.5 388 517.42 390 519 392C520.58 394 522.42 396 524 398C525.58 400 527.33 402 528.5 404C529.67 406 530.42 408.17 531 410C531.58 411.83 531.77 413.6 532 415C532.23 416.4 532.33 417.83 532.4 418.4L545.6 418.4C545.67 417.83 545.77 416.4 546 415C546.23 413.6 546.42 411.83 547 410C547.58 408.17 548.33 406 549.5 404C550.67 402 552.42 400 554 398C555.58 396 557.42 394 559 392C560.58 390 562.5 388 563.5 386C564.5 384 565.17 382.17 565 380C564.83 377.83 564 375.17 562.5 373C561 370.83 558.25 369 556 367C553.75 365 550.8 363 549 361C547.2 359 545.97 356.83 545.2 355C544.43 353.17 544.5 351.37 544.4 350C544.3 348.63 544.57 347.33 544.6 346.8Z" fill="#e3321f" stroke="#1c1c1c" stroke-width="1.3" stroke-linejoin="round"/>
<line x1="539" y1="346.8" x2="539" y2="374.1" stroke="#1c1c1c" stroke-width="1.2" />
<line x1="539" y1="393.4" x2="539" y2="418.4" stroke="#1c1c1c" stroke-width="1.2" />
<rect x="535.9" y="374.1" width="6.2" height="19.3" fill="none" stroke="#1c1c1c" stroke-width="1.2" />
<line x1="535.9" y1="383.4" x2="542.1" y2="383.4" stroke="#1c1c1c" stroke-width="2.2" />
<path d="M592.4 325.5C592.15 326.25 591.9 327.92 590.9 330C589.9 332.08 587.9 335.33 586.4 338C584.9 340.67 583.28 343.33 581.9 346C580.52 348.67 579.05 351.33 578.1 354C577.15 356.67 576.55 359.83 576.2 362C575.85 364.17 575.88 365.17 576 367C576.12 368.83 576.25 370.83 576.9 373C577.55 375.17 578.65 377.5 579.9 380C581.15 382.5 582.9 385.33 584.4 388C585.9 390.67 587.57 393.33 588.9 396C590.23 398.67 591.53 401.67 592.4 404C593.27 406.33 593.68 407.92 594.1 410C594.52 412.08 594.77 415.42 594.9 416.5L598.9 416.5C599.03 415.42 599.28 412.08 599.7 410C600.12 407.92 600.53 406.33 601.4 404C602.27 401.67 603.57 398.67 604.9 396C606.23 393.33 607.9 390.67 609.4 388C610.9 385.33 612.65 382.5 613.9 380C615.15 377.5 616.25 375.17 616.9 373C617.55 370.83 617.68 368.83 617.8 367C617.92 365.17 617.95 364.17 617.6 362C617.25 359.83 616.65 356.67 615.7 354C614.75 351.33 613.28 348.67 611.9 346C610.52 343.33 608.9 340.67 607.4 338C605.9 335.33 603.9 332.08 602.9 330C601.9 327.92 601.65 326.25 601.4 325.5Z" fill="#3551a8" stroke="#1c1c1c" stroke-width="1.3" stroke-linejoin="round"/>
<line x1="596.9" y1="325.5" x2="596.9" y2="348.9" stroke="#1c1c1c" stroke-width="1.2" />
<line x1="596.9" y1="378.3" x2="596.9" y2="416.5" stroke="#1c1c1c" stroke-width="1.2" />
<rect x="593.8" y="348.9" width="6.2" height="29.4" fill="none" stroke="#1c1c1c" stroke-width="1.2" />
<line x1="593.8" y1="365" x2="600" y2="365" stroke="#1c1c1c" stroke-width="2.2" />
<line x1="539" y1="423.1" x2="539" y2="424.8" stroke="#111" stroke-width="0.6" />
<g transform="translate(539 427) rotate(-45)" font-size="4.6" font-weight="bold" fill="#222" text-anchor="end"><text x="0" y="1.5">Sensitive</text><text x="0" y="7.2">responders</text></g>
<line x1="596.9" y1="423.1" x2="596.9" y2="424.8" stroke="#111" stroke-width="0.6" />
<g transform="translate(596.9 427) rotate(-45)" font-size="4.6" font-weight="bold" fill="#222" text-anchor="end"><text x="0" y="1.5">Non-sensitive</text><text x="0" y="7.2">responders</text></g>
<text x="567.5" y="452" font-size="5.4" text-anchor="middle" dominant-baseline="central" fill="#222" >Predicted</text>
<line x1="665.4" y1="320.3" x2="665.4" y2="423.6" stroke="#111" stroke-width="1.3" />
<line x1="664.8" y1="423.1" x2="792" y2="423.1" stroke="#111" stroke-width="1.3" />
<line x1="663.8" y1="343.1" x2="665.4" y2="343.1" stroke="#111" stroke-width="0.6" />
<text x="662.5" y="343.1" font-size="3.6" text-anchor="end" dominant-baseline="central" fill="#444" >0.9</text>
<line x1="663.8" y1="368.1" x2="665.4" y2="368.1" stroke="#111" stroke-width="0.6" />
<text x="662.5" y="368.1" font-size="3.6" text-anchor="end" dominant-baseline="central" fill="#444" >0.8</text>
<line x1="663.8" y1="392.9" x2="665.4" y2="392.9" stroke="#111" stroke-width="0.6" />
<text x="662.5" y="392.9" font-size="3.6" text-anchor="end" dominant-baseline="central" fill="#444" >0.7</text>
<line x1="663.8" y1="417.8" x2="665.4" y2="417.8" stroke="#111" stroke-width="0.6" />
<text x="662.5" y="417.8" font-size="3.6" text-anchor="end" dominant-baseline="central" fill="#444" >0.6</text>
<text x="715.3" y="324" font-size="5.7" text-anchor="middle" dominant-baseline="central" fill="#222" >Wilcoxon, p = 0.027</text>
<text x="652.4" y="372" font-size="5.3" text-anchor="middle" dominant-baseline="central" fill="#222" transform="rotate(-90 652.4 372)" >TH BMD</text>
<path d="M676.4 374.1C676.18 374.33 675.18 374.68 675.1 375.5C675.02 376.32 675.35 377.58 675.9 379C676.45 380.42 677.7 382.33 678.4 384C679.1 385.67 679.87 387.33 680.1 389C680.33 390.67 680.17 392.33 679.8 394C679.43 395.67 678.43 397.33 677.9 399C677.37 400.67 676.72 402.33 676.6 404C676.48 405.67 676.65 407.5 677.2 409C677.75 410.5 678.87 411.75 679.9 413C680.93 414.25 682.4 415.63 683.4 416.5C684.4 417.37 685.48 417.92 685.9 418.2L714.9 418.2C715.32 417.92 716.4 417.37 717.4 416.5C718.4 415.63 719.87 414.25 720.9 413C721.93 411.75 723.05 410.5 723.6 409C724.15 407.5 724.32 405.67 724.2 404C724.08 402.33 723.43 400.67 722.9 399C722.37 397.33 721.37 395.67 721 394C720.63 392.33 720.47 390.67 720.7 389C720.93 387.33 721.7 385.67 722.4 384C723.1 382.33 724.35 380.42 724.9 379C725.45 377.58 725.78 376.32 725.7 375.5C725.62 374.68 724.62 374.33 724.4 374.1Z" fill="#e3321f" stroke="#1c1c1c" stroke-width="1.3" stroke-linejoin="round"/>
<line x1="700.4" y1="374.1" x2="700.4" y2="376.2" stroke="#1c1c1c" stroke-width="1.2" />
<line x1="700.4" y1="404.1" x2="700.4" y2="418.2" stroke="#1c1c1c" stroke-width="1.2" />
<rect x="697.3" y="376.2" width="6.2" height="27.9" fill="none" stroke="#1c1c1c" stroke-width="1.2" />
<line x1="697.3" y1="397.3" x2="703.5" y2="397.3" stroke="#1c1c1c" stroke-width="2.2" />
<path d="M755.4 325.5C755.28 326.58 755.3 329.58 754.7 332C754.1 334.42 753.12 337.33 751.8 340C750.48 342.67 748.63 345.33 746.8 348C744.97 350.67 742.63 353.67 740.8 356C738.97 358.33 737.12 360.17 735.8 362C734.48 363.83 733.48 365.5 732.9 367C732.32 368.5 732.15 369.5 732.3 371C732.45 372.5 732.88 374 733.8 376C734.72 378 736.38 380.5 737.8 383C739.22 385.5 740.8 388.17 742.3 391C743.8 393.83 745.47 397 746.8 400C748.13 403 749.45 406.5 750.3 409C751.15 411.5 751.53 413.47 751.9 415C752.27 416.53 752.4 417.67 752.5 418.2L764.1 418.2C764.2 417.67 764.33 416.53 764.7 415C765.07 413.47 765.45 411.5 766.3 409C767.15 406.5 768.47 403 769.8 400C771.13 397 772.8 393.83 774.3 391C775.8 388.17 777.38 385.5 778.8 383C780.22 380.5 781.88 378 782.8 376C783.72 374 784.15 372.5 784.3 371C784.45 369.5 784.28 368.5 783.7 367C783.12 365.5 782.12 363.83 780.8 362C779.48 360.17 777.63 358.33 775.8 356C773.97 353.67 771.63 350.67 769.8 348C767.97 345.33 766.12 342.67 764.8 340C763.48 337.33 762.5 334.42 761.9 332C761.3 329.58 761.32 326.58 761.2 325.5Z" fill="#3551a8" stroke="#1c1c1c" stroke-width="1.3" stroke-linejoin="round"/>
<line x1="758.3" y1="325.5" x2="758.3" y2="362.1" stroke="#1c1c1c" stroke-width="1.2" />
<line x1="758.3" y1="388.2" x2="758.3" y2="418.2" stroke="#1c1c1c" stroke-width="1.2" />
<rect x="755.2" y="362.1" width="6.2" height="26.1" fill="none" stroke="#1c1c1c" stroke-width="1.2" />
<line x1="755.2" y1="373.7" x2="761.4" y2="373.7" stroke="#1c1c1c" stroke-width="2.2" />
<line x1="700.4" y1="423.1" x2="700.4" y2="424.8" stroke="#111" stroke-width="0.6" />
<g transform="translate(700.4 427) rotate(-45)" font-size="4.6" font-weight="bold" fill="#222" text-anchor="end"><text x="0" y="1.5">Sensitive</text><text x="0" y="7.2">responders</text></g>
<line x1="758.3" y1="423.1" x2="758.3" y2="424.8" stroke="#111" stroke-width="0.6" />
<g transform="translate(758.3 427) rotate(-45)" font-size="4.6" font-weight="bold" fill="#222" text-anchor="end"><text x="0" y="1.5">Non-sensitive</text><text x="0" y="7.2">responders</text></g>
<text x="730" y="452" font-size="5.4" text-anchor="middle" dominant-baseline="central" fill="#222" >Predicted</text>
</g>
<g id="pe">
<text x="3.5" y="514.5" font-size="16" font-weight="bold" fill="#111" >e</text>
<text x="123.5" y="518.3" font-size="7.2" text-anchor="middle" dominant-baseline="central" fill="#222" >Survey in 2023 year</text>
<rect x="55.7" y="529" width="145.9" height="16.9" fill="#6f99d0" />
<rect x="55.7" y="548.3" width="57.3" height="16.8" fill="#3db423" />
<rect x="55.6" y="567.5" width="0.5" height="17" fill="#fbdad8" />
<rect x="48.2" y="525" width="162.2" height="62.9" fill="none" stroke="#222" stroke-width="1.1" />
<text x="210.8" y="534.8" font-size="9.6" text-anchor="end" dominant-baseline="central" fill="#111" >13.3</text>
<text x="119.6" y="553.6" font-size="9.6" text-anchor="end" dominant-baseline="central" fill="#111" >5.2</text>
<text x="53.5" y="573.2" font-size="9.6" dominant-baseline="central" fill="#111" >0</text>
<line x1="46" y1="537" x2="48.2" y2="537" stroke="#222" stroke-width="0.9" />
<text x="42.8" y="532" font-size="7" text-anchor="end" dominant-baseline="central" fill="#666" >Osteoporosis</text>
<text x="42.8" y="540.5" font-size="7" text-anchor="end" dominant-baseline="central" fill="#666" >(N=105)</text>
<line x1="46" y1="557.5" x2="48.2" y2="557.5" stroke="#222" stroke-width="0.9" />
<text x="42.8" y="552.5" font-size="7" text-anchor="end" dominant-baseline="central" fill="#666" >Osteopenic</text>
<text x="42.8" y="561" font-size="7" text-anchor="end" dominant-baseline="central" fill="#666" >(N=153)</text>
<line x1="46" y1="577.3" x2="48.2" y2="577.3" stroke="#222" stroke-width="0.9" />
<text x="42.8" y="572.3" font-size="7" text-anchor="end" dominant-baseline="central" fill="#666" >Normal</text>
<text x="42.8" y="580.8" font-size="7" text-anchor="end" dominant-baseline="central" fill="#666" >(N=90)</text>
<line x1="55.7" y1="587.9" x2="55.7" y2="590" stroke="#222" stroke-width="0.9" />
<text x="55.7" y="595.6" font-size="7.4" text-anchor="middle" dominant-baseline="central" fill="#333" >0</text>
<line x1="110.5" y1="587.9" x2="110.5" y2="590" stroke="#222" stroke-width="0.9" />
<text x="110.5" y="595.6" font-size="7.4" text-anchor="middle" dominant-baseline="central" fill="#333" >5</text>
<line x1="165.4" y1="587.9" x2="165.4" y2="590" stroke="#222" stroke-width="0.9" />
<text x="165.4" y="595.6" font-size="7.4" text-anchor="middle" dominant-baseline="central" fill="#333" >10</text>
<text x="120.4" y="606.2" font-size="7.4" text-anchor="middle" dominant-baseline="central" fill="#222" >Fracture ratio (%)</text>
<text x="212.5" y="514.5" font-size="16" font-weight="bold" fill="#111" >f</text>
<rect x="243.2" y="538.1" width="32.6" height="60.5" fill="#f97f7a" />
<rect x="279.9" y="518.3" width="32.6" height="80.3" fill="#57c8c9" />
<rect x="238.1" y="514.3" width="79.8" height="88.3" fill="none" stroke="#333" stroke-width="0.9" />
<text x="228.7" y="553.4" font-size="5.6" text-anchor="middle" dominant-baseline="central" fill="#333" transform="rotate(-90 228.7 553.4)" >Fracture ratio (%)</text>
<line x1="236.7" y1="538.1" x2="238.1" y2="538.1" stroke="#333" stroke-width="0.6" />
<text x="235.9" y="538.1" font-size="3.2" text-anchor="end" dominant-baseline="central" fill="#555" >10</text>
<line x1="236.7" y1="568.4" x2="238.1" y2="568.4" stroke="#333" stroke-width="0.6" />
<text x="235.9" y="568.4" font-size="3.2" text-anchor="end" dominant-baseline="central" fill="#555" >5</text>
<line x1="236.7" y1="598.6" x2="238.1" y2="598.6" stroke="#333" stroke-width="0.6" />
<text x="235.9" y="598.6" font-size="3.2" text-anchor="end" dominant-baseline="central" fill="#555" >0</text>
<line x1="259.5" y1="602.6" x2="259.5" y2="604" stroke="#333" stroke-width="0.6" />
<text x="259.5" y="608.6" font-size="5.2" text-anchor="middle" dominant-baseline="central" fill="#333" >CIS1</text>
<line x1="297.8" y1="602.6" x2="297.8" y2="604" stroke="#333" stroke-width="0.6" />
<text x="297.8" y="608.6" font-size="5.2" text-anchor="middle" dominant-baseline="central" fill="#333" >CIS2</text>
<text x="334" y="514.5" font-size="16" font-weight="bold" fill="#111" >g</text>
<rect x="359.1" y="559.5" width="32.6" height="39.1" fill="#f97f7a" />
<rect x="395.8" y="518.3" width="32.3" height="80.3" fill="#57c8c9" />
<rect x="354.1" y="514.3" width="79" height="88.3" fill="none" stroke="#333" stroke-width="0.9" />
<text x="343.4" y="553.4" font-size="5.6" text-anchor="middle" dominant-baseline="central" fill="#333" transform="rotate(-90 343.4 553.4)" >Fracture ratio (%)</text>
<line x1="352.7" y1="535.8" x2="354.1" y2="535.8" stroke="#333" stroke-width="0.6" />
<text x="351.9" y="535.8" font-size="3.2" text-anchor="end" dominant-baseline="central" fill="#555" >10</text>
<line x1="352.7" y1="567.2" x2="354.1" y2="567.2" stroke="#333" stroke-width="0.6" />
<text x="351.9" y="567.2" font-size="3.2" text-anchor="end" dominant-baseline="central" fill="#555" >5</text>
<line x1="352.7" y1="598.6" x2="354.1" y2="598.6" stroke="#333" stroke-width="0.6" />
<text x="351.9" y="598.6" font-size="3.2" text-anchor="end" dominant-baseline="central" fill="#555" >0</text>
<line x1="371" y1="602.6" x2="371" y2="604" stroke="#333" stroke-width="0.6" />
<text x="371" y="608.6" font-size="5.2" text-anchor="middle" dominant-baseline="central" fill="#333" >CIS1 without PF</text>
<line x1="414.3" y1="602.6" x2="414.3" y2="604" stroke="#333" stroke-width="0.6" />
<text x="414.3" y="608.6" font-size="5.2" text-anchor="middle" dominant-baseline="central" fill="#333" >CIS2 without PF</text>
<rect x="456.6" y="518.3" width="32.7" height="80.3" fill="#f97f7a" />
<rect x="493.3" y="529.8" width="32.6" height="68.8" fill="#57c8c9" />
<rect x="451.8" y="514.3" width="78.9" height="88.3" fill="none" stroke="#333" stroke-width="0.9" />
<text x="440.5" y="553.4" font-size="5.6" text-anchor="middle" dominant-baseline="central" fill="#333" transform="rotate(-90 440.5 553.4)" >Fracture ratio (%)</text>
<line x1="450.4" y1="526.3" x2="451.8" y2="526.3" stroke="#333" stroke-width="0.6" />
<text x="449.6" y="526.3" font-size="3.2" text-anchor="end" dominant-baseline="central" fill="#555" >15</text>
<line x1="450.4" y1="550.4" x2="451.8" y2="550.4" stroke="#333" stroke-width="0.6" />
<text x="449.6" y="550.4" font-size="3.2" text-anchor="end" dominant-baseline="central" fill="#555" >10</text>
<line x1="450.4" y1="574.5" x2="451.8" y2="574.5" stroke="#333" stroke-width="0.6" />
<text x="449.6" y="574.5" font-size="3.2" text-anchor="end" dominant-baseline="central" fill="#555" >5</text>
<line x1="450.4" y1="598.6" x2="451.8" y2="598.6" stroke="#333" stroke-width="0.6" />
<text x="449.6" y="598.6" font-size="3.2" text-anchor="end" dominant-baseline="central" fill="#555" >0</text>
<line x1="472.5" y1="602.6" x2="472.5" y2="604" stroke="#333" stroke-width="0.6" />
<text x="472.5" y="608.6" font-size="5.2" text-anchor="middle" dominant-baseline="central" fill="#333" >CIS1 with PF</text>
<line x1="511.5" y1="602.6" x2="511.5" y2="604" stroke="#333" stroke-width="0.6" />
<text x="511.5" y="608.6" font-size="5.2" text-anchor="middle" dominant-baseline="central" fill="#333" >CIS2 with PF</text>
<text x="551.5" y="514.5" font-size="16" font-weight="bold" fill="#111" >h</text>
<clipPath id="hc1"><rect x="566.5" y="516.9" width="114.29999999999995" height="84.30000000000007"/></clipPath><g clip-path="url(#hc1)">
<circle cx="570.8" cy="597.17" r="2.9" fill="#d0d0d0"/>
<circle cx="571.4" cy="594.4" r="2.9" fill="#d0d0d0"/>
<circle cx="572.01" cy="591.49" r="2.9" fill="#d0d0d0"/>
<circle cx="572.61" cy="589.5" r="2.9" fill="#d0d0d0"/>
<circle cx="573.21" cy="587.5" r="2.9" fill="#d0d0d0"/>
<circle cx="573.81" cy="585.57" r="2.9" fill="#d0d0d0"/>
<circle cx="574.42" cy="583.69" r="2.9" fill="#d0d0d0"/>
<circle cx="575.02" cy="581.81" r="2.9" fill="#d0d0d0"/>
<circle cx="575.62" cy="579.93" r="2.9" fill="#d0d0d0"/>
<circle cx="576.22" cy="578.81" r="2.9" fill="#d0d0d0"/>
<circle cx="576.83" cy="578.45" r="2.9" fill="#d0d0d0"/>
<circle cx="577.43" cy="578.08" r="2.9" fill="#d0d0d0"/>
<circle cx="578.03" cy="577.72" r="2.9" fill="#d0d0d0"/>
<circle cx="578.64" cy="577.36" r="2.9" fill="#d0d0d0"/>
<circle cx="579.24" cy="576.99" r="2.9" fill="#d0d0d0"/>
<circle cx="579.84" cy="576.63" r="2.9" fill="#d0d0d0"/>
<circle cx="580.44" cy="576.42" r="2.9" fill="#d0d0d0"/>
<circle cx="581.05" cy="576.22" r="2.9" fill="#d0d0d0"/>
<circle cx="581.65" cy="576.01" r="2.9" fill="#d0d0d0"/>
<circle cx="582.25" cy="575.81" r="2.9" fill="#d0d0d0"/>
<circle cx="582.85" cy="575.6" r="2.9" fill="#d0d0d0"/>
<circle cx="583.46" cy="575.4" r="2.9" fill="#d0d0d0"/>
<circle cx="584.06" cy="575.19" r="2.9" fill="#d0d0d0"/>
<circle cx="584.66" cy="574.98" r="2.9" fill="#d0d0d0"/>
<circle cx="585.26" cy="574.84" r="2.9" fill="#d0d0d0"/>
<circle cx="585.87" cy="574.75" r="2.9" fill="#d0d0d0"/>
<circle cx="586.47" cy="574.66" r="2.9" fill="#d0d0d0"/>
<circle cx="587.07" cy="574.57" r="2.9" fill="#d0d0d0"/>
<circle cx="587.67" cy="574.48" r="2.9" fill="#d0d0d0"/>
<circle cx="588.28" cy="574.39" r="2.9" fill="#d0d0d0"/>
<circle cx="588.88" cy="574.3" r="2.9" fill="#d0d0d0"/>
<circle cx="589.48" cy="574.21" r="2.9" fill="#d0d0d0"/>
<circle cx="590.08" cy="574.13" r="2.9" fill="#d0d0d0"/>
<circle cx="590.69" cy="574.04" r="2.9" fill="#d0d0d0"/>
<circle cx="591.29" cy="573.95" r="2.9" fill="#d0d0d0"/>
<circle cx="591.89" cy="573.86" r="2.9" fill="#d0d0d0"/>
<circle cx="592.49" cy="573.77" r="2.9" fill="#d0d0d0"/>
<circle cx="593.1" cy="573.68" r="2.9" fill="#d0d0d0"/>
<circle cx="593.7" cy="573.59" r="2.9" fill="#d0d0d0"/>
<circle cx="594.3" cy="573.5" r="2.9" fill="#d0d0d0"/>
<circle cx="594.91" cy="573.41" r="2.9" fill="#d0d0d0"/>
<circle cx="595.51" cy="573.32" r="2.9" fill="#d0d0d0"/>
<circle cx="596.11" cy="573.23" r="2.9" fill="#d0d0d0"/>
<circle cx="596.71" cy="573.15" r="2.9" fill="#d0d0d0"/>
<circle cx="597.32" cy="573.06" r="2.9" fill="#d0d0d0"/>
<circle cx="597.92" cy="572.97" r="2.9" fill="#d0d0d0"/>
<circle cx="598.52" cy="572.88" r="2.9" fill="#d0d0d0"/>
<circle cx="599.12" cy="572.79" r="2.9" fill="#d0d0d0"/>
<circle cx="599.73" cy="572.7" r="2.9" fill="#d0d0d0"/>
<circle cx="600.33" cy="572.61" r="2.9" fill="#d0d0d0"/>
<circle cx="600.93" cy="572.52" r="2.9" fill="#d0d0d0"/>
<circle cx="601.53" cy="572.37" r="2.9" fill="#d0d0d0"/>
<circle cx="602.14" cy="572.22" r="2.9" fill="#d0d0d0"/>
<circle cx="602.74" cy="572.06" r="2.9" fill="#d0d0d0"/>
<circle cx="603.34" cy="571.91" r="2.9" fill="#d0d0d0"/>
<circle cx="603.94" cy="571.76" r="2.9" fill="#d0d0d0"/>
<circle cx="604.55" cy="571.6" r="2.9" fill="#d0d0d0"/>
<circle cx="605.15" cy="571.45" r="2.9" fill="#d0d0d0"/>
<circle cx="605.75" cy="571.3" r="2.9" fill="#d0d0d0"/>
<circle cx="606.35" cy="571.14" r="2.9" fill="#d0d0d0"/>
<circle cx="606.96" cy="570.99" r="2.9" fill="#d0d0d0"/>
<circle cx="607.56" cy="570.83" r="2.9" fill="#d0d0d0"/>
<circle cx="608.16" cy="570.68" r="2.9" fill="#d0d0d0"/>
<circle cx="608.77" cy="570.53" r="2.9" fill="#d0d0d0"/>
<circle cx="609.37" cy="570.37" r="2.9" fill="#d0d0d0"/>
<circle cx="609.97" cy="570.22" r="2.9" fill="#d0d0d0"/>
<circle cx="610.57" cy="570.07" r="2.9" fill="#d0d0d0"/>
<circle cx="611.18" cy="569.91" r="2.9" fill="#d0d0d0"/>
<circle cx="611.78" cy="569.76" r="2.9" fill="#d0d0d0"/>
<circle cx="612.38" cy="569.61" r="2.9" fill="#d0d0d0"/>
<circle cx="612.98" cy="569.45" r="2.9" fill="#d0d0d0"/>
<circle cx="613.59" cy="569.3" r="2.9" fill="#d0d0d0"/>
<circle cx="614.19" cy="569.15" r="2.9" fill="#d0d0d0"/>
<circle cx="614.79" cy="568.99" r="2.9" fill="#d0d0d0"/>
<circle cx="615.39" cy="568.84" r="2.9" fill="#d0d0d0"/>
<circle cx="616" cy="568.68" r="2.9" fill="#d0d0d0"/>
<circle cx="616.6" cy="568.52" r="2.9" fill="#d0d0d0"/>
<circle cx="617.2" cy="568.36" r="2.9" fill="#d0d0d0"/>
<circle cx="617.8" cy="568.2" r="2.9" fill="#d0d0d0"/>
<circle cx="618.41" cy="568.04" r="2.9" fill="#d0d0d0"/>
<circle cx="619.01" cy="567.88" r="2.9" fill="#d0d0d0"/>
<circle cx="619.61" cy="567.72" r="2.9" fill="#d0d0d0"/>
<circle cx="620.21" cy="567.56" r="2.9" fill="#d0d0d0"/>
<circle cx="620.82" cy="567.4" r="2.9" fill="#d0d0d0"/>
<circle cx="621.42" cy="567.24" r="2.9" fill="#d0d0d0"/>
<circle cx="622.02" cy="567.08" r="2.9" fill="#d0d0d0"/>
<circle cx="622.62" cy="566.92" r="2.9" fill="#d0d0d0"/>
<circle cx="623.23" cy="566.76" r="2.9" fill="#d0d0d0"/>
<circle cx="623.83" cy="566.6" r="2.9" fill="#d0d0d0"/>
<circle cx="624.43" cy="566.44" r="2.9" fill="#d0d0d0"/>
<circle cx="625.04" cy="566.28" r="2.9" fill="#d0d0d0"/>
<circle cx="625.64" cy="566.12" r="2.9" fill="#d0d0d0"/>
<circle cx="626.24" cy="565.96" r="2.9" fill="#d0d0d0"/>
<circle cx="626.84" cy="565.8" r="2.9" fill="#d0d0d0"/>
<circle cx="627.45" cy="565.64" r="2.9" fill="#d0d0d0"/>
<circle cx="628.05" cy="565.48" r="2.9" fill="#d0d0d0"/>
<circle cx="628.65" cy="565.32" r="2.9" fill="#d0d0d0"/>
<circle cx="629.25" cy="565.16" r="2.9" fill="#d0d0d0"/>
<circle cx="629.86" cy="565" r="2.9" fill="#d0d0d0"/>
<circle cx="630.46" cy="564.84" r="2.9" fill="#d0d0d0"/>
<circle cx="631.06" cy="564.68" r="2.9" fill="#d0d0d0"/>
<circle cx="631.66" cy="564.52" r="2.9" fill="#d0d0d0"/>
<circle cx="632.27" cy="564.36" r="2.9" fill="#d0d0d0"/>
<circle cx="632.87" cy="564.2" r="2.9" fill="#d0d0d0"/>
<circle cx="633.47" cy="564.04" r="2.9" fill="#d0d0d0"/>
<circle cx="634.07" cy="563.85" r="2.9" fill="#d0d0d0"/>
<circle cx="634.68" cy="563.65" r="2.9" fill="#d0d0d0"/>
<circle cx="635.28" cy="563.46" r="2.9" fill="#d0d0d0"/>
<circle cx="635.88" cy="563.26" r="2.9" fill="#d0d0d0"/>
<circle cx="636.48" cy="563.06" r="2.9" fill="#d0d0d0"/>
<circle cx="637.09" cy="562.87" r="2.9" fill="#d0d0d0"/>
<circle cx="637.69" cy="562.67" r="2.9" fill="#d0d0d0"/>
<circle cx="638.29" cy="562.48" r="2.9" fill="#d0d0d0"/>
<circle cx="638.9" cy="562.28" r="2.9" fill="#d0d0d0"/>
<circle cx="639.5" cy="562.08" r="2.9" fill="#d0d0d0"/>
<circle cx="640.1" cy="561.89" r="2.9" fill="#d0d0d0"/>
<circle cx="640.7" cy="561.69" r="2.9" fill="#d0d0d0"/>
<circle cx="641.31" cy="561.49" r="2.9" fill="#d0d0d0"/>
<circle cx="641.91" cy="561.3" r="2.9" fill="#d0d0d0"/>
<circle cx="642.51" cy="561.1" r="2.9" fill="#d0d0d0"/>
<circle cx="643.11" cy="560.91" r="2.9" fill="#d0d0d0"/>
<circle cx="643.72" cy="560.71" r="2.9" fill="#d0d0d0"/>
<circle cx="644.32" cy="560.51" r="2.9" fill="#d0d0d0"/>
<circle cx="644.92" cy="560.32" r="2.9" fill="#d0d0d0"/>
<circle cx="645.52" cy="560.12" r="2.9" fill="#d0d0d0"/>
<circle cx="646.13" cy="559.91" r="2.9" fill="#d0d0d0"/>
<circle cx="646.73" cy="559.67" r="2.9" fill="#d0d0d0"/>
<circle cx="647.33" cy="559.44" r="2.9" fill="#d0d0d0"/>
<circle cx="647.93" cy="559.21" r="2.9" fill="#d0d0d0"/>
<circle cx="648.54" cy="558.98" r="2.9" fill="#d0d0d0"/>
<circle cx="649.14" cy="558.74" r="2.9" fill="#d0d0d0"/>
<circle cx="649.74" cy="558.51" r="2.9" fill="#d0d0d0"/>
<circle cx="650.34" cy="558.28" r="2.9" fill="#d0d0d0"/>
<circle cx="650.95" cy="558.04" r="2.9" fill="#d0d0d0"/>
<circle cx="651.55" cy="557.81" r="2.9" fill="#d0d0d0"/>
<circle cx="652.15" cy="557.58" r="2.9" fill="#d0d0d0"/>
<circle cx="652.75" cy="557.34" r="2.9" fill="#d0d0d0"/>
<circle cx="653.36" cy="557.11" r="2.9" fill="#d0d0d0"/>
<circle cx="653.96" cy="556.88" r="2.9" fill="#d0d0d0"/>
<circle cx="654.56" cy="556.64" r="2.9" fill="#d0d0d0"/>
<circle cx="655.17" cy="556.42" r="2.9" fill="#d0d0d0"/>
<circle cx="655.77" cy="556.2" r="2.9" fill="#d0d0d0"/>
<circle cx="656.37" cy="555.98" r="2.9" fill="#d0d0d0"/>
<circle cx="656.97" cy="555.76" r="2.9" fill="#d0d0d0"/>
<circle cx="657.58" cy="555.54" r="2.9" fill="#d0d0d0"/>
<circle cx="658.18" cy="555.33" r="2.9" fill="#d0d0d0"/>
<circle cx="658.78" cy="555.11" r="2.9" fill="#d0d0d0"/>
<circle cx="659.38" cy="554.89" r="2.9" fill="#d0d0d0"/>
<circle cx="659.99" cy="554.67" r="2.9" fill="#d0d0d0"/>
<circle cx="660.59" cy="554.45" r="2.9" fill="#d0d0d0"/>
<circle cx="661.19" cy="554.17" r="2.9" fill="#d0d0d0"/>
<circle cx="661.79" cy="553.82" r="2.9" fill="#d0d0d0"/>
<circle cx="662.4" cy="553.47" r="2.9" fill="#d0d0d0"/>
<circle cx="663" cy="553.12" r="2.9" fill="#d0d0d0"/>
<circle cx="663.6" cy="552.77" r="2.9" fill="#d0d0d0"/>
<circle cx="664.2" cy="552.42" r="2.9" fill="#d0d0d0"/>
<circle cx="664.81" cy="552.07" r="2.9" fill="#d0d0d0"/>
<circle cx="665.41" cy="551.72" r="2.9" fill="#d0d0d0"/>
<circle cx="666.01" cy="551.11" r="2.9" fill="#d0d0d0"/>
<circle cx="666.61" cy="550.5" r="2.9" fill="#d0d0d0"/>
<circle cx="667.22" cy="549.89" r="2.9" fill="#d0d0d0"/>
<circle cx="667.82" cy="549.27" r="2.9" fill="#d0d0d0"/>
<circle cx="668.42" cy="548.66" r="2.9" fill="#d0d0d0"/>
<circle cx="669.03" cy="547.79" r="2.9" fill="#d0d0d0"/>
<circle cx="669.63" cy="546.91" r="2.9" fill="#d0d0d0"/>
<circle cx="670.23" cy="546.04" r="2.9" fill="#d0d0d0"/>
<circle cx="670.83" cy="545.17" r="2.9" fill="#d0d0d0"/>
<circle cx="671.44" cy="543.92" r="2.9" fill="#d0d0d0"/>
<circle cx="672.04" cy="542.67" r="2.9" fill="#d0d0d0"/>
<circle cx="672.64" cy="541.42" r="2.9" fill="#d0d0d0"/>
<circle cx="673.24" cy="539.92" r="2.9" fill="#d0d0d0"/>
<circle cx="673.85" cy="538.17" r="2.9" fill="#d0d0d0"/>
<circle cx="674.45" cy="536.43" r="2.9" fill="#d0d0d0"/>
<circle cx="675.05" cy="523.32" r="2.9" fill="#d0d0d0"/>
<circle cx="675.35" cy="520.69" r="2.9" fill="#d0d0d0"/>
<circle cx="573.51" cy="586.51" r="2.9" fill="#e0301e"/>
<circle cx="575.92" cy="578.99" r="2.9" fill="#e0301e"/>
<circle cx="579.84" cy="576.63" r="2.9" fill="#e0301e"/>
<circle cx="584.36" cy="575.09" r="2.9" fill="#e0301e"/>
<circle cx="586.17" cy="574.7" r="2.9" fill="#e0301e"/>
<circle cx="587.98" cy="574.44" r="2.9" fill="#e0301e"/>
<circle cx="589.78" cy="574.17" r="2.9" fill="#e0301e"/>
<circle cx="591.59" cy="573.9" r="2.9" fill="#e0301e"/>
<circle cx="593.4" cy="573.64" r="2.9" fill="#e0301e"/>
<circle cx="595.21" cy="573.37" r="2.9" fill="#e0301e"/>
<circle cx="597.01" cy="573.1" r="2.9" fill="#e0301e"/>
<circle cx="598.82" cy="572.83" r="2.9" fill="#e0301e"/>
<circle cx="600.63" cy="572.57" r="2.9" fill="#e0301e"/>
<circle cx="607.26" cy="570.91" r="2.9" fill="#e0301e"/>
<circle cx="614.49" cy="569.07" r="2.9" fill="#e0301e"/>
<circle cx="619.31" cy="567.8" r="2.9" fill="#e0301e"/>
<circle cx="625.94" cy="566.04" r="2.9" fill="#e0301e"/>
<circle cx="632.57" cy="564.28" r="2.9" fill="#e0301e"/>
<circle cx="637.99" cy="562.57" r="2.9" fill="#e0301e"/>
<circle cx="642.81" cy="561" r="2.9" fill="#e0301e"/>
<circle cx="648.24" cy="559.09" r="2.9" fill="#e0301e"/>
<circle cx="654.56" cy="556.64" r="2.9" fill="#e0301e"/>
</g>
<rect x="566.5" y="516.9" width="114.3" height="84.3" fill="none" stroke="#333" stroke-width="1.1" />
<text x="550" y="555.2" font-size="8.8" text-anchor="middle" dominant-baseline="central" fill="#111" transform="rotate(-90 550 555.2)" >FN BMD</text>
<line x1="565" y1="537.3" x2="566.5" y2="537.3" stroke="#333" stroke-width="0.7" />
<text x="564" y="537.3" font-size="3.8" text-anchor="end" dominant-baseline="central" fill="#555" >1.00</text>
<line x1="565" y1="559.2" x2="566.5" y2="559.2" stroke="#333" stroke-width="0.7" />
<text x="564" y="559.2" font-size="3.8" text-anchor="end" dominant-baseline="central" fill="#555" >0.75</text>
<line x1="565" y1="581" x2="566.5" y2="581" stroke="#333" stroke-width="0.7" />
<text x="564" y="581" font-size="3.8" text-anchor="end" dominant-baseline="central" fill="#555" >0.50</text>
<line x1="570.5" y1="601.2" x2="570.5" y2="602.7" stroke="#333" stroke-width="0.7" />
<text x="570.5" y="605.6" font-size="3.8" text-anchor="middle" dominant-baseline="central" fill="#555" >0</text>
<line x1="600.8" y1="601.2" x2="600.8" y2="602.7" stroke="#333" stroke-width="0.7" />
<text x="600.8" y="605.6" font-size="3.8" text-anchor="middle" dominant-baseline="central" fill="#555" >100</text>
<line x1="630.9" y1="601.2" x2="630.9" y2="602.7" stroke="#333" stroke-width="0.7" />
<text x="630.9" y="605.6" font-size="3.8" text-anchor="middle" dominant-baseline="central" fill="#555" >200</text>
<line x1="660.8" y1="601.2" x2="660.8" y2="602.7" stroke="#333" stroke-width="0.7" />
<text x="660.8" y="605.6" font-size="3.8" text-anchor="middle" dominant-baseline="central" fill="#555" >300</text>
<text x="628.5" y="611.4" font-size="5.3" text-anchor="middle" dominant-baseline="central" fill="#333" >Individuals from ALL population</text>
<text x="579.3" y="531.6" font-size="5.6" dominant-baseline="central" fill="#222" >AUC=0.67</text>
<circle cx="613.6" cy="589" r="2.6" fill="#d0d0d0"/><circle cx="613.6" cy="597.2" r="2.6" fill="#e0301e"/>
<text x="618.9" y="589.1" font-size="4.25" dominant-baseline="central" fill="#222" >Individual without fracture event</text>
<text x="618.9" y="597.3" font-size="4.25" dominant-baseline="central" fill="#222" >Individual with fracture event</text>
<clipPath id="hc2"><rect x="699.4" y="516.9" width="116.80000000000007" height="83.89999999999998"/></clipPath><g clip-path="url(#hc2)">
<circle cx="704.03" cy="597.81" r="2.9" fill="#d0d0d0"/>
<circle cx="705.06" cy="595.03" r="2.9" fill="#d0d0d0"/>
<circle cx="706.08" cy="592.25" r="2.9" fill="#d0d0d0"/>
<circle cx="707.11" cy="588.27" r="2.9" fill="#d0d0d0"/>
<circle cx="708.14" cy="584.29" r="2.9" fill="#d0d0d0"/>
<circle cx="709.17" cy="582.44" r="2.9" fill="#d0d0d0"/>
<circle cx="710.2" cy="580.58" r="2.9" fill="#d0d0d0"/>
<circle cx="711.22" cy="578.73" r="2.9" fill="#d0d0d0"/>
<circle cx="713.28" cy="575.55" r="2.9" fill="#d0d0d0"/>
<circle cx="714.31" cy="573.96" r="2.9" fill="#d0d0d0"/>
<circle cx="715.34" cy="572.9" r="2.9" fill="#d0d0d0"/>
<circle cx="716.36" cy="571.84" r="2.9" fill="#d0d0d0"/>
<circle cx="717.39" cy="570.78" r="2.9" fill="#d0d0d0"/>
<circle cx="718.42" cy="570.14" r="2.9" fill="#d0d0d0"/>
<circle cx="719.45" cy="569.51" r="2.9" fill="#d0d0d0"/>
<circle cx="721.5" cy="568.46" r="2.9" fill="#d0d0d0"/>
<circle cx="722.53" cy="568.05" r="2.9" fill="#d0d0d0"/>
<circle cx="723.56" cy="567.63" r="2.9" fill="#d0d0d0"/>
<circle cx="724.59" cy="567.22" r="2.9" fill="#d0d0d0"/>
<circle cx="726.64" cy="566.51" r="2.9" fill="#d0d0d0"/>
<circle cx="727.67" cy="566.21" r="2.9" fill="#d0d0d0"/>
<circle cx="729.73" cy="565.61" r="2.9" fill="#d0d0d0"/>
<circle cx="730.76" cy="565.31" r="2.9" fill="#d0d0d0"/>
<circle cx="731.78" cy="565.02" r="2.9" fill="#d0d0d0"/>
<circle cx="732.81" cy="564.72" r="2.9" fill="#d0d0d0"/>
<circle cx="733.84" cy="564.42" r="2.9" fill="#d0d0d0"/>
<circle cx="734.87" cy="564.02" r="2.9" fill="#d0d0d0"/>
<circle cx="735.9" cy="563.62" r="2.9" fill="#d0d0d0"/>
<circle cx="736.92" cy="563.23" r="2.9" fill="#d0d0d0"/>
<circle cx="737.95" cy="562.83" r="2.9" fill="#d0d0d0"/>
<circle cx="738.98" cy="562.43" r="2.9" fill="#d0d0d0"/>
<circle cx="740.01" cy="562.03" r="2.9" fill="#d0d0d0"/>
<circle cx="741.04" cy="561.64" r="2.9" fill="#d0d0d0"/>
<circle cx="742.06" cy="561.24" r="2.9" fill="#d0d0d0"/>
<circle cx="743.09" cy="560.85" r="2.9" fill="#d0d0d0"/>
<circle cx="744.12" cy="560.47" r="2.9" fill="#d0d0d0"/>
<circle cx="745.15" cy="560.08" r="2.9" fill="#d0d0d0"/>
<circle cx="746.18" cy="559.7" r="2.9" fill="#d0d0d0"/>
<circle cx="748.23" cy="558.92" r="2.9" fill="#d0d0d0"/>
<circle cx="749.26" cy="558.54" r="2.9" fill="#d0d0d0"/>
<circle cx="750.29" cy="558.25" r="2.9" fill="#d0d0d0"/>
<circle cx="751.32" cy="557.96" r="2.9" fill="#d0d0d0"/>
<circle cx="752.34" cy="557.68" r="2.9" fill="#d0d0d0"/>
<circle cx="754.4" cy="557.11" r="2.9" fill="#d0d0d0"/>
<circle cx="755.43" cy="556.82" r="2.9" fill="#d0d0d0"/>
<circle cx="756.46" cy="556.53" r="2.9" fill="#d0d0d0"/>
<circle cx="757.48" cy="556.25" r="2.9" fill="#d0d0d0"/>
<circle cx="758.51" cy="555.96" r="2.9" fill="#d0d0d0"/>
<circle cx="760.57" cy="555.36" r="2.9" fill="#d0d0d0"/>
<circle cx="762.62" cy="554.72" r="2.9" fill="#d0d0d0"/>
<circle cx="763.65" cy="554.4" r="2.9" fill="#d0d0d0"/>
<circle cx="765.71" cy="553.69" r="2.9" fill="#d0d0d0"/>
<circle cx="766.74" cy="553.29" r="2.9" fill="#d0d0d0"/>
<circle cx="767.76" cy="552.89" r="2.9" fill="#d0d0d0"/>
<circle cx="768.79" cy="552.5" r="2.9" fill="#d0d0d0"/>
<circle cx="769.82" cy="552.1" r="2.9" fill="#d0d0d0"/>
<circle cx="770.85" cy="551.7" r="2.9" fill="#d0d0d0"/>
<circle cx="771.88" cy="551.3" r="2.9" fill="#d0d0d0"/>
<circle cx="772.9" cy="550.9" r="2.9" fill="#d0d0d0"/>
<circle cx="773.93" cy="550.61" r="2.9" fill="#d0d0d0"/>
<circle cx="774.96" cy="550.31" r="2.9" fill="#d0d0d0"/>
<circle cx="775.99" cy="550.01" r="2.9" fill="#d0d0d0"/>
<circle cx="777.02" cy="549.71" r="2.9" fill="#d0d0d0"/>
<circle cx="778.04" cy="549.41" r="2.9" fill="#d0d0d0"/>
<circle cx="779.07" cy="549.12" r="2.9" fill="#d0d0d0"/>
<circle cx="780.1" cy="548.82" r="2.9" fill="#d0d0d0"/>
<circle cx="782.16" cy="548.12" r="2.9" fill="#d0d0d0"/>
<circle cx="783.18" cy="547.73" r="2.9" fill="#d0d0d0"/>
<circle cx="784.21" cy="547.33" r="2.9" fill="#d0d0d0"/>
<circle cx="785.24" cy="546.93" r="2.9" fill="#d0d0d0"/>
<circle cx="786.27" cy="546.53" r="2.9" fill="#d0d0d0"/>
<circle cx="787.3" cy="546.13" r="2.9" fill="#d0d0d0"/>
<circle cx="788.32" cy="545.74" r="2.9" fill="#d0d0d0"/>
<circle cx="790.38" cy="544.94" r="2.9" fill="#d0d0d0"/>
<circle cx="791.41" cy="544.54" r="2.9" fill="#d0d0d0"/>
<circle cx="793.46" cy="543.75" r="2.9" fill="#d0d0d0"/>
<circle cx="794.49" cy="543.35" r="2.9" fill="#d0d0d0"/>
<circle cx="795.52" cy="542.95" r="2.9" fill="#d0d0d0"/>
<circle cx="796.55" cy="542.32" r="2.9" fill="#d0d0d0"/>
<circle cx="797.58" cy="541.68" r="2.9" fill="#d0d0d0"/>
<circle cx="798.6" cy="541.05" r="2.9" fill="#d0d0d0"/>
<circle cx="800.66" cy="539.77" r="2.9" fill="#d0d0d0"/>
<circle cx="801.69" cy="538.78" r="2.9" fill="#d0d0d0"/>
<circle cx="802.72" cy="537.79" r="2.9" fill="#d0d0d0"/>
<circle cx="803.74" cy="536.79" r="2.9" fill="#d0d0d0"/>
<circle cx="804.77" cy="535.8" r="2.9" fill="#d0d0d0"/>
<circle cx="805.8" cy="534.48" r="2.9" fill="#d0d0d0"/>
<circle cx="806.83" cy="533.15" r="2.9" fill="#d0d0d0"/>
<circle cx="807.86" cy="531.82" r="2.9" fill="#d0d0d0"/>
<circle cx="809.91" cy="528.64" r="2.9" fill="#d0d0d0"/>
<circle cx="810.94" cy="520.69" r="2.9" fill="#d0d0d0"/>
<circle cx="712.25" cy="577.14" r="2.9" fill="#3350a8"/>
<circle cx="720.48" cy="568.87" r="2.9" fill="#3350a8"/>
<circle cx="725.62" cy="566.8" r="2.9" fill="#3350a8"/>
<circle cx="728.7" cy="565.91" r="2.9" fill="#3350a8"/>
<circle cx="747.2" cy="559.31" r="2.9" fill="#3350a8"/>
<circle cx="753.37" cy="557.39" r="2.9" fill="#3350a8"/>
<circle cx="759.54" cy="555.67" r="2.9" fill="#3350a8"/>
<circle cx="761.6" cy="555.04" r="2.9" fill="#3350a8"/>
<circle cx="764.68" cy="554.09" r="2.9" fill="#3350a8"/>
<circle cx="781.13" cy="548.52" r="2.9" fill="#3350a8"/>
<circle cx="789.35" cy="545.34" r="2.9" fill="#3350a8"/>
<circle cx="792.44" cy="544.15" r="2.9" fill="#3350a8"/>
<circle cx="799.63" cy="540.41" r="2.9" fill="#3350a8"/>
<circle cx="808.88" cy="530.24" r="2.9" fill="#3350a8"/>
</g>
<rect x="699.4" y="516.9" width="116.8" height="83.9" fill="none" stroke="#333" stroke-width="1.1" />
<line x1="697.9" y1="520" x2="699.4" y2="520" stroke="#333" stroke-width="0.7" />
<text x="696.9" y="520" font-size="3.8" text-anchor="end" dominant-baseline="central" fill="#555" >0.8</text>
<line x1="697.9" y1="535.9" x2="699.4" y2="535.9" stroke="#333" stroke-width="0.7" />
<text x="696.9" y="535.9" font-size="3.8" text-anchor="end" dominant-baseline="central" fill="#555" >0.7</text>
<line x1="697.9" y1="551.8" x2="699.4" y2="551.8" stroke="#333" stroke-width="0.7" />
<text x="696.9" y="551.8" font-size="3.8" text-anchor="end" dominant-baseline="central" fill="#555" >0.6</text>
<line x1="697.9" y1="567.6" x2="699.4" y2="567.6" stroke="#333" stroke-width="0.7" />
<text x="696.9" y="567.6" font-size="3.8" text-anchor="end" dominant-baseline="central" fill="#555" >0.5</text>
<line x1="697.9" y1="583.5" x2="699.4" y2="583.5" stroke="#333" stroke-width="0.7" />
<text x="696.9" y="583.5" font-size="3.8" text-anchor="end" dominant-baseline="central" fill="#555" >0.4</text>
<line x1="697.9" y1="599.4" x2="699.4" y2="599.4" stroke="#333" stroke-width="0.7" />
<text x="696.9" y="599.4" font-size="3.8" text-anchor="end" dominant-baseline="central" fill="#555" >0.3</text>
<line x1="703" y1="600.8" x2="703" y2="602.3" stroke="#333" stroke-width="0.7" />
<text x="703" y="605.6" font-size="3.8" text-anchor="middle" dominant-baseline="central" fill="#555" >0</text>
<line x1="728.8" y1="600.8" x2="728.8" y2="602.3" stroke="#333" stroke-width="0.7" />
<text x="728.8" y="605.6" font-size="3.8" text-anchor="middle" dominant-baseline="central" fill="#555" >25</text>
<line x1="754.5" y1="600.8" x2="754.5" y2="602.3" stroke="#333" stroke-width="0.7" />
<text x="754.5" y="605.6" font-size="3.8" text-anchor="middle" dominant-baseline="central" fill="#555" >50</text>
<line x1="780" y1="600.8" x2="780" y2="602.3" stroke="#333" stroke-width="0.7" />
<text x="780" y="605.6" font-size="3.8" text-anchor="middle" dominant-baseline="central" fill="#555" >75</text>
<line x1="805.8" y1="600.8" x2="805.8" y2="602.3" stroke="#333" stroke-width="0.7" />
<text x="805.8" y="605.6" font-size="3.8" text-anchor="middle" dominant-baseline="central" fill="#555" >100</text>
<text x="760.5" y="611.4" font-size="5.3" text-anchor="middle" dominant-baseline="central" fill="#333" >Individuals from OP population</text>
<text x="713" y="531.6" font-size="5.6" dominant-baseline="central" fill="#222" >AUC=0.53</text>
<circle cx="749" cy="589" r="2.6" fill="#d0d0d0"/><circle cx="749" cy="597.2" r="2.6" fill="#3350a8"/>
<text x="754.5" y="589.1" font-size="4.25" dominant-baseline="central" fill="#222" >Individual without fracture event</text>
<text x="754.5" y="597.3" font-size="4.25" dominant-baseline="central" fill="#222" >Individual with fracture event</text>
</g>
<g id="pi">
<text x="3.5" y="650" font-size="16" font-weight="bold" fill="#111" >i</text>
<rect x="48.9" y="681.7" width="22.3" height="163.8" fill="#f97f7a" />
<rect x="71.2" y="768.9" width="22.2" height="76.6" fill="#57c8c9" />
<rect x="98.5" y="678.4" width="22.3" height="167.1" fill="#f97f7a" />
<rect x="120.8" y="759.8" width="22.3" height="85.7" fill="#57c8c9" />
<rect x="147.8" y="780.6" width="22.6" height="64.9" fill="#f97f7a" />
<rect x="170.4" y="794.5" width="22.3" height="51" fill="#57c8c9" />
<rect x="197.4" y="719.3" width="22.6" height="126.2" fill="#f97f7a" />
<rect x="220" y="763.8" width="22.7" height="81.7" fill="#57c8c9" />
<rect x="41.6" y="649.2" width="208" height="196.3" fill="none" stroke="#444" stroke-width="1" />
<line x1="38.6" y1="658.3" x2="41.6" y2="658.3" stroke="#444" stroke-width="1" />
<text x="36.6" y="658.5" font-size="10.4" text-anchor="end" dominant-baseline="central" fill="#4d4d4d" >0.7</text>
<line x1="38.6" y1="718.2" x2="41.6" y2="718.2" stroke="#444" stroke-width="1" />
<text x="36.6" y="718.4" font-size="10.4" text-anchor="end" dominant-baseline="central" fill="#4d4d4d" >0.6</text>
<line x1="38.6" y1="778" x2="41.6" y2="778" stroke="#444" stroke-width="1" />
<text x="36.6" y="778.2" font-size="10.4" text-anchor="end" dominant-baseline="central" fill="#4d4d4d" >0.5</text>
<line x1="38.6" y1="837.9" x2="41.6" y2="837.9" stroke="#444" stroke-width="1" />
<text x="36.6" y="838.1" font-size="10.4" text-anchor="end" dominant-baseline="central" fill="#4d4d4d" >0.4</text>
<text x="12.8" y="747.7" font-size="11.6" text-anchor="middle" dominant-baseline="central" fill="#111" transform="rotate(-90 12.8 747.7)" >AUC</text>
<line x1="71.2" y1="845.5" x2="71.2" y2="848.5" stroke="#444" stroke-width="1" />
<text transform="translate(76.4 854.8) rotate(-45)" font-size="10.1" text-anchor="end" fill="#4d4d4d">Age</text>
<line x1="120.8" y1="845.5" x2="120.8" y2="848.5" stroke="#444" stroke-width="1" />
<text transform="translate(126 854.8) rotate(-45)" font-size="10.1" text-anchor="end" fill="#4d4d4d">FN BMD</text>
<line x1="170.4" y1="845.5" x2="170.4" y2="848.5" stroke="#444" stroke-width="1" />
<text transform="translate(175.6 854.8) rotate(-45)" font-size="10.1" text-anchor="end" fill="#4d4d4d">Gender</text>
<line x1="220" y1="845.5" x2="220" y2="848.5" stroke="#444" stroke-width="1" />
<text transform="translate(225.2 854.8) rotate(-45)" font-size="10.1" text-anchor="end" fill="#4d4d4d">Prior fracture</text>
<rect x="208.4" y="663" width="17.1" height="17.2" fill="#f97f7a" />
<rect x="208.4" y="682.4" width="17.1" height="17.2" fill="#57c8c9" />
<text x="229.2" y="671.6" font-size="10.1" dominant-baseline="central" fill="#111" >ALL</text>
<text x="229.2" y="691" font-size="10.1" dominant-baseline="central" fill="#111" >OP</text>
<text x="3.5" y="913" font-size="16" font-weight="bold" fill="#111" >k</text>
<text x="151.5" y="911.4" font-size="11.05" text-anchor="middle" dominant-baseline="central" fill="#111" >Performance of a composite index</text>
<text x="151.5" y="923.5" font-size="8.3" text-anchor="middle" dominant-baseline="central" fill="#111" >(cg15320980 &amp; cg18249968 &amp; cg15508935 &amp; cg23088318)</text>
<rect x="55.5" y="942.6" width="21.9" height="112" fill="#f97f7a" />
<rect x="77.4" y="939.7" width="21.9" height="114.9" fill="#7dab22" />
<rect x="99.3" y="940.8" width="21.9" height="113.8" fill="#57c8c9" />
<rect x="121.2" y="941.5" width="21.9" height="113.1" fill="#b27fd8" />
<rect x="152.9" y="956.5" width="21.9" height="98.1" fill="#f97f7a" />
<rect x="174.8" y="966" width="21.9" height="88.6" fill="#7dab22" />
<rect x="196.7" y="954.7" width="21.9" height="99.9" fill="#57c8c9" />
<rect x="218.6" y="950.7" width="21.9" height="103.9" fill="#b27fd8" />
<rect x="41.2" y="932" width="213.5" height="122.6" fill="none" stroke="#444" stroke-width="1" />
<line x1="38.2" y1="951.4" x2="41.2" y2="951.4" stroke="#444" stroke-width="1" />
<text x="36" y="951.6" font-size="10.4" text-anchor="end" dominant-baseline="central" fill="#4d4d4d" >0.7</text>
<line x1="38.2" y1="984.2" x2="41.2" y2="984.2" stroke="#444" stroke-width="1" />
<text x="36" y="984.4" font-size="10.4" text-anchor="end" dominant-baseline="central" fill="#4d4d4d" >0.6</text>
<line x1="38.2" y1="1016.6" x2="41.2" y2="1016.6" stroke="#444" stroke-width="1" />
<text x="36" y="1016.8" font-size="10.4" text-anchor="end" dominant-baseline="central" fill="#4d4d4d" >0.5</text>
<line x1="38.2" y1="1048.8" x2="41.2" y2="1048.8" stroke="#444" stroke-width="1" />
<text x="36" y="1049" font-size="10.4" text-anchor="end" dominant-baseline="central" fill="#4d4d4d" >0.4</text>
<text x="11" y="991" font-size="12" text-anchor="middle" dominant-baseline="central" fill="#111" transform="rotate(-90 11 991)" >AUC</text>
<line x1="99.3" y1="1054.6" x2="99.3" y2="1057.6" stroke="#444" stroke-width="1" />
<text x="99.3" y="1065" font-size="10.65" text-anchor="middle" dominant-baseline="central" fill="#333" >CCCO (discovery)</text>
<line x1="196.7" y1="1054.6" x2="196.7" y2="1057.6" stroke="#444" stroke-width="1" />
<text x="196.7" y="1065" font-size="10.65" text-anchor="middle" dominant-baseline="central" fill="#333" >Jinshan (validation)</text>
<rect x="248.2" y="936" width="10.6" height="11" fill="#f97f7a" />
<text x="263.5" y="941.6" font-size="6.4" dominant-baseline="central" fill="#111" >Original</text>
<rect x="248.2" y="948.2" width="10.6" height="11" fill="#7dab22" />
<text x="263.5" y="953.8" font-size="6.4" dominant-baseline="central" fill="#111" >Adjustment I</text>
<rect x="248.2" y="960.4" width="10.6" height="11" fill="#57c8c9" />
<text x="263.5" y="966" font-size="6.4" dominant-baseline="central" fill="#111" >Adjustment II</text>
<rect x="248.2" y="972.6" width="10.6" height="11" fill="#b27fd8" />
<text x="263.5" y="978.2" font-size="6.4" dominant-baseline="central" fill="#111" >Adjustment III</text>
<rect x="71.2" y="1105.3" width="243.8" height="48" fill="#fff" stroke="#222" stroke-width="1.1" />
<text x="73.7" y="1113.5" font-size="8.25" dominant-baseline="central" fill="#111" >Adjustment I: adjusted with age+gender</text>
<text x="73.7" y="1128.7" font-size="8.25" dominant-baseline="central" fill="#111" >Adjustment II: adjusted with age+gender+prior fracture</text>
<text x="73.7" y="1143.9" font-size="8.25" dominant-baseline="central" fill="#111" >Adjustment III: adjusted with age+gender+prior fracture+FN BMD</text>
</g>
<g id="pj">
<text x="302" y="650.5" font-size="16" font-weight="bold" fill="#111" >j</text>
<rect x="353.4" y="640" width="149" height="14.5" fill="#cdde32" />
<rect x="502.4" y="640" width="148.4" height="14.5" fill="#d86eb6" />
<text x="427.9" y="647.9" font-size="12.4" text-anchor="middle" font-weight="bold" dominant-baseline="central" fill="#fff" >ALL</text>
<text x="576.9" y="647.9" font-size="12.4" text-anchor="middle" font-weight="bold" dominant-baseline="central" fill="#fff" >OP</text>
<g font-size="8.8" text-anchor="middle" fill="#444">
<rect x="354" y="657.6" width="36.05" height="12.66" fill="#c1ddea"/>
<text x="372.02" y="667.33">0.47</text>
<rect x="391.25" y="657.6" width="36.05" height="12.66" fill="#c1ddea"/>
<text x="409.27" y="667.33">0.47</text>
<rect x="428.5" y="657.6" width="36.05" height="12.66" fill="#d0e7f0"/>
<text x="446.52" y="667.33">0.48</text>
<rect x="465.75" y="657.6" width="36.05" height="12.66" fill="#c1ddea"/>
<text x="483.77" y="667.33">0.47</text>
<rect x="503" y="657.6" width="36.05" height="12.66" fill="#fa9561"/>
<text x="521.02" y="667.33">0.65</text>
<rect x="540.25" y="657.6" width="36.05" height="12.66" fill="#fba46b"/>
<text x="558.27" y="667.33">0.64</text>
<rect x="577.5" y="657.6" width="36.05" height="12.66" fill="#fbb275"/>
<text x="595.52" y="667.33">0.63</text>
<rect x="614.75" y="657.6" width="36.05" height="12.66" fill="#fa9561"/>
<text x="632.77" y="667.33">0.65</text>
<rect x="354" y="671.46" width="36.05" height="12.66" fill="#fdeeab"/>
<text x="372.02" y="681.18">0.57</text>
<rect x="391.25" y="671.46" width="36.05" height="12.66" fill="#b3d4e5"/>
<text x="409.27" y="681.18">0.46</text>
<rect x="428.5" y="671.46" width="36.05" height="12.66" fill="#b3d4e5"/>
<text x="446.52" y="681.18">0.46</text>
<rect x="465.75" y="671.46" width="36.05" height="12.66" fill="#b3d4e5"/>
<text x="483.77" y="681.18">0.46</text>
<rect x="503" y="671.46" width="36.05" height="12.66" fill="#d03228"/>
<text x="521.02" y="681.18">0.71</text>
<rect x="540.25" y="671.46" width="36.05" height="12.66" fill="#df533b"/>
<text x="558.27" y="681.18">0.69</text>
<rect x="577.5" y="671.46" width="36.05" height="12.66" fill="#df533b"/>
<text x="595.52" y="681.18">0.69</text>
<rect x="614.75" y="671.46" width="36.05" height="12.66" fill="#df533b"/>
<text x="632.77" y="681.18">0.69</text>
<rect x="354" y="685.31" width="36.05" height="12.66" fill="#fcde92"/>
<text x="372.02" y="695.04">0.60</text>
<rect x="391.25" y="685.31" width="36.05" height="12.66" fill="#fbc17e"/>
<text x="409.27" y="695.04">0.62</text>
<rect x="428.5" y="685.31" width="36.05" height="12.66" fill="#fbc17e"/>
<text x="446.52" y="695.04">0.62</text>
<rect x="465.75" y="685.31" width="36.05" height="12.66" fill="#fbb275"/>
<text x="483.77" y="695.04">0.63</text>
<rect x="503" y="685.31" width="36.05" height="12.66" fill="#fbb275"/>
<text x="521.02" y="695.04">0.63</text>
<rect x="540.25" y="685.31" width="36.05" height="12.66" fill="#fbc17e"/>
<text x="558.27" y="695.04">0.62</text>
<rect x="577.5" y="685.31" width="36.05" height="12.66" fill="#fbc17e"/>
<text x="595.52" y="695.04">0.62</text>
<rect x="614.75" y="685.31" width="36.05" height="12.66" fill="#fbb275"/>
<text x="632.77" y="695.04">0.63</text>
<rect x="354" y="699.17" width="36.05" height="12.66" fill="#fccf88"/>
<text x="372.02" y="708.9">0.61</text>
<rect x="391.25" y="699.17" width="36.05" height="12.66" fill="#fce39a"/>
<text x="409.27" y="708.9">0.59</text>
<rect x="428.5" y="699.17" width="36.05" height="12.66" fill="#fce39a"/>
<text x="446.52" y="708.9">0.59</text>
<rect x="465.75" y="699.17" width="36.05" height="12.66" fill="#fce39a"/>
<text x="483.77" y="708.9">0.59</text>
<rect x="503" y="699.17" width="36.05" height="12.66" fill="#fce9a3"/>
<text x="521.02" y="708.9">0.58</text>
<rect x="540.25" y="699.17" width="36.05" height="12.66" fill="#fdeeab"/>
<text x="558.27" y="708.9">0.57</text>
<rect x="577.5" y="699.17" width="36.05" height="12.66" fill="#fdf4b3"/>
<text x="595.52" y="708.9">0.56</text>
<rect x="614.75" y="699.17" width="36.05" height="12.66" fill="#fdeeab"/>
<text x="632.77" y="708.9">0.57</text>
<rect x="354" y="713.02" width="36.05" height="12.66" fill="#fcde92"/>
<text x="372.02" y="722.75">0.60</text>
<rect x="391.25" y="713.02" width="36.05" height="12.66" fill="#fce9a3"/>
<text x="409.27" y="722.75">0.58</text>
<rect x="428.5" y="713.02" width="36.05" height="12.66" fill="#fdeeab"/>
<text x="446.52" y="722.75">0.57</text>
<rect x="465.75" y="713.02" width="36.05" height="12.66" fill="#fdeeab"/>
<text x="483.77" y="722.75">0.57</text>
<rect x="503" y="713.02" width="36.05" height="12.66" fill="#fbb275"/>
<text x="521.02" y="722.75">0.63</text>
<rect x="540.25" y="713.02" width="36.05" height="12.66" fill="#fdeeab"/>
<text x="558.27" y="722.75">0.57</text>
<rect x="577.5" y="713.02" width="36.05" height="12.66" fill="#fdeeab"/>
<text x="595.52" y="722.75">0.57</text>
<rect x="614.75" y="713.02" width="36.05" height="12.66" fill="#fce9a3"/>
<text x="632.77" y="722.75">0.58</text>
<rect x="354" y="726.88" width="36.05" height="12.66" fill="#fdf4b3"/>
<text x="372.02" y="736.61">0.56</text>
<rect x="391.25" y="726.88" width="36.05" height="12.66" fill="#fafbc5"/>
<text x="409.27" y="736.61">0.54</text>
<rect x="428.5" y="726.88" width="36.05" height="12.66" fill="#fafbc5"/>
<text x="446.52" y="736.61">0.54</text>
<rect x="465.75" y="726.88" width="36.05" height="12.66" fill="#fafbc5"/>
<text x="483.77" y="736.61">0.54</text>
<rect x="503" y="726.88" width="36.05" height="12.66" fill="#fbb275"/>
<text x="521.02" y="736.61">0.63</text>
<rect x="540.25" y="726.88" width="36.05" height="12.66" fill="#fccf88"/>
<text x="558.27" y="736.61">0.61</text>
<rect x="577.5" y="726.88" width="36.05" height="12.66" fill="#fbb275"/>
<text x="595.52" y="736.61">0.63</text>
<rect x="614.75" y="726.88" width="36.05" height="12.66" fill="#fbb275"/>
<text x="632.77" y="736.61">0.63</text>
<rect x="354" y="740.74" width="36.05" height="12.66" fill="#e9f4e2"/>
<text x="372.02" y="750.46">0.51</text>
<rect x="391.25" y="740.74" width="36.05" height="12.66" fill="#eff7d8"/>
<text x="409.27" y="750.46">0.52</text>
<rect x="428.5" y="740.74" width="36.05" height="12.66" fill="#f5f9ce"/>
<text x="446.52" y="750.46">0.53</text>
<rect x="465.75" y="740.74" width="36.05" height="12.66" fill="#f5f9ce"/>
<text x="483.77" y="750.46">0.53</text>
<rect x="503" y="740.74" width="36.05" height="12.66" fill="#fbc17e"/>
<text x="521.02" y="750.46">0.62</text>
<rect x="540.25" y="740.74" width="36.05" height="12.66" fill="#fccf88"/>
<text x="558.27" y="750.46">0.61</text>
<rect x="577.5" y="740.74" width="36.05" height="12.66" fill="#fccf88"/>
<text x="595.52" y="750.46">0.61</text>
<rect x="614.75" y="740.74" width="36.05" height="12.66" fill="#fcde92"/>
<text x="632.77" y="750.46">0.60</text>
<rect x="354" y="754.59" width="36.05" height="12.66" fill="#c1ddea"/>
<text x="372.02" y="764.32">0.47</text>
<rect x="391.25" y="754.59" width="36.05" height="12.66" fill="#eff7d8"/>
<text x="409.27" y="764.32">0.52</text>
<rect x="428.5" y="754.59" width="36.05" height="12.66" fill="#e9f4e2"/>
<text x="446.52" y="764.32">0.51</text>
<rect x="465.75" y="754.59" width="36.05" height="12.66" fill="#fcde92"/>
<text x="483.77" y="764.32">0.60</text>
<rect x="503" y="754.59" width="36.05" height="12.66" fill="#fce9a3"/>
<text x="521.02" y="764.32">0.58</text>
<rect x="540.25" y="754.59" width="36.05" height="12.66" fill="#fce39a"/>
<text x="558.27" y="764.32">0.59</text>
<rect x="577.5" y="754.59" width="36.05" height="12.66" fill="#fccf88"/>
<text x="595.52" y="764.32">0.61</text>
<rect x="614.75" y="754.59" width="36.05" height="12.66" fill="#fce9a3"/>
<text x="632.77" y="764.32">0.58</text>
<rect x="354" y="768.45" width="36.05" height="12.66" fill="#eff7d8"/>
<text x="372.02" y="778.18">0.52</text>
<rect x="391.25" y="768.45" width="36.05" height="12.66" fill="#fdeeab"/>
<text x="409.27" y="778.18">0.57</text>
<rect x="428.5" y="768.45" width="36.05" height="12.66" fill="#fdf4b3"/>
<text x="446.52" y="778.18">0.56</text>
<rect x="465.75" y="768.45" width="36.05" height="12.66" fill="#fdeeab"/>
<text x="483.77" y="778.18">0.57</text>
<rect x="503" y="768.45" width="36.05" height="12.66" fill="#fce39a"/>
<text x="521.02" y="778.18">0.59</text>
<rect x="540.25" y="768.45" width="36.05" height="12.66" fill="#fce39a"/>
<text x="558.27" y="778.18">0.59</text>
<rect x="577.5" y="768.45" width="36.05" height="12.66" fill="#fce39a"/>
<text x="595.52" y="778.18">0.59</text>
<rect x="614.75" y="768.45" width="36.05" height="12.66" fill="#fce39a"/>
<text x="632.77" y="778.18">0.59</text>
<rect x="354" y="782.3" width="36.05" height="12.66" fill="#def0f5"/>
<text x="372.02" y="792.03">0.49</text>
<rect x="391.25" y="782.3" width="36.05" height="12.66" fill="#fbc17e"/>
<text x="409.27" y="792.03">0.62</text>
<rect x="428.5" y="782.3" width="36.05" height="12.66" fill="#fbb275"/>
<text x="446.52" y="792.03">0.63</text>
<rect x="465.75" y="782.3" width="36.05" height="12.66" fill="#e76444"/>
<text x="483.77" y="792.03">0.68</text>
<rect x="503" y="782.3" width="36.05" height="12.66" fill="#5282bb"/>
<text x="521.02" y="792.03">0.39</text>
<rect x="540.25" y="782.3" width="36.05" height="12.66" fill="#ef754e"/>
<text x="558.27" y="792.03">0.67</text>
<rect x="577.5" y="782.3" width="36.05" height="12.66" fill="#df533b"/>
<text x="595.52" y="792.03">0.69</text>
<rect x="614.75" y="782.3" width="36.05" height="12.66" fill="#fa9561"/>
<text x="632.77" y="792.03">0.65</text>
<rect x="354" y="796.16" width="36.05" height="12.66" fill="#b3d4e5"/>
<text x="372.02" y="805.89">0.46</text>
<rect x="391.25" y="796.16" width="36.05" height="12.66" fill="#fba46b"/>
<text x="409.27" y="805.89">0.64</text>
<rect x="428.5" y="796.16" width="36.05" height="12.66" fill="#f68657"/>
<text x="446.52" y="805.89">0.66</text>
<rect x="465.75" y="796.16" width="36.05" height="12.66" fill="#e76444"/>
<text x="483.77" y="805.89">0.68</text>
<rect x="503" y="796.16" width="36.05" height="12.66" fill="#4575b4"/>
<text x="521.02" y="805.89">0.38</text>
<rect x="540.25" y="796.16" width="36.05" height="12.66" fill="#fccf88"/>
<text x="558.27" y="805.89">0.61</text>
<rect x="577.5" y="796.16" width="36.05" height="12.66" fill="#f68657"/>
<text x="595.52" y="805.89">0.66</text>
<rect x="614.75" y="796.16" width="36.05" height="12.66" fill="#fba46b"/>
<text x="632.77" y="805.89">0.64</text>
<rect x="354" y="810.02" width="36.05" height="12.66" fill="#fdf9bc"/>
<text x="372.02" y="819.74">0.55</text>
<rect x="391.25" y="810.02" width="36.05" height="12.66" fill="#f5f9ce"/>
<text x="409.27" y="819.74">0.53</text>
<rect x="428.5" y="810.02" width="36.05" height="12.66" fill="#eff7d8"/>
<text x="446.52" y="819.74">0.52</text>
<rect x="465.75" y="810.02" width="36.05" height="12.66" fill="#eff7d8"/>
<text x="483.77" y="819.74">0.52</text>
<rect x="503" y="810.02" width="36.05" height="12.66" fill="#fdf9bc"/>
<text x="521.02" y="819.74">0.55</text>
<rect x="540.25" y="810.02" width="36.05" height="12.66" fill="#fdeeab"/>
<text x="558.27" y="819.74">0.57</text>
<rect x="577.5" y="810.02" width="36.05" height="12.66" fill="#fdeeab"/>
<text x="595.52" y="819.74">0.57</text>
<rect x="614.75" y="810.02" width="36.05" height="12.66" fill="#fdeeab"/>
<text x="632.77" y="819.74">0.57</text>
<rect x="354" y="823.87" width="36.05" height="12.66" fill="#eff7d8"/>
<text x="372.02" y="833.6">0.52</text>
<rect x="391.25" y="823.87" width="36.05" height="12.66" fill="#eff7d8"/>
<text x="409.27" y="833.6">0.52</text>
<rect x="428.5" y="823.87" width="36.05" height="12.66" fill="#eff7d8"/>
<text x="446.52" y="833.6">0.52</text>
<rect x="465.75" y="823.87" width="36.05" height="12.66" fill="#e9f4e2"/>
<text x="483.77" y="833.6">0.51</text>
<rect x="503" y="823.87" width="36.05" height="12.66" fill="#f5f9ce"/>
<text x="521.02" y="833.6">0.53</text>
<rect x="540.25" y="823.87" width="36.05" height="12.66" fill="#fdf4b3"/>
<text x="558.27" y="833.6">0.56</text>
<rect x="577.5" y="823.87" width="36.05" height="12.66" fill="#fdf9bc"/>
<text x="595.52" y="833.6">0.55</text>
<rect x="614.75" y="823.87" width="36.05" height="12.66" fill="#fafbc5"/>
<text x="632.77" y="833.6">0.54</text>
<rect x="354" y="837.73" width="36.05" height="12.66" fill="#eff7d8"/>
<text x="372.02" y="847.46">0.52</text>
<rect x="391.25" y="837.73" width="36.05" height="12.66" fill="#e9f4e2"/>
<text x="409.27" y="847.46">0.51</text>
<rect x="428.5" y="837.73" width="36.05" height="12.66" fill="#e4f2eb"/>
<text x="446.52" y="847.46">0.50</text>
<rect x="465.75" y="837.73" width="36.05" height="12.66" fill="#e4f2eb"/>
<text x="483.77" y="847.46">0.50</text>
<rect x="503" y="837.73" width="36.05" height="12.66" fill="#fdf9bc"/>
<text x="521.02" y="847.46">0.55</text>
<rect x="540.25" y="837.73" width="36.05" height="12.66" fill="#fdeeab"/>
<text x="558.27" y="847.46">0.57</text>
<rect x="577.5" y="837.73" width="36.05" height="12.66" fill="#fdeeab"/>
<text x="595.52" y="847.46">0.57</text>
<rect x="614.75" y="837.73" width="36.05" height="12.66" fill="#fdeeab"/>
<text x="632.77" y="847.46">0.57</text>
<rect x="354" y="851.58" width="36.05" height="12.66" fill="#eff7d8"/>
<text x="372.02" y="861.31">0.52</text>
<rect x="391.25" y="851.58" width="36.05" height="12.66" fill="#e4f2eb"/>
<text x="409.27" y="861.31">0.50</text>
<rect x="428.5" y="851.58" width="36.05" height="12.66" fill="#e9f4e2"/>
<text x="446.52" y="861.31">0.51</text>
<rect x="465.75" y="851.58" width="36.05" height="12.66" fill="#eff7d8"/>
<text x="483.77" y="861.31">0.52</text>
<rect x="503" y="851.58" width="36.05" height="12.66" fill="#fdf9bc"/>
<text x="521.02" y="861.31">0.55</text>
<rect x="540.25" y="851.58" width="36.05" height="12.66" fill="#fdeeab"/>
<text x="558.27" y="861.31">0.57</text>
<rect x="577.5" y="851.58" width="36.05" height="12.66" fill="#fdeeab"/>
<text x="595.52" y="861.31">0.57</text>
<rect x="614.75" y="851.58" width="36.05" height="12.66" fill="#fdeeab"/>
<text x="632.77" y="861.31">0.57</text>
<rect x="354" y="865.44" width="36.05" height="12.66" fill="#d0e7f0"/>
<text x="372.02" y="875.17">0.48</text>
<rect x="391.25" y="865.44" width="36.05" height="12.66" fill="#f5f9ce"/>
<text x="409.27" y="875.17">0.53</text>
<rect x="428.5" y="865.44" width="36.05" height="12.66" fill="#88b6d5"/>
<text x="446.52" y="875.17">0.43</text>
<rect x="465.75" y="865.44" width="36.05" height="12.66" fill="#fafbc5"/>
<text x="483.77" y="875.17">0.54</text>
<rect x="503" y="865.44" width="36.05" height="12.66" fill="#fafbc5"/>
<text x="521.02" y="875.17">0.54</text>
<rect x="540.25" y="865.44" width="36.05" height="12.66" fill="#f5f9ce"/>
<text x="558.27" y="875.17">0.53</text>
<rect x="577.5" y="865.44" width="36.05" height="12.66" fill="#fdf4b3"/>
<text x="595.52" y="875.17">0.56</text>
<rect x="614.75" y="865.44" width="36.05" height="12.66" fill="#f5f9ce"/>
<text x="632.77" y="875.17">0.53</text>
<rect x="354" y="879.3" width="36.05" height="12.66" fill="#a5cae0"/>
<text x="372.02" y="889.02">0.45</text>
<rect x="391.25" y="879.3" width="36.05" height="12.66" fill="#c1ddea"/>
<text x="409.27" y="889.02">0.47</text>
<rect x="428.5" y="879.3" width="36.05" height="12.66" fill="#d0e7f0"/>
<text x="446.52" y="889.02">0.48</text>
<rect x="465.75" y="879.3" width="36.05" height="12.66" fill="#d0e7f0"/>
<text x="483.77" y="889.02">0.48</text>
<rect x="503" y="879.3" width="36.05" height="12.66" fill="#fdeeab"/>
<text x="521.02" y="889.02">0.57</text>
<rect x="540.25" y="879.3" width="36.05" height="12.66" fill="#fce9a3"/>
<text x="558.27" y="889.02">0.58</text>
<rect x="577.5" y="879.3" width="36.05" height="12.66" fill="#fce9a3"/>
<text x="595.52" y="889.02">0.58</text>
<rect x="614.75" y="879.3" width="36.05" height="12.66" fill="#fdf4b3"/>
<text x="632.77" y="889.02">0.56</text>
<rect x="354" y="893.15" width="36.05" height="12.66" fill="#fafbc5"/>
<text x="372.02" y="902.88">0.54</text>
<rect x="391.25" y="893.15" width="36.05" height="12.66" fill="#fccf88"/>
<text x="409.27" y="902.88">0.61</text>
<rect x="428.5" y="893.15" width="36.05" height="12.66" fill="#fdf4b3"/>
<text x="446.52" y="902.88">0.56</text>
<rect x="465.75" y="893.15" width="36.05" height="12.66" fill="#f5f9ce"/>
<text x="483.77" y="902.88">0.53</text>
<rect x="503" y="893.15" width="36.05" height="12.66" fill="#fafbc5"/>
<text x="521.02" y="902.88">0.54</text>
<rect x="540.25" y="893.15" width="36.05" height="12.66" fill="#f5f9ce"/>
<text x="558.27" y="902.88">0.53</text>
<rect x="577.5" y="893.15" width="36.05" height="12.66" fill="#fafbc5"/>
<text x="595.52" y="902.88">0.54</text>
<rect x="614.75" y="893.15" width="36.05" height="12.66" fill="#fdeeab"/>
<text x="632.77" y="902.88">0.57</text>
<rect x="354" y="907.01" width="36.05" height="12.66" fill="#eff7d8"/>
<text x="372.02" y="916.74">0.52</text>
<rect x="391.25" y="907.01" width="36.05" height="12.66" fill="#fdf4b3"/>
<text x="409.27" y="916.74">0.56</text>
<rect x="428.5" y="907.01" width="36.05" height="12.66" fill="#fce9a3"/>
<text x="446.52" y="916.74">0.58</text>
<rect x="465.75" y="907.01" width="36.05" height="12.66" fill="#fce39a"/>
<text x="483.77" y="916.74">0.59</text>
<rect x="503" y="907.01" width="36.05" height="12.66" fill="#c1ddea"/>
<text x="521.02" y="916.74">0.47</text>
<rect x="540.25" y="907.01" width="36.05" height="12.66" fill="#fdf9bc"/>
<text x="558.27" y="916.74">0.55</text>
<rect x="577.5" y="907.01" width="36.05" height="12.66" fill="#eff7d8"/>
<text x="595.52" y="916.74">0.52</text>
<rect x="614.75" y="907.01" width="36.05" height="12.66" fill="#fafbc5"/>
<text x="632.77" y="916.74">0.54</text>
<rect x="354" y="920.86" width="36.05" height="12.66" fill="#d0e7f0"/>
<text x="372.02" y="930.59">0.48</text>
<rect x="391.25" y="920.86" width="36.05" height="12.66" fill="#fafbc5"/>
<text x="409.27" y="930.59">0.54</text>
<rect x="428.5" y="920.86" width="36.05" height="12.66" fill="#f5f9ce"/>
<text x="446.52" y="930.59">0.53</text>
<rect x="465.75" y="920.86" width="36.05" height="12.66" fill="#eff7d8"/>
<text x="483.77" y="930.59">0.52</text>
<rect x="503" y="920.86" width="36.05" height="12.66" fill="#def0f5"/>
<text x="521.02" y="930.59">0.49</text>
<rect x="540.25" y="920.86" width="36.05" height="12.66" fill="#e4f2eb"/>
<text x="558.27" y="930.59">0.50</text>
<rect x="577.5" y="920.86" width="36.05" height="12.66" fill="#e4f2eb"/>
<text x="595.52" y="930.59">0.50</text>
<rect x="614.75" y="920.86" width="36.05" height="12.66" fill="#e4f2eb"/>
<text x="632.77" y="930.59">0.50</text>
<rect x="354" y="934.72" width="36.05" height="12.66" fill="#eff7d8"/>
<text x="372.02" y="944.45">0.52</text>
<rect x="391.25" y="934.72" width="36.05" height="12.66" fill="#f5f9ce"/>
<text x="409.27" y="944.45">0.53</text>
<rect x="428.5" y="934.72" width="36.05" height="12.66" fill="#f5f9ce"/>
<text x="446.52" y="944.45">0.53</text>
<rect x="465.75" y="934.72" width="36.05" height="12.66" fill="#f5f9ce"/>
<text x="483.77" y="944.45">0.53</text>
<rect x="503" y="934.72" width="36.05" height="12.66" fill="#b3d4e5"/>
<text x="521.02" y="944.45">0.46</text>
<rect x="540.25" y="934.72" width="36.05" height="12.66" fill="#fafbc5"/>
<text x="558.27" y="944.45">0.54</text>
<rect x="577.5" y="934.72" width="36.05" height="12.66" fill="#fafbc5"/>
<text x="595.52" y="944.45">0.54</text>
<rect x="614.75" y="934.72" width="36.05" height="12.66" fill="#f5f9ce"/>
<text x="632.77" y="944.45">0.53</text>
<rect x="354" y="948.58" width="36.05" height="12.66" fill="#fdf9bc"/>
<text x="372.02" y="958.3">0.55</text>
<rect x="391.25" y="948.58" width="36.05" height="12.66" fill="#fafbc5"/>
<text x="409.27" y="958.3">0.54</text>
<rect x="428.5" y="948.58" width="36.05" height="12.66" fill="#fafbc5"/>
<text x="446.52" y="958.3">0.54</text>
<rect x="465.75" y="948.58" width="36.05" height="12.66" fill="#eff7d8"/>
<text x="483.77" y="958.3">0.52</text>
<rect x="503" y="948.58" width="36.05" height="12.66" fill="#b3d4e5"/>
<text x="521.02" y="958.3">0.46</text>
<rect x="540.25" y="948.58" width="36.05" height="12.66" fill="#fce39a"/>
<text x="558.27" y="958.3">0.59</text>
<rect x="577.5" y="948.58" width="36.05" height="12.66" fill="#96c1db"/>
<text x="595.52" y="958.3">0.44</text>
<rect x="614.75" y="948.58" width="36.05" height="12.66" fill="#b3d4e5"/>
<text x="632.77" y="958.3">0.46</text>
<rect x="354" y="962.43" width="36.05" height="12.66" fill="#fdf9bc"/>
<text x="372.02" y="972.16">0.55</text>
<rect x="391.25" y="962.43" width="36.05" height="12.66" fill="#fdeeab"/>
<text x="409.27" y="972.16">0.57</text>
<rect x="428.5" y="962.43" width="36.05" height="12.66" fill="#fdeeab"/>
<text x="446.52" y="972.16">0.57</text>
<rect x="465.75" y="962.43" width="36.05" height="12.66" fill="#eff7d8"/>
<text x="483.77" y="972.16">0.52</text>
<rect x="503" y="962.43" width="36.05" height="12.66" fill="#c1ddea"/>
<text x="521.02" y="972.16">0.47</text>
<rect x="540.25" y="962.43" width="36.05" height="12.66" fill="#b3d4e5"/>
<text x="558.27" y="972.16">0.46</text>
<rect x="577.5" y="962.43" width="36.05" height="12.66" fill="#b3d4e5"/>
<text x="595.52" y="972.16">0.46</text>
<rect x="614.75" y="962.43" width="36.05" height="12.66" fill="#a5cae0"/>
<text x="632.77" y="972.16">0.45</text>
<rect x="354" y="976.29" width="36.05" height="12.66" fill="#fce39a"/>
<text x="372.02" y="986.02">0.59</text>
<rect x="391.25" y="976.29" width="36.05" height="12.66" fill="#fafbc5"/>
<text x="409.27" y="986.02">0.54</text>
<rect x="428.5" y="976.29" width="36.05" height="12.66" fill="#c1ddea"/>
<text x="446.52" y="986.02">0.47</text>
<rect x="465.75" y="976.29" width="36.05" height="12.66" fill="#e4f2eb"/>
<text x="483.77" y="986.02">0.50</text>
<rect x="503" y="976.29" width="36.05" height="12.66" fill="#fafbc5"/>
<text x="521.02" y="986.02">0.54</text>
<rect x="540.25" y="976.29" width="36.05" height="12.66" fill="#eff7d8"/>
<text x="558.27" y="986.02">0.52</text>
<rect x="577.5" y="976.29" width="36.05" height="12.66" fill="#eff7d8"/>
<text x="595.52" y="986.02">0.52</text>
<rect x="614.75" y="976.29" width="36.05" height="12.66" fill="#e9f4e2"/>
<text x="632.77" y="986.02">0.51</text>
<rect x="354" y="990.14" width="36.05" height="12.66" fill="#fdeeab"/>
<text x="372.02" y="999.87">0.57</text>
<rect x="391.25" y="990.14" width="36.05" height="12.66" fill="#e4f2eb"/>
<text x="409.27" y="999.87">0.50</text>
<rect x="428.5" y="990.14" width="36.05" height="12.66" fill="#d0e7f0"/>
<text x="446.52" y="999.87">0.48</text>
<rect x="465.75" y="990.14" width="36.05" height="12.66" fill="#c1ddea"/>
<text x="483.77" y="999.87">0.47</text>
<rect x="503" y="990.14" width="36.05" height="12.66" fill="#fafbc5"/>
<text x="521.02" y="999.87">0.54</text>
<rect x="540.25" y="990.14" width="36.05" height="12.66" fill="#fdf9bc"/>
<text x="558.27" y="999.87">0.55</text>
<rect x="577.5" y="990.14" width="36.05" height="12.66" fill="#f5f9ce"/>
<text x="595.52" y="999.87">0.53</text>
<rect x="614.75" y="990.14" width="36.05" height="12.66" fill="#fafbc5"/>
<text x="632.77" y="999.87">0.54</text>
<rect x="354" y="1004" width="36.05" height="12.66" fill="#fdf9bc"/>
<text x="372.02" y="1013.73">0.55</text>
<rect x="391.25" y="1004" width="36.05" height="12.66" fill="#eff7d8"/>
<text x="409.27" y="1013.73">0.52</text>
<rect x="428.5" y="1004" width="36.05" height="12.66" fill="#e9f4e2"/>
<text x="446.52" y="1013.73">0.51</text>
<rect x="465.75" y="1004" width="36.05" height="12.66" fill="#e9f4e2"/>
<text x="483.77" y="1013.73">0.51</text>
<rect x="503" y="1004" width="36.05" height="12.66" fill="#def0f5"/>
<text x="521.02" y="1013.73">0.49</text>
<rect x="540.25" y="1004" width="36.05" height="12.66" fill="#def0f5"/>
<text x="558.27" y="1013.73">0.49</text>
<rect x="577.5" y="1004" width="36.05" height="12.66" fill="#c1ddea"/>
<text x="595.52" y="1013.73">0.47</text>
<rect x="614.75" y="1004" width="36.05" height="12.66" fill="#c1ddea"/>
<text x="632.77" y="1013.73">0.47</text>
<rect x="354" y="1017.86" width="36.05" height="12.66" fill="#fafbc5"/>
<text x="372.02" y="1027.58">0.54</text>
<rect x="391.25" y="1017.86" width="36.05" height="12.66" fill="#b3d4e5"/>
<text x="409.27" y="1027.58">0.46</text>
<rect x="428.5" y="1017.86" width="36.05" height="12.66" fill="#b3d4e5"/>
<text x="446.52" y="1027.58">0.46</text>
<rect x="465.75" y="1017.86" width="36.05" height="12.66" fill="#e4f2eb"/>
<text x="483.77" y="1027.58">0.50</text>
<rect x="503" y="1017.86" width="36.05" height="12.66" fill="#b3d4e5"/>
<text x="521.02" y="1027.58">0.46</text>
<rect x="540.25" y="1017.86" width="36.05" height="12.66" fill="#e9f4e2"/>
<text x="558.27" y="1027.58">0.51</text>
<rect x="577.5" y="1017.86" width="36.05" height="12.66" fill="#def0f5"/>
<text x="595.52" y="1027.58">0.49</text>
<rect x="614.75" y="1017.86" width="36.05" height="12.66" fill="#e4f2eb"/>
<text x="632.77" y="1027.58">0.50</text>
<rect x="354" y="1031.71" width="36.05" height="12.66" fill="#fdeeab"/>
<text x="372.02" y="1041.44">0.57</text>
<rect x="391.25" y="1031.71" width="36.05" height="12.66" fill="#fafbc5"/>
<text x="409.27" y="1041.44">0.54</text>
<rect x="428.5" y="1031.71" width="36.05" height="12.66" fill="#fafbc5"/>
<text x="446.52" y="1041.44">0.54</text>
<rect x="465.75" y="1031.71" width="36.05" height="12.66" fill="#b3d4e5"/>
<text x="483.77" y="1041.44">0.46</text>
<rect x="503" y="1031.71" width="36.05" height="12.66" fill="#fce39a"/>
<text x="521.02" y="1041.44">0.59</text>
<rect x="540.25" y="1031.71" width="36.05" height="12.66" fill="#c1ddea"/>
<text x="558.27" y="1041.44">0.47</text>
<rect x="577.5" y="1031.71" width="36.05" height="12.66" fill="#b3d4e5"/>
<text x="595.52" y="1041.44">0.46</text>
<rect x="614.75" y="1031.71" width="36.05" height="12.66" fill="#d0e7f0"/>
<text x="632.77" y="1041.44">0.48</text>
<rect x="354" y="1045.57" width="36.05" height="12.66" fill="#fdf4b3"/>
<text x="372.02" y="1055.3">0.56</text>
<rect x="391.25" y="1045.57" width="36.05" height="12.66" fill="#fafbc5"/>
<text x="409.27" y="1055.3">0.54</text>
<rect x="428.5" y="1045.57" width="36.05" height="12.66" fill="#f5f9ce"/>
<text x="446.52" y="1055.3">0.53</text>
<rect x="465.75" y="1045.57" width="36.05" height="12.66" fill="#f5f9ce"/>
<text x="483.77" y="1055.3">0.53</text>
<rect x="503" y="1045.57" width="36.05" height="12.66" fill="#fce9a3"/>
<text x="521.02" y="1055.3">0.58</text>
<rect x="540.25" y="1045.57" width="36.05" height="12.66" fill="#c1ddea"/>
<text x="558.27" y="1055.3">0.47</text>
<rect x="577.5" y="1045.57" width="36.05" height="12.66" fill="#c1ddea"/>
<text x="595.52" y="1055.3">0.47</text>
<rect x="614.75" y="1045.57" width="36.05" height="12.66" fill="#b3d4e5"/>
<text x="632.77" y="1055.3">0.46</text>
<rect x="354" y="1059.42" width="36.05" height="12.66" fill="#b3d4e5"/>
<text x="372.02" y="1069.15">0.46</text>
<rect x="391.25" y="1059.42" width="36.05" height="12.66" fill="#def0f5"/>
<text x="409.27" y="1069.15">0.49</text>
<rect x="428.5" y="1059.42" width="36.05" height="12.66" fill="#e4f2eb"/>
<text x="446.52" y="1069.15">0.50</text>
<rect x="465.75" y="1059.42" width="36.05" height="12.66" fill="#e4f2eb"/>
<text x="483.77" y="1069.15">0.50</text>
<rect x="503" y="1059.42" width="36.05" height="12.66" fill="#fdf9bc"/>
<text x="521.02" y="1069.15">0.55</text>
<rect x="540.25" y="1059.42" width="36.05" height="12.66" fill="#e9f4e2"/>
<text x="558.27" y="1069.15">0.51</text>
<rect x="577.5" y="1059.42" width="36.05" height="12.66" fill="#e4f2eb"/>
<text x="595.52" y="1069.15">0.50</text>
<rect x="614.75" y="1059.42" width="36.05" height="12.66" fill="#e4f2eb"/>
<text x="632.77" y="1069.15">0.50</text>
<rect x="354" y="1073.28" width="36.05" height="12.66" fill="#f5f9ce"/>
<text x="372.02" y="1083.01">0.53</text>
<rect x="391.25" y="1073.28" width="36.05" height="12.66" fill="#eff7d8"/>
<text x="409.27" y="1083.01">0.52</text>
<rect x="428.5" y="1073.28" width="36.05" height="12.66" fill="#eff7d8"/>
<text x="446.52" y="1083.01">0.52</text>
<rect x="465.75" y="1073.28" width="36.05" height="12.66" fill="#e9f4e2"/>
<text x="483.77" y="1083.01">0.51</text>
<rect x="503" y="1073.28" width="36.05" height="12.66" fill="#fdeeab"/>
<text x="521.02" y="1083.01">0.57</text>
<rect x="540.25" y="1073.28" width="36.05" height="12.66" fill="#fdf9bc"/>
<text x="558.27" y="1083.01">0.55</text>
<rect x="577.5" y="1073.28" width="36.05" height="12.66" fill="#c1ddea"/>
<text x="595.52" y="1083.01">0.47</text>
<rect x="614.75" y="1073.28" width="36.05" height="12.66" fill="#c1ddea"/>
<text x="632.77" y="1083.01">0.47</text>
<rect x="354" y="1087.14" width="36.05" height="12.66" fill="#eff7d8"/>
<text x="372.02" y="1096.86">0.52</text>
<rect x="391.25" y="1087.14" width="36.05" height="12.66" fill="#fafbc5"/>
<text x="409.27" y="1096.86">0.54</text>
<rect x="428.5" y="1087.14" width="36.05" height="12.66" fill="#eff7d8"/>
<text x="446.52" y="1096.86">0.52</text>
<rect x="465.75" y="1087.14" width="36.05" height="12.66" fill="#f5f9ce"/>
<text x="483.77" y="1096.86">0.53</text>
<rect x="503" y="1087.14" width="36.05" height="12.66" fill="#fdeeab"/>
<text x="521.02" y="1096.86">0.57</text>
<rect x="540.25" y="1087.14" width="36.05" height="12.66" fill="#e9f4e2"/>
<text x="558.27" y="1096.86">0.51</text>
<rect x="577.5" y="1087.14" width="36.05" height="12.66" fill="#e9f4e2"/>
<text x="595.52" y="1096.86">0.51</text>
<rect x="614.75" y="1087.14" width="36.05" height="12.66" fill="#eff7d8"/>
<text x="632.77" y="1096.86">0.52</text>
</g>
<g font-size="11.05" fill="#111">
<text x="655" y="668.33">cg23088318</text>
<text x="655" y="682.18">cg15508935</text>
<text x="655" y="696.04">cg00638797</text>
<text x="655" y="709.9">cg15320980</text>
<text x="655" y="723.75">Hydroxypropionic acid</text>
<text x="655" y="737.61">cg18243574</text>
<text x="655" y="751.46">9E−tetradecenoic acid</text>
<text x="655" y="765.32">cg18249968</text>
<text x="655" y="779.18">cg09656629</text>
<text x="655" y="793.03">Bifidobacterium_dentium</text>
<text x="655" y="806.89">Klebsiella_variicola</text>
<text x="655" y="820.74">cg00431894</text>
<text x="655" y="834.6">cg25960393</text>
<text x="655" y="848.46">5Z−Dodecenoic acid</text>
<text x="655" y="862.31">Streptococcus_salivarius</text>
<text x="655" y="876.17">cg00329101</text>
<text x="655" y="890.02">3−Hydroxybutyric acid</text>
<text x="655" y="903.88">Haemophilus_parainfluenzae</text>
<text x="655" y="917.74">Klebsiella_quasipneumoniae</text>
<text x="655" y="931.59">cg09057517</text>
<text x="655" y="945.45">Adipic acid</text>
<text x="655" y="959.3">cg11070274</text>
<text x="655" y="973.16">Streptococcus_parasanguinis</text>
<text x="655" y="987.02">Veillonella_parvula</text>
<text x="655" y="1000.87">Klebsiella_pneumoniae</text>
<text x="655" y="1014.73">Intestinibacter_bartlettii</text>
<text x="655" y="1028.58">Gemmiger_formicilis</text>
<text x="655" y="1042.44">cg21813369</text>
<text x="655" y="1056.3">Threonic acid</text>
<text x="655" y="1070.15">Suberic acid</text>
<text x="655" y="1084.01">cg22026953</text>
<text x="655" y="1097.86">cg18008345</text>
</g>
<rect x="653.3" y="657" width="126.2" height="151.8" fill="none" stroke="#9a3cc0" stroke-width="1.5" />
<path d="M352.9 663.93H336.1V677.78H352.9" fill="none" stroke="#222" stroke-width="1.3"/>
<path d="M352.9 705.5H346.5V719.35H352.9" fill="none" stroke="#222" stroke-width="1.3"/>
<path d="M352.9 691.64H339.2V712.42H346.5" fill="none" stroke="#222" stroke-width="1.3"/>
<path d="M352.9 733.21H346.2V747.06H352.9" fill="none" stroke="#222" stroke-width="1.3"/>
<path d="M352.9 760.92H342.7V774.78H352.9" fill="none" stroke="#222" stroke-width="1.3"/>
<path d="M346.2 740.14H338.2V767.85H342.7" fill="none" stroke="#222" stroke-width="1.3"/>
<path d="M339.2 702.03H328.6V753.99H338.2" fill="none" stroke="#222" stroke-width="1.3"/>
<path d="M336.1 670.86H314.4V728.01H328.6" fill="none" stroke="#222" stroke-width="1.3"/>
<path d="M352.9 788.63H343.7V802.49H352.9" fill="none" stroke="#222" stroke-width="1.3"/>
<path d="M352.9 844.06H351.2V857.91H352.9" fill="none" stroke="#222" stroke-width="1.3"/>
<path d="M352.9 830.2H348.6V850.98H351.2" fill="none" stroke="#222" stroke-width="1.3"/>
<path d="M352.9 816.34H346.9V840.59H348.6" fill="none" stroke="#222" stroke-width="1.3"/>
<path d="M352.9 871.77H339.6V885.62H352.9" fill="none" stroke="#222" stroke-width="1.3"/>
<path d="M346.9 828.47H337.5V878.7H339.6" fill="none" stroke="#222" stroke-width="1.3"/>
<path d="M352.9 927.19H344V941.05H352.9" fill="none" stroke="#222" stroke-width="1.3"/>
<path d="M352.9 913.34H340.7V934.12H344" fill="none" stroke="#222" stroke-width="1.3"/>
<path d="M352.9 899.48H336.8V923.73H340.7" fill="none" stroke="#222" stroke-width="1.3"/>
<path d="M352.9 954.9H337.5V968.76H352.9" fill="none" stroke="#222" stroke-width="1.3"/>
<path d="M352.9 982.62H345.5V996.47H352.9" fill="none" stroke="#222" stroke-width="1.3"/>
<path d="M352.9 1010.33H343.3V1024.18H352.9" fill="none" stroke="#222" stroke-width="1.3"/>
<path d="M345.5 989.54H338.9V1017.26H343.3" fill="none" stroke="#222" stroke-width="1.3"/>
<path d="M352.9 1038.04H344.7V1051.9H352.9" fill="none" stroke="#222" stroke-width="1.3"/>
<path d="M352.9 1079.61H343.4V1093.46H352.9" fill="none" stroke="#222" stroke-width="1.3"/>
<path d="M352.9 1065.75H341.4V1086.54H343.4" fill="none" stroke="#222" stroke-width="1.3"/>
<path d="M344.7 1044.97H336.1V1076.14H341.4" fill="none" stroke="#222" stroke-width="1.3"/>
<path d="M338.9 1003.4H333.4V1060.56H336.1" fill="none" stroke="#222" stroke-width="1.3"/>
<path d="M337.5 961.83H330.6V1031.98H333.4" fill="none" stroke="#222" stroke-width="1.3"/>
<path d="M336.8 911.6H327.5V996.9H330.6" fill="none" stroke="#222" stroke-width="1.3"/>
<path d="M337.5 853.58H320.6V954.25H327.5" fill="none" stroke="#222" stroke-width="1.3"/>
<path d="M343.7 795.56H298V903.92H320.6" fill="none" stroke="#222" stroke-width="1.3"/>
<path d="M314.4 699.43H295.8V849.74H298" fill="none" stroke="#222" stroke-width="1.3"/>
<g font-size="11" fill="#111" text-anchor="end">
<text transform="translate(378.32 1109.2) rotate(-45)">Original</text>
<text transform="translate(415.57 1109.2) rotate(-45)">Adjustment I</text>
<text transform="translate(452.82 1109.2) rotate(-45)">Adjustment II</text>
<text transform="translate(490.07 1109.2) rotate(-45)">Adjustment III</text>
<text transform="translate(527.32 1109.2) rotate(-45)">Original</text>
<text transform="translate(564.57 1109.2) rotate(-45)">Adjustment I</text>
<text transform="translate(601.82 1109.2) rotate(-45)">Adjustment II</text>
<text transform="translate(639.07 1109.2) rotate(-45)">Adjustment III</text>
</g>
<text x="790.6" y="688.2" font-size="10.6" font-weight="bold" dominant-baseline="central" fill="#111" >AUC</text>
<defs><linearGradient id="hl" x1="0" y1="1" x2="0" y2="0">
<stop offset="0" stop-color="#4575b4"/>
<stop offset="0.17" stop-color="#8fbcd8"/>
<stop offset="0.33" stop-color="#def0f5"/>
<stop offset="0.5" stop-color="#fdfcc0"/>
<stop offset="0.67" stop-color="#fcde92"/>
<stop offset="0.83" stop-color="#fa8e5c"/>
<stop offset="1" stop-color="#d03228"/>
</linearGradient></defs>
<rect x="790.6" y="698.2" width="8.8" height="131.6" fill="url(#hl)" />
<text x="802.8" y="701.48" font-size="8.9" dominant-baseline="central" fill="#222" >0.7</text>
<text x="802.8" y="721.8" font-size="8.9" dominant-baseline="central" fill="#222" >0.65</text>
<text x="802.8" y="742.12" font-size="8.9" dominant-baseline="central" fill="#222" >0.6</text>
<text x="802.8" y="762.44" font-size="8.9" dominant-baseline="central" fill="#222" >0.55</text>
<text x="802.8" y="782.76" font-size="8.9" dominant-baseline="central" fill="#222" >0.5</text>
<text x="802.8" y="803.08" font-size="8.9" dominant-baseline="central" fill="#222" >0.45</text>
<text x="802.8" y="823.4" font-size="8.9" dominant-baseline="central" fill="#222" >0.4</text>
</g>
</svg>
</body></html>
